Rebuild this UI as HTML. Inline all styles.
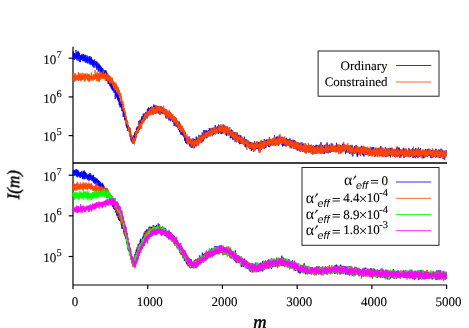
<!DOCTYPE html>
<html><head><meta charset="utf-8"><title>I(m)</title>
<style>
html,body{margin:0;padding:0;background:#fff;}
body{width:469px;height:328px;overflow:hidden;font-family:"Liberation Serif",serif;}
svg{display:block;}
text{font-family:"Liberation Serif",serif;fill:#000;stroke:#000;stroke-width:0.12px;text-rendering:geometricPrecision;}
text.ss{font-family:"Liberation Sans",sans-serif;font-style:italic;font-size:10.8px;stroke:none;}
text.nb{stroke:none;}
text.eq{stroke-width:0.25px;}
text.lb{stroke-width:0.5px;}
</style></head>
<body>
<svg width="469" height="328" viewBox="0 0 469 328">
<rect width="469" height="328" fill="#fff"/>
<g stroke="#000" stroke-width="1.18" fill="none">
<line x1="73.0" y1="46.8" x2="73.0" y2="289.0" />
<line x1="73.0" y1="163.0" x2="447.1" y2="163.0" stroke-width="1.62"/>
<line x1="73.0" y1="285.0" x2="447.1" y2="285.0" />
<line x1="147.72" y1="285.0" x2="147.72" y2="289.0" />
<line x1="222.44" y1="285.0" x2="222.44" y2="289.0" />
<line x1="297.16" y1="285.0" x2="297.16" y2="289.0" />
<line x1="371.88" y1="285.0" x2="371.88" y2="289.0" />
<line x1="446.60" y1="285.0" x2="446.60" y2="289.0" />
<line x1="68.6" y1="58.20" x2="73.0" y2="58.20" />
<line x1="68.6" y1="175.20" x2="73.0" y2="175.20" />
<line x1="68.6" y1="96.90" x2="73.0" y2="96.90" />
<line x1="68.6" y1="215.85" x2="73.0" y2="215.85" />
<line x1="68.6" y1="135.60" x2="73.0" y2="135.60" />
<line x1="68.6" y1="256.50" x2="73.0" y2="256.50" />
</g>
<g fill="none" stroke="#000" stroke-opacity="0.85" stroke-width="1">
<rect x="318.1" y="51" width="120.9" height="45.2"/>
<rect x="302" y="167.5" width="137" height="77.8"/>
</g>
<g fill="none" stroke-width="0.8" stroke-linejoin="round">
<path d="M73 51.9l.15 7.5l.22-.3l.08-7.7l.15 6.8l.07-4.9l.3 1.9l.23 3.6l.29 1.2l.08-6.8l.15 4.4l.07-3.4l.15-.7l.3 5.3l.23-.9l.07-3.8l.23 .1l.07 4.1l.15-8.3l.22 6.1l.15 1.6l.23-1.5l.07 4l.23-6.7l.07-1.5l.15 6.8l.15-1.8l.22-3.3l.15 3.2l.23-2.5l.07-3.5l.15 10.1l.38-9.2l.07 5.2l.08 2.4l.07-4.5l.3 1.6l.15 1.9l.3-1.7l.15-4l.07 4l.15 5l.3-3.4l.15 3.9l.15-2.7l.07-4l.23 4.7l.22-5l.08 .6l.07 3.2l.3-4.1l.08 5.2l.29-4.2l.08 3.2l.22-5.3l.08 4l.3 .4l.15-2.8l.07 1.1l.08 4.6l.29-.2l.23-4.2l.07 3.7l.15-6.3l.15 1.3l.15 4.8l.3 1.2l.08-3.8l.14-.4l.15 1.9l.23-4.3l.07 6.3l.23-6l.3 7.5l.22-1.3l.08-5l.14 1.7l.15-3.2l.08 4.1l.22 3.7l.23-1.3l.07-3.2l.23-.6l.07 4.2l.23-.4l.14-2.7l.15-3l.15 7.9l.3-2.4l.08-3.8l.22-.4l.08 4.8l.3 .9l.07-2.3l.15-1.8l.3 2.1l.15-4.2l.15 3.8l.07 4l.08-6.2l.37-1.9l.15 6.2l.15-4.1l.15 6.3l.15-4.9l.22 3l.08-3.7l.15 1.6l.22-3.8l.23 8.4l.14-7.6l.15 4.8l.15-1.5l.08 3.3l.22-1.2l.15-3.8l.15 1l.23 5.2l.15-5.2l.14 6.4l.38-6.3l.07 4.7l.08-3.8l.15 4.4l.15-4.2l.07 6.2l.23-6.7l.07 4.4l.37-2l.08-3.8l.22 2.4l.15 5.9l.3-2.7l.08-2.8l.15 3l.07-4l.3 3.6l.15-3l.07 1.6l.3-2l.15 6l.08-3.7l.3 6l.15-8.2l.07 .3l.22 4.6l.08 2l.3-3.9l.15-.1l.15-1.8l.15 2.5l.15 6.7l.22-7.5l.15 5.7l.15 .5l.15-2.9l.15-4l.07 4.5l.38 1.4l.07-4.7l.15 .9l.22 5l.15-4.1l.08 7l.3-8.1l.07 4.4l.3-3.2l.08 5l.07-2.8l.08 1.8l.37 1.8l.07-5.7l.15 5.8l.15-4.6l.23 2.6l.07-2.1l.3 1l.15 5.5l.15-7.1l.15 5.2l.15-.7l.07-3.2l.45 5.9l.08-3.6l.15 3.4l.07-3.4l.3 .5l.07 2.6l.3-1.9l.08-1.1l.22 5.2l.15-6.8l.08 2.2l.22 4.2l.15-5l.15 4.6l.22-5.7l.15 6.4l.08-6l.22 8.6l.3-3.4l.08 2.3l.15-5.9l.07 8.5l.15-7.2l.07 7.3l.38-1.8l.07 1.4l.15-3.1l.15-3.7l.3 1.8l.08 8.6l.14-7.1l.23 6.5l.15-1.6l.07-5.3l.23 .2l.15 2.7l.3 .7l.07-2.9l.15 6.9l.15-2.4l.22 4.4l.23-5.6l.07 3.8l.15-4.6l.23 6.5l.07-3.3l.3 .4l.07 4.1l.15-4.8l.08 5.8l.3-6.2l.15 7.1l.22-.7l.15-4.1l.23 2.3l.07-2l.15 5.3l.3-5.7l.07-1.3l.15 7.8l.15-3.5l.15 1.9l.23-.7l.15 3.6l.29 .4l.15-8.2l.23 6.1l.07-2.4l.08 4.2l.15-4.4l.37 2.8l.08 8.2l.07-7.5l.07-1.9l.3 3.5l.15-4l.3 6.9l.08-3.2l.15 0l.07 3.8l.23-4l.07 5l.37-1.6l.15-3.1l.08 .4l.22 7l.23-5.2l.07 3.5l.15-7.2l.15 6.5l.22-2.2l.15 6.2l.15-4.5l.23 1.9l.07 0l.23 5.6l.15-7l.15 6.7l.22-2.7l.15 5.3l.22-.6l.15-5.4l.08 .4l.22 5.2l.15 .4l.15-5.3l.15 4.2l.22-5.1l.23 7.4l.07-3.2l.15-1.4l.23 7.3l.22-.1l.08-6.2l.15 1l.07 4.8l.22-4.3l.08 5.1l.3-1.6l.15 7.3l.15-.9l.07-6.2l.3 2.4l.22 3.3l.08-.1l.07-3.9l.3 1.1l.23 2.9l.07 4.6l.08-5.4l.22-1.3l.22 5.6l.23-1.5l.07 2.3l.23-.8l.15 1.5l.15-1l.22 6.1l.08-4.5l.22 6.2l.15-4.2l.22 1.7l.23 3.2l.07-5.9l.23 1.2l.15 4.7l.07 2.6l.08-5.8l.29-.2l.08 4.1l.3-3.3l.15 2.7l.22 3.1l.15-1.8l.23 1l.07-2.2l.08-1.2l.22 6.2l.15 .5l.07-4.2l.23 1.4l.15 6.1l.22-.2l.23-8.3l.15 6.6l.22 4.9l.15-.1l.07-4.7l.23 6.2l.22-4.6l.15 4l.08-1.6l.22 3.1l.15-5.8l.22 5.5l.15-2.9l.23-1.8l.07 6.1l.08-4.9l.3 3.3l.22-2.2l.08 1.3l.14-1.3l.08-4.3l.3 3.1l.15-3.1l.07 4.2l.08-7.2l.37 2.7l.08 5.5l.15 0l.29-7l.23 5.1l.07-6.1l.15 .4l.15 3.6l.08-5.6l.22 6.4l.23-9.8l.07 5.8l.15-3l.07 3.2l.38-5.9l.15 5.8l.15-6.8l.22 4.8l.23-.7l.07-4.8l.07 1.3l.3 3.1l.23-5.5l.07 5.1l.08 1l.07-9.9l.45 1.4l.08 3.1l.07 4.2l.15-5.8l.22-1.1l.15 1.3l.23-4.2l.07 2.5l.23-2.8l.07 4.4l.3-.8l.07 1.4l.15-.1l.3-5.3l.08 5.4l.07-4.6l.3-2.9l.15 6.4l.15-.9l.08-6.8l.22 6.2l.15-3.9l.22-.5l.23 2.5l.3 1.8l.07-8.5l.08 4.2l.15 3.8l.22-6.6l.07 5.3l.23-2.2l.15-3l.15 5.7l.07-7.3l.38 4.3l.07-4.1l.15 .2l.07 2.5l.38 3.3l.15-7.2l.07 3.8l.23-3.8l.07 3.9l.23-3.6l.14 1.6l.23-1.8l.07-.1l.08 3.3l.3 2.5l.07-4.3l.23-4.2l.22 7.7l.15-3.1l.22-5.8l.23 5.8l.07-5.4l.15 7.2l.15-8.7l.15 6.7l.08-2.8l.22-.8l.15 2.2l.22-1.1l.15 1.4l.15-5.2l.08 5.5l.3-4.9l.15 2.3l.22 2.1l.22-5.9l.08 7.6l.07-5.6l.3 3.7l.15-5.8l.15 3.6l.23-3.8l.15 6l.15-4.7l.14 .4l.08 5.8l.3-1.9l.15-4.1l.22 6.1l.15-6.3l.15 4.7l.15-5.3l.15 3.4l.22-4.3l.15 5.1l.08-7.1l.22 3.4l.23 4.9l.07-6.6l.15 7l.15-2.3l.15-5.5l.37 3.8l.08 1.7l.3-2.5l.07 4.7l.08-5.4l.15 5.9l.22-8.2l.15 5.5l.3 1.1l.07-5l.23 5.9l.07-5.7l.15-1.5l.23 5.4l.15-4.3l.15 5.9l.07-2.5l.07 2.1l.3-5.9l.23 7l.07-3.9l.08-2.6l.3 5.4l.22-3.3l.22-2.2l.08 6.6l.15-1.9l.07-1.5l.38 4.2l.07-2.5l.15-3.3l.15 2.9l.23-5l.07 5.1l.22-.8l.23 2.8l.07-4.4l.08 4.5l.37-.8l.15-6.1l.15 6.5l.08-2.8l.22-3.1l.22 5.3l.08 .9l.22-5.6l.15 6.2l.23-6l.07 1.1l.15 4.8l.37-.8l.08-4.5l.15 4.8l.07-2.9l.15-2.4l.08 5.6l.37-4.1l.08 4.5l.29-2.9l.08 2.9l.3-4.9l.07 4.8l.08 1.4l.15-4.4l.37-.8l.08 7.4l.15-4.3l.14 5.2l.08-1.1l.22-6.8l.15 4.3l.15-4.3l.3 7.9l.08-5l.15 .6l.14 .8l.23-1.2l.22-2.9l.08 2l.15 4.2l.22-.8l.23-3.3l.07 .3l.08 5.4l.22 1.9l.3-7.7l.07 1.1l.08 2.2l.22-1.3l.08 3.4l.3 2l.22-8.2l.22 7.1l.08-4.4l.15 6.6l.07-7.9l.3 4.4l.08-3.2l.3 5l.07-5.6l.15 5.4l.22-3.6l.08 1.2l.07 3.1l.38-4.6l.15 6.6l.22-1.9l.15-3.2l.22 1.1l.08 3.6l.15-.3l.07-3.3l.23 .2l.15 4.6l.22-3.5l.08 6.7l.22-8.5l.22 4.1l.15-2.5l.08 4l.15-1.7l.07 4l.45-.1l.08-8.1l.22 1.8l.08 5.5l.29 2.1l.08-7.5l.15-1.2l.07 7.1l.3 1.9l.15-5.1l.3-1.2l.08 5l.22-3.6l.07 2.3l.08 3.2l.15-5.4l.15-.6l.22 4.5l.23 3.6l.07-6.7l.23 4.5l.07-5.4l.22 7.9l.15-8.6l.15 5.1l.15 5.7l.23-2.4l.07-5.4l.3 6.7l.08-7.3l.37 6l.07-2.1l.3 6.7l.08-6.2l.15 .4l.15 6l.3-1.3l.07-6.8l.07 3.5l.15 3.9l.23-2.2l.07 3.3l.38-4.6l.07 4l.08-4.8l.22 5.9l.22-4.4l.15 3.4l.08-2.3l.07 3.9l.23 .1l.22-3.9l.15 5l.23-2.4l.15-1.1l.22 6.6l.07-3.8l.23 3.7l.07-2.5l.08-5.9l.45 9.3l.07-6.9l.15 8.7l.15-7.5l.22 3.7l.15-2.4l.15 6.9l.08-6.6l.15-1.2l.07 7.4l.3-1.2l.15-2.4l.15-1.9l.15 4.8l.22-1.5l.23-1l.22-1.4l.15 4l.08 .2l.15-2.2l.22 2.8l.15-3.4l.15-3.8l.07 6.7l.3-3l.15 5.6l.15-1.8l.15-4l.15-.8l.22 7.8l.23-4.2l.07 1.9l.23-5.7l.15 7.1l.22-.8l.15-5.4l.08 8.2l.07-7.9l.3 5l.15-4.9l.15 5.7l.07-6l.3 6.6l.23-6l.15 7.3l.14-7l.15-.4l.15 3.4l.15 .8l.08-5.2l.3-1l.07 7.5l.38-6.1l.07 8.6l.15-4.1l.22-4.5l.08 4.3l.22-4.7l.08 .6l.15 3.3l.3 3l.07-5l.3 .5l.07-2.3l.23 6.5l.07-9.4l.23 3.7l.07 5.5l.15-5.8l.15 4.5l.3-6.7l.15 6.4l.3-.6l.07-3l.15 3.8l.15-4.4l.08-.3l.3 2.4l.07 1.1l.08-5.7l.22-.5l.07 3.5l.3-5.5l.08 6.8l.22-1.8l.08-3.3l.22 4.9l.08-4.4l.37 5l.07-3.4l.15-.8l.08 3.5l.3-5.5l.15 6.2l.3-7l.15 5.2l.14-1l.15-4.1l.08 7.9l.22-6.5l.3 5.2l.08-9.4l.15 8.8l.22-5l.08 4.6l.07-5.3l.3 6l.07-6.5l.23 5.6l.22-6.8l.08 5l.07-8.4l.3 1.4l.15 7.3l.15-9l.07 9l.3-1.4l.15-3.8l.3 4l.08-6l.07 6l.3-6.3l.07-.2l.23 5.1l.15-6.4l.22 8.2l.23-2.3l.07-1.8l.15 3l.23-6.7l.07 4l.07-2.7l.38 2.7l.07-2.7l.3 0l.08 4.3l.07 .5l.15-6.2l.3-.1l.07 4.4l.23 1.6l.15-6l.15 4.9l.22-5.6l.08-1.5l.15 7.3l.22 .2l.15-3.2l.15-3.9l.15 7.3l.15-6l.15 4.2l.22-4.5l.15 4.5l.37-5.8l.08 5.4l.07-.9l.08-2.9l.37 4.5l.08-3.9l.07 1.4l.3-3.9l.15 .8l.15 7.5l.22-4.4l.08-3.6l.22 .8l.08 4.3l.15 1l.15-3.6l.22 3.9l.15-6l.22-.7l.15 5.7l.3-2.6l.08 1.8l.15-3.7l.22 1.6l.15-.5l.15-5.2l.3 6.3l.07-2l.08 3.2l.15-6l.22 6.2l.08-3.7l.15-1.1l.3 5.1l.22 .2l.07-4.8l.15 5l.23-4.6l.15-2.1l.15 3.8l.07-4l.08 3.3l.3-1.4l.07 2.9l.45 2.6l.07-9.4l.23 7.5l.07-6.9l.15 7.4l.15-4.2l.15-2.2l.08 4.2l.22-3.9l.15 4l.15-4l.22 4.1l.23 2.7l.15-6.7l.3 1.5l.07 5.6l.08-7.9l.22 5l.15 3.4l.07-8l.3 .2l.15 7.5l.08-4.2l.15-3l.3-.4l.14 5.6l.08 .7l.22-6.5l.15 7.3l.08-8.9l.22 3.5l.08 2.1l.37-2.9l.15 3.7l.15-.7l.15-2.9l.15 2.9l.15-4.7l.15 5.3l.22-3l.3 .4l.08 2.5l.14 2.3l.15-2.8l.08 .7l.3-4l.15 7.9l.15-4l.07-2.5l.15 7.8l.23-6.4l.14 2.9l.3-2l.15-4.1l.15 7.2l.08-2.9l.15 3.2l.3-4.2l.22 6l.07-5.9l.15 .6l.15 3.2l.08-3.9l.07 2.3l.45-1.5l.08 1l.22 3l.15-6.3l.07-1.1l.08 5.9l.3 1.8l.22-4.5l.08 8.1l.07-7.6l.23 6.7l.15-5l.37-2l.07 7l.08-8l.07 6.1l.38-5l.07 7.3l.15-.6l.08-5.3l.44-1.5l.08 6.1l.15 3.1l.07-6.6l.15 2.6l.23-3.6l.15 .3l.22 5l.08 2.2l.14-3.6l.38-.7l.07-3l.08 6.4l.3-4.6l.15 3.9l.15-3.3l.07-2.1l.15 9.2l.3-8.9l.15 4.8l.22-2.4l.15 5.8l.23-4.2l.07-3.9l.08 6.7l.15-2.5l.22-.9l.15 3.4l.22-1.4l.08-5.7l.15 6.9l.15-3.3l.3 0l.15 1.7l.07-2.3l.07 5.4l.3-1.6l.23-3.4l.15 6.7l.15-8.1l.15 2.4l.22 3.6l.22 1.8l.15-4.1l.15 5.9l.15-7.4l.3-1.4l.08 8.3l.07-6.5l.08 6l.22-1.6l.08-6.2l.44 8.4l.08-5.7l.07 .7l.23 1.8l.22 2.2l.15-6l.08 7.1l.15-4.4l.29 3.5l.15-3.9l.08-.4l.15 2.8l.3-2.6l.15 4.7l.15-.6l.07-2.7l.3 2.8l.07-4l.15 4.8l.23-3.9l.15-3.4l.07 8.7l.3-5.9l.08 6.8l.22-5.1l.15 5.1l.15 .3l.22-7l.15 .2l.15 7.7l.15-8.1l.15 6l.15 .7l.15-2l.37 2l.08-6.3l.15 1.6l.07 4.4l.3-4.1l.08 2.9l.22-1.8l.15 3l.07-.2l.23-4l.15 1l.07 4.2l.38 1.5l.07-6.9l.15 3.1l.15 3.5l.15-5.5l.07 4.3l.23-1.3l.07-2.6l.3 6.3l.15-6.2l.3 4.8l.15-4.1l.07 5.4l.15-6.9l.3 6.7l.08-5l.22 7.2l.08-5.9l.3 4.7l.15-5.6l.07 5.8l.15-6l.37-.4l.08 5.7l.07-6.2l.08 4.2l.22 1.9l.08-4.4l.3 3l.07-3.4l.22 7.5l.15-9.1l.15 7.4l.15-7l.23 .2l.15 5.6l.15-7.6l.07 8.3l.3-5.3l.15 4.6l.22 1.3l.08-7l.22 5l.15-2.5l.38-.9l.07 3.8l.07-2.6l.15 2.7l.3-4.6l.15 4.1l.23-6l.07 4.7l.08-3.4l.22 5.3l.15-1.5l.22-4.7l.15 4l.08-3l.15-1.5l.07 7.5l.38-6l.07 3.4l.3-4.8l.07 8.5l.15-4.7l.15-1.7l.23-1.6l.07 5.6l.38-1.3l.07-4.4l.23 6l.14-7.4l.23 4.9l.07-2.9l.08 4.7l.07-6.2l.38-.1l.07 8l.15-8.4l.08 7.1l.44-1.8l.08-4.2l.07 3.2l.23-4.6l.22 5.6l.15-3.1l.15-2.3l.15 6.5l.08-5.8l.14 3.2l.38 2.4l.07-5.3l.23 .1l.15 6.3l.07-9.6l.23 10.1l.07-3l.08-3.5l.29 5.2l.23-2.5l.07-3l.15 5.4l.38-7.8l.07 4.6l.08 3.3l.22-5l.22 1.2l.15-2.5l.15-1.9l.15 5.4l.08 .8l.15-4.8l.37 2.7l.08-2.2l.07 1.1l.07 2.3l.45 1.3l.08-6.2l.15 4.5l.07-3.2l.23-1.7l.15 7.3l.37-4l.07 4.2l.15-10.1l.08 9l.22-1.3l.08-5.2l.37 1.1l.08 5.7l.07-1.5l.07-3.7l.23-2.2l.07 6.9l.45-3.3l.08-3.1l.3 5.7l.07-4.9l.08 3.7l.22-4.6l.07 4.7l.08-3.4l.3 2.9l.07-1.1l.3-3.4l.23 4l.15-.3l.14-2.9l.08 4.6l.15-4.7l.3 .1l.15 4.8l.07-.1l.15-7l.38 4.5l.07-5.3l.07-1.6l.08 5.5l.3-1.8l.22 6.9l.08-7.6l.07 6.2l.3-3.6l.08-2.9l.29 5.9l.15-5.7l.08 6.6l.22-4.3l.23-3.5l.15 8.1l.07-.2l.3-8.2l.15 6.2l.07-3.7l.3 5.2l.08-3.3l.3-4l.07 5.7l.15-3.5l.23 6.6l.15-3.2l.07-3.6l.15 2.2l.22-5.8l.15 8.9l.23-4l.15-3.5l.15 6.2l.15-5.7l.22 5.4l.15 .3l.07-4.5l.38-1.3l.07 4.9l.15-2.1l.08 3.9l.3-3.4l.15-3.4l.14 4.4l.15-1.7l.23 4.5l.15-6.1l.22 8.5l.08-9.8l.15 .1l.07 6.1l.15-3.9l.22 5l.15-4.8l.15 6.4l.23-7.6l.15 6l.22-1.5l.08-2.9l.22 1.8l.15-3.2l.22 7.4l.15-4l.15 2.2l.08-4.9l.3 .5l.15 6.8l.22-1.4l.15-4.9l.22 1.8l.08-3.4l.22 5.9l.15-6.5l.23 5.9l.07-3.1l.23 2.7l.07-4.1l.15 0l.22 6.4l.08 0l.22-5.4l.08 3.4l.22-4.6l.15 3.9l.15-2.4l.15 5l.08-4.7l.29 1.1l.23 2l.22 1.1l.15-6.3l.08 6.4l.22-4.8l.15 6.3l.08-3l.22-5l.07 8.2l.3-5.4l.23 6.4l.15-1.8l.07-3.1l.15 5.5l.15-6.1l.3-2.1l.15 4.9l.07 .8l.08-6l.37 2.3l.15 2.5l.15-3l.15 4.6l.07 1l.15-7.6l.3 9l.15-4.2l.3 3.4l.08-7.1l.07 6.8l.15-3.9l.15-1.4l.07 5.7l.3-8l.23 4.4l.15 .3l.07 4l.3-2.8l.15-4.4l.08 1.6l.07 4.8l.22-6.1l.15 7.6l.38-2.7l.07-4.4l.08 5.4l.3-2.2l.15 .2l.14 4.9l.08-7.9l.07 5.8l.3-5.6l.15 6.3l.23 1.3l.15-8.4l.15 .8l.15 7l.14-4.2l.15 2l.3-3l.15 4.3l.23-5.7l.07 7.4l.15-4.8l.23 5.1l.22-4.9l.07 4l.23-7.1l.07 8.6l.3-9.1l.08 6.7l.15-1.5l.15-3.2l.22 3.8l.15-3.4l.07 3.2l.3-5.7l.08 8.3l.15-5.6l.3 4.5l.15-5l.07 7.4l.15-5.3l.22-2.4l.08 6.1l.22-6.8l.08 5.8l.3 .6l.07-3.5l.23-1.5l.15 6.9l.22 .2l.15-5.2l.22 3.7l.15-3.5l.08 1.9l.22-3.7l.3 .8l.08 4.2l.07 2l.07-6.5l.3-1.1l.08 8.8l.37-3.8l.08-3.7l.22 3.6l.15-2.4l.08-.3l.07 5.1l.22-1.3l.3-4.4l.15 3.9l.08-2.5l.15-.6l.15 2.4l.3-4.9l.07 7.8l.15-1.8l.15-3.6l.15 1.9l.3-2l.22 .4l.08 5.1l.15-7l.07 6.6l.3-2.1l.07-4l.15-.3l.15 6.5l.23-6.9l.22 2.6l.15 3.9l.15-3.4l.15 2.9l.15-6.2l.22 5.2l.15-3.8l.23 1.4l.15 3.9l.15-2.9l.15 4.2l.14-6.7l.23 8.3l.07-4.2l.23-3l.07-.8l.15 5.5l.23-4.5l.07 4.6l.37-5l.08 6.2l.3-5.2l.07 5.3l.15-7.5l.23 5.8l.07 1l.08-5.1l.37 1.3l.07-3.3l.23 5.5l.15-4.4l.07 6.7l.23-8.8l.22 1l.08 5.4l.15 1.3l.15-3.7l.14-3.7l.08 7.5l.3 .6l.15-2.8l.15-4.4l.22 6l.23-3.1l.07-3.1l.15 6.8l.22-4.5l.23 3.9l.15-3.9l.07 4.4l.23-6.8l.15-.4l.07 7.7l.45-1.9l.07-3.6l.08-3l.15 4l.3 2.9l.07-7.4l.23 9.6l.15-5.4l.07-5.9l.22 7.1l.15-.6l.08 3.4l.37-.4l.08-4.2l.07 4.3l.08-6.1l.37 3.6l.08-3.4l.29-1l.15 7l.15-3.7l.08 4.5l.15-5.7l.22 6.9l.23-2.9l.07-4.3l.15 1.1l.3 5.7l.07-8.4l.08 7.2l.3 1.1l.15-5.8l.07 4.1l.23-3.3l.15 2.4l.07-6l.37 1.4l.15 3.8l.08-.4l.15 3.4l.15-1l.3-4l.22-1.8l.07 4.7l.15-8.5l.15 8.6l.15 1.2l.15-8l.15 .7l.08 7.6l.3-6.8l.15 7.6l.14-7.9l.08 4.9l.3-4.6l.07 4.3l.23-.4l.07-3.6l.3 3.8l.23-5.2l.14 7.8l.08-6.7l.22 .6l.23 6.6l.07-6.9l.15 3.9l.38-3.3l.07 5.3l.15-.4l.07-7.3l.15-.9l.23 6.7l.22-1.4l.15 3.3l.08-7.1l.3 5.4l.15 .4l.14-2l.15-4.7l.15 2.1l.15 5.8l.15-5.1l.15 4.3l.08-4l.37 2.5l.07-1.7l.23-1.2l.07 4.7l.15 0l.08-5l.45 2.5l.07-3l.23 1.3l.07 3.6l.15-2.5l.07 3l.3-4.9l.15 2.9l.15 2.8l.15-7.1l.15 7.3l.15-9.4l.3 8.7l.15-5.9l.07 1.3l.15 2.1l.23 .4l.15-2.7l.15 1.6l.07-.3l.3 1.1l.07-3l.38 4.4l.07-4.1l.08 4.5l.15-2.8l.22 3.3l.23-4.7l.15 .2l.14 1.1l.15 .1l.23 1.6l.15-4.4l.07 4.3l.3-.1l.08-4.2l.15 7.8l.07-6.8l.3 5.4l.22-5.5l.15 4.3l.15-3.4l.3-.9l.08 6.3l.15-7.7l.15 4.5l.14-1.5l.23-3.5l.15 1.6l.07 1.3l.15 4l.3-8.1l.15 6.8l.08 .9l.22-6.9l.07 5.8l.3-4.2l.08 5.3l.37-3.4l.08-2.1l.07 3.3l.23-1.8l.07-1.1l.15 5.7l.37-5.8l.08 8.5l.15-8.8l.07 5.2l.15 1.9l.08-6.6l.37 5.2l.08-4.2l.29 .2l.08 3.4l.3 2.3l.07-3.4l.08-2.1l.07 4.7l.3-1.4l.23-3.7l.14 4.8l.08-5.6l.37 .1l.08 6.3l.22-5.4l.15 3.1l.08-2.4l.22 2.5l.22-3.4l.08 3.7l.22-4l.15 7.5l.08-3.9l.22-4.9l.15 5.8l.23-3.5l.07-.7l.08 4.6l.22 1l.07-5.3l.45 2l.08 1.3l.15-3.9l.07 5.5l.23-7.2l.15 8.9l.29-.2l.08-5.5l.15-.3l.15 8.8l.3-8.5l.15 5.1l.07-2.1l.08-3.5l.44 4.7l.08-4.2l.15 2l.07-2.6l.3-.8l.08 5.2l.07-5.6l.3 7.5l.07 .2l.15-4.6l.3 1.4l.08-4l.15-1l.07 3.9l.38 1.1l.15-5.7l.07 4.3l.07 3.1l.23-5.6l.22 3.6l.3 6.2l.08-8.6l.15 2.2l.22 6.1l.15-8.4l.07 3.5l.23 1.7l.22-3l.15-.9l.15 1.9l.23 .6l.07-3.7l.15 1.6l.22 4.7l.23-6.1l.07 4.9l.23-4.4l.15 5.7l.07-2.8l.23-4.8l.22 1.2l.15 7.6l.07-3.1l.08-4l.22 3.8l.08-4.4l.3 4l.07-6.1l.45 7.6l.08-3.9l.07-3.4l.07 5.3l.23 1.9l.15-3.5l.3 3.2l.07 2l.15-7.7l.08 5.4l.22 2.8l.08-5.7l.29 1.9l.08-1.7l.22 6.6l.15-9.1l.38-.5l.07 4.9l.23-.4l.14-3.5l.15 7.1l.15-3.9l.3-3.8l.08 6.7l.07-3.9l.23 3.8l.22-6.2l.08 6.1l.22-.7l.07-3.1l.3 2.5l.08 2.3l.15-7.2l.15 3.3l.22-1l.15 2l.15-2.8l.15 4.3l.15-4.1l.07 4.8l.45-3.7l.08-2l.22 .9l.08 4.1l.22-3l.15 3.9l.22-5.8l.08 7.2l.15-2.5l.22-3.4l.15 5.5l.08-6.2l.22 5.2l.08-5.3l.37 .4l.07 4.3l.08-2.4l.15 2.4l.22 .4l.08-5.7l.3-.9l.07 5.2l.3 3l.15-8.6l.15 1.8l.15 6l.22-1.6l.15-3l.15 3.5l.15-5.3l.15 2.3l.22 4l.15-8l.08 5.9l.3 2.6l.07-5.8l.23 3l.07-3.5l.3 1.8l.15 5.8l.22-1.1l.08-4.9l.15-.7l.07 5.9l.15-3l.23-2.6l.15-2.7l.07 5.2l.37 1.4l.08-2.9l.15-1l.15 2.7l.3 2.5l.07-4.5l.15 .7l.08-3.4l.22 2.5l.3 2.7l.15-4.9l.07 6.6l.15-2.6l.3-2.7l.15-1.9l.08 5.6l.22 1.2l.07-3.1l.23-1.7l.07 5.7l.3-2.6l.08-2.5l.15 .7l.07 3.6l.3 .5l.15-2.6l.22 1.6l.08-8.3l.22 8.5l.15-4.4l.38 1.2l.07 4.3l.08-.3l.14-4.9l.15-2.6l.23 7.2l.15 1.3l.07-8.6l.3 8.1l.23-4.7l.07 3.2l.22-5.4l.3 6.5l.08-5.7l.15 .7l.07 3l.23-1.4l.07 3.9l.3-4.4l.15 3.8l.07-5.7l.23 2.4l.22-2.7l.15 3.3l.15-5.7l.08 10.2l.22-7.8l.15 6.1l.15-4.8l.07 4.9l.38-.1l.07-6.7l.23 5.1l.15-4.7l.07 6.7l.08-4.6l.44 5.1l.08-3.6l.22-2.6l.08 5l.3-.3l.07-6.8l.08 3.7l.15 3l.22 1.3l.22-6.2l.08 6l.15-5.2l.22 4.5l.15-3.5l.15-1.5l.08 3l.45-4.3l.07 6.5l.07-2.1l.15 4.1l.15-9.4l.08 4.9l.3 1.5l.07-6.7l.3 1.5l.08 3.6l.22-2.1l.07 1.6l.23 1.4l.22-4.3l.23 5l.15-3.3l.22-.8l.08 3.4l.22 1.7l.15-5.8l.15 6.3l.07-4.1l.15-1.6l.08 4.4l.3-3.8l.22 4.2l.08-5.5l.29 7.4l.08-3l.15-2.3l.15 2.7l.07-3.9l.3 4.1l.08-3.6l.3-1.5l.22 7.8l.07-3.4l.23-3.9l.22 5.2l.08-7.3l.07 2.9l.15 5.3l.23-.8l.22-5.5l.15-2.8l.22 9.9l.15-4.4l.08-2.5l.22 4.5l.08-3.5l.3 3.1l.07-3.8l.22-2.6l.15 8.4l.23-1.3l.07-7l.23 2.1l.15 4.3l.22 3.5l.15-5.1l.15 4.7l.07-8.2l.38 4.1l.07 3.3l.15-6.7l.08 7.9l.37-6.5l.08 2.8l.22 .3l.07-1.9l.23 3.4l.07-3.9l.23-1.1l.15 4.1l.22-5l.08 3.4l.15-3.5l.07 3l.37-2.2l.15 3.5l.08 1.1l.22-4.6l.23-2.7l.15 6.8l.07 3.3l.15-9l.3 1.3l.07 3.6l.15-2.1l.23 4.7l.15-1.2l.15-5.4l.07 5.8l.08-3.8l.37 5.1l.07-7.9l.38 .4l.07 6.4l.08-6.3l.15 4.6l.15 1.7l.07-4.9l.38-.6l.14 3.9l.15-2.1l.23 3.2l.15-.6l.07-1.7l.15 2.5l.3-4.2l.23 2.5l.07-2.5l.07-1.1l.23 6.9l.07-9.2l.15 7.4l.3-1.4l.15-3.9l.23-.8l.07 3.7l.15 2.4l.15-4.3l.15 .3l.22 5.6l.3-6.8l.08 6.3l.07-5.5l.23 4.2l.15-2.7l.22 2.7l.3-4.6l.07 4.6l.23-1.3l.07-3.1l.15 .2l.08 6l.3-8.8l.14 8l.15 1.9l.15-4.5l.15 3.8l.08-7.7l.3 6.1l.15-5l.15 5.5l.15-3.7l.29 2.4l.08-5l.15 7.3l.22-7.7l.15 4.2l.08-3.8l.15 8.3l.07-8.1l.3-2.1l.15 8.3l.3-5.1l.07 5.8l.15-8.3l.15 6.7l.15-.5l.23-5.8l.14 4.6l.15-1l.23 .7l.15-3.6l.07 8.3l.15-7.4l.23 .3l.15 6.8l.29-10.4l.15 9.4l.08-1.7l.15-3.8l.22 5.1l.08-5.4l.22-2.1l.15 4.7l.15-3.8l.3 7l.15-2.3l.07-3.8l.23 3.7l.07-6.4l.3 7.8l.08-4.3l.37-.4l.07 3.9l.08 .5l.07-4.1l.3 .3l.15 2.9l.3 .7l.08-4.5l.22 1.3l.08 2.2l.22-2.9l.15 5.2l.07 1.8l.08-5.9l.3-1l.15 4.1l.15 1.6l.07-4.5l.45 5.4l.07-8.2l.08 1.2l.07 4.1l.23-4.5l.3 4.5l.22-1.8l.08 2.5l.07-.1l.15-6.9l.37 3.8l.08-2l.22-1l.08 4.6l.22-3.1l.15 4.4l.08-1l.15-4.4l.22 6.7l.22-8l.08 .9l.15 6.1l.15-3.5l.07 3.8l.38-.3l.15-4.5l.22 3.5l.07-6l.3 5.7l.08-3.1l.3 4.7l.07-3.9l.08 3.3l.07-4.5l.23 4.5l.07-5.4l.3-1.1l.07 6.5l.3-.2l.15-3.6l.08 .8l.07 4.8l.38 .9l.07-6.4l.15 3.6l.3-5.6l.15 4.2l.15-2.2l.15 6.2l.07-6.7l.23 3.6l.22-5.4l.15 5.6l.07-5.7l.3 1l.15 6.7l.23-3.6l.07 2.7l.23-2.6l.07 3.3l.22-.4l.15-5.1l.08 1.3l.07-2l.38 4.9l.07-2.6l.15 .9l.08-3.3l.3 1.4l.22 5.3l.07-.7l.23-8l.3 8.2l.07-4l.23-3.4l.07 3.1l.15 .3l.07 4.4l.23-5.4l.15 3.1l.22-3.8l.23 2.6l.15-1.9l.07 4.7l.37-5l.08 3.1l.15-1.1l.15-2.3l.07 2.1l.15-3.8l.3 3.7l.08 3l.22 1.6l.08-8.1l.22 4.7l.15-1l.37 0l.08 4.3l.07-4.5l.15 1.4l.15 3.3l.23-6l.14-3.4l.15 4.9l.3-1.7l.08 3l.15 1.4l.15-6.7l.22 .4l.23 6.7l.14-4.9l.08 4.5l.15-5.9l.15 6.5l.22-3.2l.15 5.6l.15-7.6l.15 2.5l.15 1.5l.22-4.5l.3 3.9l.08-4.4l.22 4l.08-2.1l.22 7.2l.15-5.8l.08 2.6l.15-3.6l.29-2l.15 4.1l.08 1.2l.22-3l.15 2.7l.23-5.4l.07-.1l.23 4.5" stroke="#0000ff"/>
<path d="M73.07 78.8l.15-5.8l.23 5.8l.07-4.2l.15 5l.08-6.5l.3 3.2l.15 3.7l.22-4.6l.15 4.7l.15 1.7l.07-6.3l.38-2.4l.07 7.9l.15-.6l.15-4.3l.23 4.7l.07-6.6l.15 .5l.22 4.5l.08 .8l.3-2.6l.07 2.2l.15-3.9l.15 4.5l.15-3.4l.22 3.5l.08-5.5l.22 3.2l.23-2.1l.15 4.1l.22-4l.23 4.4l.07-8.3l.08 8.9l.14-7l.23-.1l.07 4.2l.23-3.9l.15 4.6l.3-5.2l.07 6.4l.3-6.5l.15 7l.07-.2l.23-4.3l.07 2.5l.3-3.7l.23 6.7l.07-6.7l.15 4.9l.15-3.9l.07 4.1l.15-6.2l.23-1l.07 7.1l.3-5l.15 3.6l.23-2.4l.07 4l.3-6.9l.15 6.5l.07-4.3l.15 2l.23 2l.07-3.9l.23 .2l.07 3.5l.37 2.7l.08-6.5l.15 2.2l.07-3.3l.3 3.6l.23-4.5l.15 7.4l.15-3l.14 .2l.15-2.5l.08-1.3l.22 3.3l.23 .6l.07-2.2l.23 1.1l.07 2.4l.23-1.3l.07-4.7l.37 6.3l.08-4.9l.22 5.7l.08-4.4l.22-.8l.15 6.1l.15-4.3l.15 2.9l.15-6l.07 6.6l.38 1l.15-6.5l.07 2.8l.3-3.6l.08 7.4l.22-5.2l.15-.2l.15 3.5l.07-3.1l.3 2.6l.15-3l.15 4.2l.15-4.9l.15 2.8l.22-5.8l.15 6.3l.3-2.9l.08 3.9l.07 1l.15-5.4l.15 4.2l.08-3.2l.3-.1l.14 2.6l.15-1.3l.23 3l.22-.6l.08-5.8l.22 1.4l.15 3.5l.08-1.1l.22-3.1l.3 1.6l.07 2.7l.15 .8l.23-5.2l.15 4l.07-8.7l.3 8.8l.08-5.1l.14 2.6l.15-2.3l.15 3.1l.3-1.8l.23-.3l.07 5.6l.3-1.1l.08-7.2l.07 5.1l.22-1.4l.15-3.6l.08 4.5l.3 4.2l.07-6.1l.15 3.6l.15-5.6l.3 8.3l.07-6.5l.3 1.9l.08-2.5l.3 6.3l.07-6.4l.23-.7l.07 8.3l.23-4l.07-5.7l.15 2l.15 4.5l.15-5.6l.15 3.3l.22 3.4l.23-6.3l.07-.4l.23 5.2l.14-4l.23 3.5l.15-5.6l.22 6.8l.08-4.2l.22 3.1l.08-2l.07-2l.23 2.9l.22-2.5l.3 4.6l.07-7.9l.23 6.5l.15-2.4l.07 4.1l.15-5l.15 4.9l.15-5.7l.3 4.9l.15-4.2l.15 .7l.22 3.5l.23 2.5l.07-7.7l.22 4.6l.08-4.9l.15 1.7l.22 6.6l.23-3.6l.15-1.8l.07-.7l.08 3.9l.22 .6l.15-4.1l.15-1.7l.07 4.1l.38 2.1l.07-6.1l.15 8.4l.08-7l.37 5.5l.15-5.5l.07 1.2l.23 3.9l.22-4l.08 4.2l.15-3.5l.15 4.9l.3 1.1l.07-6.5l.22-1.3l.23 5.3l.07 .3l.15 1.4l.15 1.2l.15-6.1l.23 6.2l.22-4.3l.08-2.6l.22 1.9l.07 .7l.3 3.9l.08-4.9l.07 5.2l.23 .8l.3-4.2l.07-1.5l.15 4.2l.15-4.7l.3 7.9l.07-2.5l.08-2.6l.3 5.7l.22-5.1l.08 6.9l.22-4.9l.07-.4l.3 5.5l.15-1.7l.08-4.8l.22 5.5l.15-3.9l.08 7.1l.15-5.7l.22-1.3l.15 4.1l.3 1.9l.15-7.1l.07 7.8l.08-5l.37-1l.08 7.2l.15-6.2l.22 5.3l.07-4.9l.23 4.7l.22-.8l.15-2.7l.3 .1l.08 5.9l.15 1.4l.07-7.2l.22 5l.15-4.4l.3 4.6l.08-2.5l.07 .6l.15 4.1l.3-4l.08 5.4l.14-1.8l.15 3.7l.23-3.1l.07-1.8l.23 2.9l.15 .9l.15-3.8l.15 8.6l.29-.2l.15-5.8l.08 8l.3-6l.07 6.1l.08-4.9l.22 5.3l.3-1.8l.15 4l.15-4.4l.07 7l.15-8l.23 1.2l.07 3.8l.3 5.3l.08-5.5l.22-1.9l.22 6.6l.08-2.3l.15 3.9l.15-3.9l.22 4.4l.23-1.5l.15 2.9l.07-2.4l.3 6.4l.07-5.5l.23 3.3l.07 1.7l.15-1.8l.23 .6l.07 6.8l.45-6.4l.07 7.3l.08-2.1l.15-1.8l.15 4.9l.07-4.9l.38 1.3l.15 5l.22-.1l.08-4l.07 2.5l.3 5l.15 .3l.07-3.4l.15 5l.15-3.6l.3-1.2l.08 2.3l.15-.7l.22 6l.22-6.2l.08 7.9l.22 0l.15-8.3l.15 4.9l.23 2.9l.15 .4l.14-2.9l.15-.9l.08 7.2l.3-1.4l.07-2.8l.23 2.3l.07-2.2l.23 .3l.15 5l.14 1.8l.15-2.7l.3 4.4l.08-3.6l.22-1l.08 4.7l.22-7l.23 5.4l.07 1.5l.15-3l.3 2l.07-5.2l.23 1.5l.15 5.2l.15-1l.15-4.2l.29 1.4l.15-4.9l.15-3.4l.08 8.8l.15-4.5l.07-2.5l.45 4.2l.08-6.1l.07 5l.22-7.1l.08 1l.07 3.4l.3-.6l.15-4l.23 3.5l.22-4.3l.08 3.3l.07-4.3l.22 5l.23-5.8l.15 5.5l.22-5.7l.08 4.8l.07-8.7l.3 5.7l.23-5.7l.07 5.5l.3-4l.22-.3l.08 4.4l.15-4l.07 4l.23-2.9l.07 3.2l.37-3.4l.08-3l.3 5.3l.07-8.1l.23 3.1l.07 4l.15 1.5l.23-7.1l.15-.6l.14 3.5l.08-.3l.22-5.2l.15 4.8l.23-3.7l.22-.1l.08 1.4l.22 .2l.15-4.4l.07-.5l.15 6.5l.23-3.6l.22 .8l.15-1l.08-4.4l.22 1l.08 3.5l.37 .7l.07-5.2l.08-1.9l.15 6l.22-5.2l.15 4.2l.23 .8l.07-6.1l.37 5.2l.08-1.6l.22 .9l.15-3.6l.15 4.8l.15-6.9l.3 2l.08 4.3l.07-6.4l.22 4.9l.15-.4l.15-4.2l.15 2l.15-1.3l.15 2.2l.15-3.8l.23 5.1l.14-6.3l.15 4.2l.23-3.3l.15 3.2l.15-4.6l.22-.4l.08 4.6l.22 2l.08-3l.37 2.7l.07-5.4l.08 4.5l.22-5.2l.3 5.2l.08-6.9l.07 6.9l.15-4.8l.37 3.2l.08-3.8l.15-2l.22 5.6l.23 2.1l.07-4.9l.15 1.5l.15 4.1l.22-7.1l.08 5.5l.15-6.4l.22 2.1l.15-1.3l.08 5.1l.22-5.7l.23 6.6l.07-3.6l.22-2.8l.15-.7l.23 5.1l.07-2.6l.3 3.3l.23-1l.07-2.3l.08 3.7l.15-7.6l.22 8l.22-7.3l.08 4.2l.15 2.7l.22-5.3l.08 2.6l.3 2.5l.15-6.7l.07 .4l.07 4.8l.38 2l.07-7.3l.3 4.9l.08-4l.22 .8l.15 3.4l.08-1.4l.14 1.3l.23-5.2l.15 5.3l.22-1.8l.15 5.4l.23-5.9l.07 2.7l.37 3.3l.08-6.7l.07 2.7l.23-1.9l.15-2.7l.07 5.3l.38-1.9l.07-1.9l.08 1.3l.15 3l.29-.7l.08-3.9l.3 .8l.07 4.3l.3-.6l.08 2.4l.15-1.5l.07-1.8l.15-1.2l.07 4l.38-8.1l.15 5.2l.15 2.6l.22-3.4l.15 1.7l.15-2.8l.08 4.4l.22-4.3l.22 6.1l.08-5l.22 4.5l.08-4l.22 4.7l.23-3.9l.15 4.9l.07-6.1l.3 3.6l.15-4.7l.07 1.1l.08 7.9l.22-1.7l.08-5.5l.37-.2l.15 3.7l.22-3l.15 5.9l.08 .6l.22-4l.3 1.8l.08-3.9l.07 4.9l.15-4.9l.3 1.8l.07 3.6l.23-7.3l.15 5.6l.22-4l.08 5.2l.15 2.3l.22-4.7l.22 3.4l.08-4.7l.15-.8l.22 5.7l.23 1.4l.07-6.2l.08 6.3l.15-5.8l.22 2.3l.15 2.2l.15-4.1l.15 6.3l.37-5.4l.08 2.1l.3 2.1l.07-5.3l.15 6.3l.15-4l.3 2.4l.07 5.5l.08-2.7l.07-4.4l.3 4.8l.08-5.5l.3 2.3l.14 3.7l.08-5.9l.15 5.8l.15-4.9l.3 5l.15-5.2l.07 6.3l.23 0l.22-4.4l.07 7.3l.15-5.4l.3 2.8l.15-5.4l.15 6.5l.08-5l.3 2.1l.15 3.2l.14-3.3l.15 4.8l.23-5.6l.07 5.1l.3 1.2l.08-4.9l.15 6.6l.07-6.9l.15 .5l.3 5.9l.07-4.8l.15 5.1l.23-3.1l.22 4.3l.23-5.3l.07 4l.23-5.6l.07 5.6l.15-3.5l.07 7l.38-2.1l.15-3.9l.22 .1l.08 5.3l.07-.6l.08-4.5l.37 5.5l.15-6.9l.15 3.9l.07 2l.23 1.5l.15-6.4l.22 .8l.15 4.4l.3-2.8l.07 4.2l.15-4.3l.08 5.5l.15-2.2l.3 2.5l.15-2.8l.07 4.5l.3-.5l.15-5.4l.07 3.4l.23 2.1l.15 2.1l.07-4.3l.3 3.3l.08-3.8l.15 4.8l.07-4.4l.37 5.5l.15-2.8l.08 .9l.15-.6l.15 5.8l.22-5.4l.15-2.3l.08 7.5l.29-5.1l.08 6.1l.3-2.7l.15 4.7l.07-3.8l.08-3l.37 2.2l.15 3.7l.07-6.7l.15 5.7l.3 .4l.08-3.1l.3 3.4l.15-3.5l.15 .1l.07 3l.22-3.3l.23 3.7l.07-4.2l.08 1.5l.3-2.5l.07 5.3l.3 2.9l.15-6.2l.22 .8l.08 4.3l.07-3l.08 1.9l.3 1l.15-2.1l.22-5l.15 5.2l.15-2.9l.08 2.2l.29-1.6l.15 7.1l.15-6.5l.15 5.5l.38-.9l.07-5.6l.08 2.9l.22 1.6l.22-5.4l.15 5.9l.15-2l.15 1.6l.08 1l.22-4.9l.23-2.2l.07 4.3l.15-.6l.15-2.1l.22-.4l.15 6.7l.15-7.2l.15 3.1l.38 1.1l.07-4.2l.08 3.9l.22-1.3l.07 1l.08-4l.37 1.4l.08 4.7l.15-8.3l.22 8.1l.15-1.1l.08-6.6l.37 7.9l.07-8.1l.3-.5l.08 4.7l.07 1.1l.23-3.5l.15-3.7l.07 8.2l.22-.8l.15-5.3l.23 .8l.15 2.8l.15-4.3l.07 3.3l.23 2.4l.15-6.8l.29 6.5l.15-3.1l.15-3.9l.23 6.7l.22-1.3l.08-5.1l.07 3.5l.23-4.6l.22 5.5l.15-5l.15 .2l.15 4l.15-2.8l.15 2.1l.22 0l.15-6.9l.08 1.2l.07 5.6l.37 .6l.08-2.9l.37 1.9l.08-2.5l.07 2.4l.08-4.5l.3 4.2l.15-4.7l.22 4.2l.15-4.8l.15-.5l.07 4.6l.23-4.7l.15 4.2l.3 .9l.15-4.5l.22 4.2l.07-1.7l.08-2.1l.07 5.1l.23-1.2l.3-4.8l.15 3.1l.07-3.1l.15 4l.07-5.1l.3 .9l.15 1.5l.15-2.5l.08 5.4l.45-1.2l.07 .5l.15-5.1l.22 6l.15-5.3l.15 1.1l.23-1.1l.07 1.8l.15 3.6l.23-7.7l.29 1.7l.08 3.5l.15-6.2l.15 5.9l.22-2.9l.08 4.3l.15-5.5l.22 5.9l.08-4.5l.22 4.2l.3-3.9l.07-2.3l.15 .2l.08 1.8l.3-3.4l.07 5.6l.23-1l.15-4.7l.14 4.1l.08-4.4l.22 2.9l.15 3.8l.15-3.3l.15 2.9l.23-3.4l.22 1.7l.22 3l.15-5.3l.23-2.7l.07 1.7l.23 3.2l.07-2.8l.15 4.3l.15-4.4l.3 1l.07 3.3l.08-4.2l.3 2.9l.15 1.6l.15-5.3l.22 .7l.15 2l.23-2.6l.07 1.1l.15-3.5l.22 4.4l.08-4.2l.22 4.2l.15-3.2l.15 6.3l.15-1.3l.15-6.8l.22 6.9l.08-4.1l.15 .9l.3 4.6l.07-4.7l.23-2.9l.3 3.5l.07-3.5l.08-1.8l.07 6.8l.3-1l.07-3.3l.38 5.1l.07-2.6l.08 3.3l.22-5.4l.15 4.8l.08-4.2l.22-1.9l.22 4.7l.23-.4l.07-3.4l.23 6l.22-6l.23 1.1l.07 5.9l.15-5.4l.15 3.7l.07 1.3l.23-6.4l.15 2.6l.15-4.5l.3 2.3l.15 2.2l.07 5.6l.07-4.5l.3-4.3l.15 3.3l.23 3.6l.15-6.5l.07 6.6l.3-4.4l.08-2l.22 5.4l.15-1.1l.22-3.4l.15 5.7l.08-4.5l.3-.4l.07 3.9l.15 2l.22-6.9l.23 2.5l.07 2.4l.15 2.5l.23-4.1l.15-2.2l.15 4.1l.07-4l.3 2.3l.22-3.8l.08 4.2l.22 4.9l.15-6l.15-.2l.08 2.3l.22 2.4l.08-3.4l.29 5.1l.08-4l.3-1l.15 2l.07-.9l.15 2.7l.3 1.5l.15-2.9l.15-1.6l.07 5.4l.15-1.1l.15-6.4l.15 1.5l.15 3.8l.23 1.6l.07-2.2l.3 3.8l.15-5.8l.3 1l.07 3l.23 1.2l.15-2.9l.07 .3l.15 3.6l.15 .9l.15-7.4l.3-.3l.15 6.2l.15 1.8l.22-5.1l.08-3.3l.07 4.8l.45 5.8l.07-7l.08 1l.07 2.5l.3-6.7l.15 8.9l.08-.4l.15-4.3l.22 4.7l.15-4.8l.3 0l.15 3.2l.07 2.5l.08-4.9l.3 2.7l.15-3l.15 1.9l.22-2.9l.22 3.3l.15-3.2l.15 1.5l.15 3.7l.08 1.4l.15-5l.3-.1l.07 5.2l.3 .3l.07-3.9l.08-1.7l.22 3.8l.3 2.9l.08-5.7l.07-2.2l.23 5.3l.15-3.7l.22 5.6l.07-2.9l.23 2.8l.22-3.3l.15 3.3l.23-4.7l.07 5.4l.3 1.1l.08-6.2l.14 1.5l.23 2.8l.07 .6l.23-2.2l.15 .3l.22 4.6l.08-7l.15 4l.22-3.7l.07 3.3l.23 .9l.22-4.2l.08 .7l.22 3.4l.23 .6l.07-3.5l.15 1.8l.15 2.9l.15-5l.22 9.2l.15-4.2l.08-3.3l.37 4.6l.15-4.3l.08 4.3l.07-5.4l.3-1.1l.07 5l.3 2.4l.15-7.5l.23 .7l.15 4.2l.15 1.9l.15-3l.22 .1l.07 3.4l.23 .8l.07-3.8l.23 3.2l.15-4.5l.15 .9l.07 3.2l.3-1.9l.07-2.6l.15 1.1l.3 3.2l.08 1.5l.22-3.8l.23-3l.07 5l.22 1.2l.08-5.2l.3 5.3l.07-5.7l.3 3l.08-1.6l.15 6.4l.22-6.7l.15 6.3l.15-5.2l.07 5l.08-5l.22 7.1l.08-7.3l.37 6.3l.15-6.5l.3 4.4l.07-3.9l.08-3l.22 6.1l.3-4.5l.08 6.3l.15-1l.15-5.1l.22 3.5l.08-3.7l.29 2.2l.08-4.7l.22 7.1l.15-5.3l.15 5.7l.08-.9l.15-4.5l.15 4.8l.29-6.5l.15 4.8l.08-1.4l.15 2.1l.3 .7l.15-3.4l.15 1.5l.15 4.3l.15 2.7l.22-8.9l.15 1.3l.07 7.5l.15-8.9l.3 2.3l.08-1.1l.07 4.4l.23-8.7l.07 6.5l.3 5.4l.07-7.3l.3-4.8l.23 6.3l.15 0l.15-6.8l.15 9.3l.07-6l.22 4.5l.23-5.5l.15 6.4l.07-3.3l.23 1.1l.15-3.4l.15 2.3l.22-4.2l.15 2.7l.07 2.5l.3 2.5l.15-7.5l.08 7.3l.15-7.7l.3 7.5l.15-6.8l.15 5l.22-6.1l.22 2.4l.08 1.4l.15-3.3l.22 5.4l.15 .1l.08-3.6l.15-.4l.22 2.3l.22 .8l.15-2.4l.15 2.2l.15-1.8l.15-2.3l.15 2.3l.15 2l.15-6.2l.3 4.1l.15-4.5l.15 6.1l.15-4.9l.3-.7l.07 5.7l.15-.6l.08-2.1l.15 2.8l.22-5.2l.3-2.8l.07 8.3l.15-7.7l.23 8.1l.22-6.2l.08 4.5l.07-3.6l.07 2.2l.23 1.3l.15-5l.22 2.6l.23-1l.07 2.1l.23-3.9l.15 2l.22 4.5l.22-4.5l.15 4.1l.08 .9l.15-7.7l.15 1.5l.07 5.5l.3-2.6l.08-3.8l.22 6.7l.07-6.3l.3 2.8l.15-2.7l.23 5.2l.22-5.9l.08-2.9l.15 9.5l.22-3.1l.15-1.2l.22-3.8l.15 8.7l.08-3.3l.07-3.4l.23-.3l.07 5.7l.37-5.7l.15 6.5l.23-2l.15-4.7l.15 3.7l.15-2.6l.22 4.4l.15-5.4l.08 .9l.14 5.5l.23-5.7l.15 5.7l.15-8.2l.07 3.5l.38-1.4l.15 2.6l.07-4.6l.08 6.6l.37-6.1l.07 3.4l.08 3.8l.3-5.7l.07 4.6l.15-4.4l.3-5.3l.15 8.5l.07-.2l.15-4.8l.15 3.3l.08-2.6l.37 4.7l.15-6.4l.15 1l.08 7.5l.37-5.6l.07 4.5l.23 .1l.15-6l.07 3.6l.15-4.3l.15 1.8l.23 5l.15-5.8l.07 4.6l.22 .5l.15-5.7l.23-.3l.15 2.3l.3 2.3l.07-1.6l.15-2.3l.22 4.5l.08-6.3l.15 7.7l.37-6l.08 7.5l.07-4.6l.23 2.4l.07 0l.08-4.2l.29 4.1l.23-2.7l.3-.8l.07 6.9l.15-5.4l.08 5.1l.22-1.8l.08-2.1l.15 .1l.07 2.8l.3-1.2l.22-5l.15 1.4l.23 2.4l.07 2.7l.23-1.9l.07-3.2l.15 4.7l.22-2.5l.08 1.7l.3 .9l.07-4.8l.23 3l.07 2.6l.23 2.3l.22-9.3l.15 6l.22-2.3l.08 1.3l.15-3.2l.22 3.2l.08-1.2l.22 4.9l.08-4.9l.22 3.2l.07-5l.38 2.5l.15 2.3l.15-5.7l.07 6.4l.23-.5l.07-4.5l.22 3.4l.3-1.9l.15-.2l.08 6l.3-2.9l.15-2.9l.07-.5l.08 1.9l.22-2.3l.22 6.7l.15-8.2l.08 8.1l.22-.6l.23-5.8l.15 1.2l.15 2.9l.15 1.7l.22-3.4l.22-2.3l.08 4.5l.15 2.2l.15-7.3l.22 3.5l.23-2.4l.07-.9l.15 5l.15 2.1l.22-4.9l.15-2.2l.08 6.6l.45-6.6l.07 7.6l.23-1.7l.07-4.3l.3 2.2l.07 2.5l.08 1.2l.15-4.2l.15 3.9l.3-4.1l.07 3.8l.08-4.3l.22 7.4l.22-5.5l.08-3.5l.07 4.8l.3 2.9l.15-5.3l.15 5.9l.15-6.8l.23 2.5l.14-3.5l.15 1.8l.15 2.9l.3-.6l.15 3.6l.08-2l.3-4.1l.15 4.7l.07-3.1l.15-1.1l.07 4.8l.3 .1l.23-5l.07-1.1l.23 3.3l.07-2.2l.3 3.8l.07 .5l.08-1.1l.22-1.6l.15 5.6l.23-9.8l.22 7.8l.3-3.6l.08 5.9l.07-4.1l.07-5.6l.3 6.9l.15-3.3l.23-2l.07 7.6l.15 .2l.23-6l.15 4.7l.22-4.1l.22-2.2l.08 3.9l.15-.6l.22 1.9l.08-3.7l.22 5.6l.15-9.3l.22 7l.15-5.7l.08 4.8l.22 3.4l.23-4.8l.15-1.4l.15 4.5l.07-1.1l.23-3.1l.14-.4l.08 5.4l.22-6.6l.15 4.3l.23-1.8l.22 6.5l.3-1.3l.08-8.1l.14 6.9l.15-6.7l.15 5.9l.15-3.7l.15 7.2l.08-7.4l.3-1.3l.15 3.6l.07-.4l.3 3.1l.07 1.2l.23-4.2l.3 3.8l.07-7.5l.08 2.1l.07 1.9l.37 4.7l.15-5.4l.15-1.2l.08 6.4l.3-1.3l.07-4.1l.3 4.7l.08-4.8l.07 3.4l.08-4.9l.29 7.6l.23-6l.07-.4l.15 5.8l.38-6.7l.07 6.6l.23-3.1l.07-2.6l.22-1.3l.08 6.4l.22-3.4l.15-3.3l.08 4.8l.3-2.7l.07 5.8l.08-7l.44-.5l.08 6.7l.22-3.3l.08-3.3l.22 0l.15 4.5l.15-3.4l.08 .8l.29 5l.15-4.4l.23 3.5l.07-8.6l.15 8.6l.15-5.7l.15 4l.08-2.6l.3-3.2l.14 8.7l.08-7.3l.07 6.9l.3-2l.23-3.5l.15 5.1l.22-7.4l.15 1.2l.15 6.8l.15-3.4l.07-3.2l.23 3.5l.15-3.8l.15 .3l.15 6.5l.3-2.1l.15-2.6l.07-1.4l.07 4.2l.3-.3l.23-3.2l.07 .4l.23 .8l.3 3.1l.07-8l.08 1.1l.22 5.5l.07 .1l.3-4.5l.15 3.1l.15-3.6l.08 3.7l.15-4.8l.3 .6l.07 7.5l.15-7l.15 3.7l.37 1.6l.08-3.5l.3 3.8l.07-7l.08 1.9l.22 5.3l.22 1.2l.08-6.9l.15-1.1l.22 5.1l.23-.2l.07-1.6l.08 1.7l.22-4.3l.15 .7l.15 2.9l.3-2.2l.07 5.2l.23 .1l.07-4.6l.3-2.1l.08 4.5l.29-3.3l.08 3.3l.22-4.2l.15 5.3l.15-1.2l.15-7.4l.08 3.9l.22 4.6l.23 .2l.07-4.7l.15 4.6l.3-6l.07 2.7l.15 3.5l.23-5.5l.15 3.8l.15-3.7l.07 3.3l.22-3.2l.23 4.2l.07 1.1l.23-5.8l.15 1.7l.15 3.7l.22-2.7l.08-3.2l.29 1.7l.08 5.5l.15-5.2l.3 1.9l.15-2.3l.15 2.6l.07-.9l.08 3.7l.37-4l.15-1.8l.07 4.6l.23-6.9l.3 7.6l.07-5.6l.15 1.7l.15-3l.15 6.7l.22-7.5l.15 4.6l.08-4l.15 9.4l.15-7.1l.37-1.8l.08 8.3l.07-6l.3-3.1l.15 2.1l.07 4.9l.23-1.1l.15-4.5l.15 2.9l.07-2.4l.45 7.6l.07-9l.08 4.4l.22-3.7l.23 6.5l.15-6.5l.15 5l.15-4l.07 1.5l.23-1.6l.14-1.4l.15 3.7l.23-1.9l.15 3.6l.07-4.6l.08 6.1l.3-1.9l.07-4.2l.37-4.2l.15 9.7l.08-5.7l.07 3.8l.38 .7l.15-6.2l.15 5.9l.15-5l.07 2.8l.15 3l.3 .5l.07-6.2l.15 3.7l.15-.6l.15-3.6l.23 5.5l.15-1.3l.15-2.1l.14-1.4l.08 3.3l.45-3l.07 4.4l.23-5.4l.07 7.1l.23-1.5l.15 1.6l.07-8.7l.3 8.1l.07 1.8l.23-7.3l.22 5.1l.08-3.2l.22-2.3l.15 3.9l.3-2.9l.07 5.6l.15-.9l.15-2.1l.15-2.4l.15 5.1l.15-5.3l.08 5.3l.22-5.3l.15 5.8l.22-5.3l.23 6.7l.07-6.6l.15 5.3l.15 2.6l.08-6.6l.3 1.1l.22 2.6l.15-5l.07 3.6l.23 2.6l.07-4.1l.23-.9l.22 2l.15 2l.08-5.4l.29 .4l.15 5.3l.23-1.5l.07 3.1l.15-4l.15 3.2l.15-4l.15 3.3l.3-5.8l.15 6.9l.15-5.4l.15 1.7l.15-3.8l.22 7.7l.3-6.2l.08 4.9l.22-3.5l.07 5.2l.3-8.3l.08 5.9l.07-2.5l.08 2.1l.37 .2l.15-2.4l.08 2.6l.14-5.7l.38 7l.07-6l.15 4l.08-4.1l.3 3.1l.07 5.4l.08-3.4l.29-5.1l.15 4.4l.15-2.3l.08 4.4l.3-2.7l.07 1.7l.23-4.8l.22 4.9l.15-5.7l.07 8.3l.15-7.6l.23 2.3l.07 2.7l.23-4.8l.07 6.1l.38-3.8l.15 3.9l.22-5.6l.07 4.6l.15 .2l.15-7.1l.23 3.8l.15-1l.07-.2l.23 2.9l.15-2.8l.22 5l.07-1.6l.23-6.6l.07 7.6l.08-4.9l.37 3.2l.08 3.1l.15-6.2l.15 4.9l.37-3.3l.07 2.8l.08 1.7l.3-7.6l.07 7.4l.08-4.1l.22-2.3l.15 7.2l.22-1.7l.23-5.7l.07 6.9l.08-6l.22-.4l.08 4.9l.3 1.8l.15-5.1l.29 1.5l.08-4.8l.15 2.8l.22 4.9l.15 2.2l.08-8.3l.3 4.9l.15-.5l.07 1.5l.22-2.6l.15 .2l.23 4.6l.07-7.3l.3 4.5l.15 .1l.15-6.4l.15-.5l.15 8l.15-7.3l.22 7.3l.08-3.9l.15 2.9l.22 .1l.08-4l.3 6.3l.07-3.9l.3-1.5l.07 6.1l.15-7.2l.15 5.7l.23-2.4l.22-3.1l.15-.2l.08 5.3l.29-3.8l.15 3.9l.23-2l.07-3.4l.3 4.5l.08-5.1l.07 8.2l.08-8.5l.29 7.8l.08-6.1l.3-1.5l.07 5.5l.23 0l.15-2.1l.3-1.9l.07 4.5l.15-4.7l.07 5l.3-6.2l.08 3.8l.15-4.2l.07 3.2l.3-3.8l.23 9.3l.22-9.1l.07 7.8l.08-1.4l.3-4.8l.07 1.5l.08 2.7l.22-3.1l.23 5.6l.15-4.4l.07 2.7l.37-7.4l.08 4.8l.15 3l.15-3.3l.15-4l.15 9l.15-1.3l.15-6.9l.22 3.2l.15 2.5l.15 1.7l.15-6.6l.3 6.6l.15-6.1l.22-3.1l.08 6.1l.15-2.8l.07 4.4l.22-4.5l.23 6.7l.22-8.8l.08 6.1l.15-1l.15-2.2l.37-3l.07 9.2l.23-3.5l.15-4.8l.07 7.3l.23-5.8l.07 6.1l.15-5.2l.15 5.2l.15-6.2l.22 1.5l.23 1.6l.3 3.2l.07-6.5l.23 2.2l.07-2.9l.23 6.7l.15-7.8l.07 6.1l.15-5.3l.37 3.1l.08 5.2l.15-.5l.15-2.7l.3-2.9l.07 4.3l.22-6.5l.08 3.6l.15 2.7l.07-4.2l.3 3.4l.15-4l.08 6.3l.15-2.3l.15-1.2l.29-4.5l.23 .6l.07 4l.23 1l.07-6.4l.15 6.6l.15-6l.15 2.4l.08 4.1l.29-.2l.15-1.9l.3-1.5l.08 3.5l.15-5.4l.07 5.7l.3-4.5l.23 4.8l.14-6l.15 4.7l.08-.3l.22-3.1l.15-3.2l.15 9l.15-2.2l.15-5.8l.15 7.9l.3-4.8l.07 .5l.08-1.9l.3 4.8l.15-4.5l.22 5.8l.08-4.7l.15 1.8l.22-4.3l.22 5.1l.08-2.9l.22-2.8l.15 2l.15 6.8l.15-6.4l.15 3.5l.15-5.3l.3 .3l.15 3.8l.22 1.1l.08-4.1l.22 1.2l.08 5l.22-10.4l.15 8.7l.22-3.7l.15 4.2l.08 2l.15-4.5l.15 1.4l.22-5l.23 3.1l.07 4.4l.15-6l.3 5.2l.22-2.5l.08-2.6l.07 2.6l.3-1.7l.08-.8l.15 3.6l.15 3.2l.07-8.1l.37 4.4l.08-.7l.22-4l.15 3.4l.15 2.5l.23-4.6l.07 1.4l.08 2.5l.29-2l.23 1.8l.22-2.3l.08-3l.22 5.1l.08-2.8l.22-2.7l.08 3.8l.14 4.1l.08-5.7l.3 4.3l.07-2.1l.45 3.3l.08-5.6l.07 4.3l.15-2.5l.15 4.4l.15-6.6l.22-1.4l.08 6.2l.37-5.5l.08 3l.15-2.7l.22 7l.08-2.8l.07-2.4l.37-3.7l.08 7.4l.15-3l.07 3.7l.38-6.3l.07 6.6l.23-5.1l.07 2.2l.37 1.8l.08-5.2l.07 6.9l.15-6.7l.23-.2l.07 7.1l.23-1.4l.07-4.8l.22 3.4l.15-4.8l.15 6.1l.15-3l.3 .8l.08 3.9l.15-4.9l.3-3.1l.14 1.5l.08 4l.22 1.1l.15-4.9l.15 4.2l.08-4.4l.3-.9l.15 2.2l.29 2.1l.08-5.2l.07 2.4l.23 3l.3 1.1l.07-3.7l.15 4.7l.15-5.7l.15 5.9l.15-4.5l.22 4.7l.08-5.2l.37-5.2l.08 8.3l.07-2.3l.23-2.1l.22 4.8l.08-3.9l.22 1l.07 2.5l.38 .9l.07-5.3l.15 4.3l.08-2.2l.37-2.1l.07 6.3l.15-1.2l.15-3.7l.15-2.6l.08 4.9l.22 1.2l.08-6.4l.3 4.2l.07 1.7l.22-3.1l.15-3l.15 .7l.23 7.5l.22 1.2l.15-7.5l.23-.9l.07 6.5l.08 .7l.07-8.5l.3 6.9l.07-3.1l.45-2.9l.08 6.4l.07-5.1l.15 3.1l.23 .2l.14 2.3l.15-2.7l.23 1.1l.22-3.5l.15 2.3l.08-4.1l.15 6.2l.3-5.2l.14 6.3l.08 1.6l.22-5.9l.08-.8l.07 5.7l.23-4.5l.3 2.5l.07 .9l.23-.4l.22-6.2l.15 5.5l.15-.6l.07-5.2l.15 5.9l.08-3l.37 1l.15-2.5l.08 5.6l.14-5.7l.23 .6l.07 4.2l.23-5.1l.22 7.3l.23-7.9l.15 6.2l.07-5.4l.22 6.5l.23-6.8l.15 2.1l.07 4.8l.23-4.8l.07 4l.15-5.9l.38 .5l.07 3.3l.3-3.9l.07 4.9l.08 1.4l.07-3.2l.45 2.1l.08-4.5l.07 1.4l.15 3.5l.15-5.2l.07 5l.38-2.3l.07-3.9l.15 3.3l.15-4.2l.3 1l.08 4.7l.22-4.4l.07 5.3l.23 .7l.22-4.9l.08 3.4l.07-2.6l.3 2.4l.23-4.1l.07 1.5l.08 3.6l.22-3.2l.07 4.3l.45 .6l.08-5.3l.15 5.6l.07-6.2l.38 3.8l.07-6.5l.22 1.6l.15 3.1l.08 4.6l.15-3.5l.15-2.1l.3 3.4l.07-.2l.08-4l.22 5.4l.15-4.8l.3 3.4l.07-2.4l.23 3.2l.07-6.1l.15 1.1l.15 4.9l.37-.2l.08-2l.07 4l.15-7.5l.3 3.4l.08-1.7l.15 .2l.15 4.1l.22-6.6l.07 4.2l.3 2.2l.23-4.4l.22-1.4l.08 5.8l.15 1.3l.22-6.7l.08-.5l.07 5.5l.22 2l.23-6.5l.22 .2l.08 4l.15 2.3l.22-5.8l.08 0l.07 4.7l.3-4.6l.07 4.7l.3-6.4l.15 6.2l.23-3.4l.07 3.3l.3-3.4l.15 4.7l.07-1.3l.08-1l.3-4.9l.22 4.5l.08-5.2l.07 5.1l.38 2.1l.15-4.6l.14 .5l.08 2.1l.3-1.1l.07-2.3l.23 6.7l.15-7.4l.15-.1l.15 3.9l.15 3.1l.22-5.5l.07 6.2l.15-5l.23 2.3l.07-4.3l.38-.3l.07 3.8l.15 .6l.22-4.5l.08 0l.07 5.5l.23-6.2l.22 7.4l.23-7l.07 3l.3-.4l.08 2" stroke="#ff4500"/>
<path d="M73.15 175.5l.07-5.6l.15 5.7l.15-4.6l.08 4.7l.15-4.2l.3 3.3l.15-3.9l.07-.4l.08 5l.37-5.3l.15 5.5l.22-3.6l.15 3.1l.08-4.6l.22 4.1l.15-3.5l.22 1.9l.08-4.1l.22 5.4l.15-3.9l.08 5.9l.22-6.9l.23 5.7l.07-2.3l.23 4.5l.22-7.2l.15 6.3l.15-2l.15-4.7l.22 5.7l.15-4.4l.23 1.4l.07 3.2l.15 .8l.07-5.2l.23 1.7l.07 2.3l.23-2.7l.22 3.9l.23-.4l.15-3l.15 4.8l.14-4.6l.23 4.4l.15-5.8l.22 4.7l.15-4.4l.15 .4l.15 2.8l.08-1.4l.22 2.5l.3-5.7l.07 5.9l.15-.6l.15-3.2l.15 5.9l.15-4.1l.15 1.1l.23 2.1l.07-5.7l.15 7.1l.3-8.2l.07 6.6l.15-.1l.23-4.1l.15 3.4l.22-6.6l.15 8.8l.07-7l.38 1.2l.07 6l.23-2.5l.15-4.6l.07 4.1l.08-2l.22-2.4l.07 6.5l.38-.4l.15-2.3l.15 .8l.07-1.6l.23-1.6l.22 5.4l.08-3.5l.14 2.9l.23-3.5l.07 5.4l.3-.1l.08-3.7l.15-1.3l.22 3.9l.23-1.4l.14-3.1l.08 .1l.15 3.4l.22 3.4l.08-5.5l.22 3.9l.15-5.1l.23 5.3l.22-6.9l.07 2.4l.08 3.6l.3-3.5l.15 4.1l.22-5.9l.15 3.3l.23 2.9l.07-4.5l.3 1.8l.07 3l.08 0l.15-3.2l.22 4.2l.15-4.7l.3 2.1l.08 1.7l.15-5l.22 6.1l.22-1.6l.08-3.2l.3 5.4l.07-7.1l.15 8.3l.08-4.3l.15 3.1l.15-4.9l.29 1.5l.15 4.2l.3 1l.08-5l.15-1.2l.15 3.9l.15 2.1l.22-4.5l.07 2.9l.15-4.1l.3 .8l.08 6.8l.15-2.1l.07-4.7l.3 6.2l.15-5.4l.15 1.3l.15 3.4l.15 .8l.07-6.2l.3 6.8l.08-3.2l.22 2.1l.23-4.3l.15 5.7l.14-5.8l.15 2.5l.15 2.6l.3-4.3l.15 5.4l.08 1.2l.07-6.3l.23 .3l.22 4.2l.22-3.8l.15 5.3l.15-.2l.23-4.6l.07 .2l.08 5.2l.22 .5l.08-4.8l.37 3.4l.07-2.3l.15 5.4l.3-5.8l.08 5.4l.22-6.8l.08 5.6l.07-1.9l.37-2.8l.15 4.5l.15 1.7l.08-4.2l.37 2l.08-2.9l.22 2.4l.08 3.4l.07-4.2l.22 3l.15-1.8l.15 4.3l.15-4.6l.15 4l.3-2.8l.15 4.1l.22-1.4l.15-2l.23-.8l.07 3.6l.23 1.4l.15-2.8l.15 1.9l.15-1.1l.15-3.4l.07 10.2l.37-2.2l.08-6.5l.07 4.9l.08-4.3l.22 7.6l.3-6.8l.08 3.1l.15-.7l.37 2.7l.07-2.6l.23 4.7l.07-4.5l.15 .1l.23 5l.15-3.7l.15 3.9l.14-3.9l.08 5.7l.3-6.8l.07 6.3l.15-3.7l.23 5.5l.3-5.9l.07 3.6l.15-.8l.15 2.5l.07-4l.08 4.2l.45-2.3l.07 4.2l.08 1l.07-2.6l.3-.8l.08 4l.44 2.1l.08-6.2l.22 5.4l.08-4.7l.07 5.1l.15-5.9l.23 3.6l.22 4.7l.15-6.3l.07 4.8l.23-5.3l.22 6.1l.08-3.6l.15 5l.15-3.7l.15 3l.22-4.3l.15 7.6l.3-4.9l.07 3.1l.15-4l.23 5l.22-4l.15 7.8l.15-2.3l.15-3l.15-.5l.15 3.1l.15-3.2l.07 6.3l.38-3.3l.15 4.1l.22 1.6l.07-5.1l.23 2.6l.07-4.1l.15 8.1l.08-7.8l.22 7.7l.08-6l.22 1.2l.15 6.2l.22-6.3l.15 6l.38-4.4l.07 4.7l.08 .6l.07-3.7l.45 .7l.08 3.5l.14-.3l.08 1.6l.3 1.9l.07-4.9l.23 3.4l.07 3.1l.15 1.8l.15-6.2l.3 3.8l.07 2.5l.23-3.9l.07 4.1l.23-.5l.22-4.4l.08 3.2l.22 4.1l.15 .4l.08-4.4l.37 6.8l.07-5.2l.15 .3l.08 5.6l.22-4.8l.23 4.1l.07 2.1l.22-4.3l.23 2.8l.15 2.5l.22 1.2l.15-2.5l.08-.6l.15 3.8l.15-.4l.29 3.1l.08 1.1l.07-3.1l.45 2.5l.08 2.6l.07-4.2l.08 3.3l.3-.5l.07 1.4l.15-1.2l.3 6.3l.07-8l.15 8.3l.15-6.9l.3 6.4l.23 1.4l.07-3.8l.08-.1l.29 7.1l.15-1l.15-3.2l.23-.1l.07 3.7l.15 .2l.15 1.4l.23-.5l.07 4.3l.3-1.9l.15 1.1l.15-4l.07 6.5l.23-3.7l.22 5.8l.15-3.4l.08 2.9l.29-.7l.15 3l.08-5.1l.22 4.4l.15-5l.08 6.1l.3-1.5l.15-4.4l.14 3.5l.23-3.9l.15-1.1l.15 1.9l.15 .1l.07-2.9l.23 2.9l.15-4.3l.15-1.5l.07 5.1l.45-.3l.07-4.2l.08 1.7l.15-4.1l.22 1l.08-3.1l.22-.6l.08 3.3l.44-3.1l.08 2.4l.07 .9l.23-6l.07 5.5l.08-4.4l.37-.1l.08 2.6l.29-.2l.08-6.7l.22 8.2l.08-3.4l.22-3.2l.23 2.9l.07 1.1l.15-3.3l.3-2.5l.15 4.1l.07-4.7l.08 2.9l.3 1.8l.07-7.2l.15 5.1l.3-1.9l.08-5l.14 5.1l.15 2.5l.23-5.8l.3-.3l.07 2.2l.23 2.4l.15-6l.07 1.9l.08 .8l.22 2.4l.15-4.8l.22 2.2l.15-4.6l.38 4.8l.07-4.6l.08 3.4l.15-4.5l.22 0l.22 3.3l.08 1.6l.07-7.9l.23 9l.07-7.4l.23 5.9l.15-6.8l.29 3.6l.08-6.2l.15 2.5l.07 4.7l.3-.7l.08-3.9l.3 2.4l.15-5.3l.29 3.4l.08 1.7l.07-.1l.08-6.3l.45 9.1l.07-5.1l.3-3.5l.08 5.4l.14-1.4l.08-3.1l.15 2.1l.07-3.5l.38 1.6l.15 2.3l.22-2.4l.08 2.4l.07-5.9l.08 6.6l.29-4.6l.15 2.4l.38 .5l.07-5.7l.15 6.9l.08-6.3l.22 6.7l.08-5.4l.29 2.8l.08-3.7l.15 6.2l.07-4.9l.45-2l.08 1.8l.15 .3l.15 2.7l.29-4.6l.08 4.6l.07-1.6l.08 3l.3 .4l.15-6.5l.22 3.7l.15-5.5l.08 3.7l.29 2.9l.15-6.1l.08 5.9l.15 1.8l.07-5.3l.3-1.3l.08 5.1l.37-4.6l.15 4.5l.22-5.3l.08 5.7l.07-4.7l.23 3l.22-4l.08 2.8l.15-3.2l.22 5.2l.3 .5l.07-4.3l.08-2.5l.15 5.1l.15-4l.07 4.2l.45-1.2l.08-1.8l.07 4.6l.22-6.1l.3 4.2l.08-6.5l.15 9.1l.15-2.3l.22-3.3l.08 2.9l.15-3.2l.22 6l.15-2.8l.07-5.3l.45 1.8l.08 4.5l.07-2.4l.23 4.5l.22-4.4l.15 3.1l.15 .3l.07-2.8l.15 2.5l.23-3.4l.15 2.8l.15-1.8l.22-2l.15 6.3l.07-.9l.23-4.2l.22-.8l.08 4.5l.22 1.6l.08-5.5l.3 1.2l.07 3l.15-3.1l.07 4l.38-2.8l.07 4.1l.38-.2l.07-3.8l.15-2.5l.15 5.6l.3 2.5l.07-5.6l.08 1.1l.22 2.5l.15 1.7l.08-4.3l.22-3.2l.08 3.3l.22-.9l.22 5.7l.3-.2l.08-4.2l.07-.3l.15 3.3l.15 .5l.15-4.6l.23 3.6l.07-2.8l.37 5l.08-4.3l.15 1.2l.07 1.2l.3 1.1l.15-6l.15 .5l.22 9l.08-2.8l.22-5.8l.15 6l.08-4.6l.3 5.3l.15-2.2l.07-.8l.23 3l.22-2.5l.15 5l.07-.8l.3-4.2l.08 2.5l.07-3.7l.23 2.4l.3 4.7l.07-.7l.22-.7l.08 1.8l.3-3.5l.07-3.4l.23 5.5l.07-1.1l.15 2.4l.3-2.1l.07-4.3l.23 3.3l.07 2.6l.38 1.3l.07-2l.23 1.6l.07-6l.15 3l.22 2.6l.08 1.6l.07-4.8l.23 .9l.07 4.6l.38-3.3l.15 4.7l.3 .4l.07-4.4l.07 4.7l.23-4.3l.3 1.1l.07 3.6l.15-5.7l.08 5l.3-2.4l.15 5.5l.14-3.8l.15-1.3l.15 1.8l.08-1.7l.15 .4l.07 1.9l.3-.4l.23 3.9l.22 .1l.15-4l.07 .9l.15 3.3l.38 1.3l.07-5.1l.08 3.7l.22 3.3l.08-2.5l.29-2.1l.15-.5l.08 4.2l.15-2.2l.15 2.5l.22 1.9l.08-5.3l.22 .3l.15 5.5l.3-1.6l.07-3.6l.15 4.4l.15-2.4l.23 4l.15-1.6l.22 1.6l.15-3.2l.22 6.1l.08-6.9l.15 .4l.15 4.9l.15 .3l.22-3.1l.23-.2l.15 2.5l.15 4.6l.22-4.9l.15 4.5l.07-5.3l.38-.6l.07 6.4l.08 0l.22-2.9l.08 .5l.15 2.2l.29-.4l.15-3.5l.15 6.8l.08-9.8l.15 3.2l.22 7.3l.15-6.9l.08 5l.37 .9l.15-4.8l.07 6.4l.23-5.4l.07 .5l.23 6.3l.22-6.7l.15 5.1l.07-2.8l.3-2l.15 5.9l.15-4.8l.15 6.1l.08-7.7l.22 5l.15 3l.37-5.3l.08 4.4l.15-4.6l.15 5.6l.15-2.8l.07 2.4l.23 1.2l.07-9.2l.37 1.3l.08 4.8l.07 .4l.3-2.2l.08-1.3l.07 5.4l.3-3.2l.08 3.5l.3-1.7l.07-3.1l.15 0l.22 3.9l.3-.1l.08-3.8l.22-.3l.08 4.1l.15 1.6l.22-8.2l.22 2.4l.08 4.7l.15-4.3l.15 1.8l.22 2l.08-3.3l.3 2.2l.07-4.4l.15-1.6l.15 3.9l.22-4.1l.08 8.2l.22-3.9l.08-4.2l.37 2.9l.15-2.6l.08 3.2l.07-1.3l.3 1.4l.15-3.3l.15 7.2l.22-8.6l.23 5.3l.15-4.6l.15 3.5l.07-4.5l.3 5.3l.07-4.5l.23 .6l.07 1.8l.15-.7l.08-4l.3-1.3l.07 5.1l.3-1.1l.07-2.6l.23 6.8l.07-6.1l.23 3.7l.15-3.2l.22-.1l.15 4.9l.15-2.3l.22-3.3l.15 5.2l.15-6.1l.23 2l.07 1.5l.23-7.2l.15 7.8l.22-1.1l.07-3.3l.15 .7l.23 .3l.22-2.6l.08 4.9l.22-2.9l.08 3l.37-4.6l.07 2.9l.15-3.6l.08 3.7l.22-4.8l.08 5.5l.22-.7l.23-4.5l.22 5.9l.15-6.5l.22 5l.08-4.8l.07-.2l.23 1.3l.15 3l.07-6.3l.23 8.5l.15-6l.29 2.2l.15 3.5l.08-2.3l.07-3.3l.23-1.2l.07 6l.3-2.6l.08-2.2l.37-1l.07 3.5l.23-1.3l.07-3.3l.15 5.7l.23-6.7l.15 5.8l.22-5.2l.15 .1l.15 4l.22 2.6l.15-5.4l.08-.9l.15 5.8l.3-7.2l.07 6.1l.15-.5l.15-5.5l.22-.7l.08 5.8l.3-4.5l.07 4.8l.15-7.2l.15 6l.38-1.1l.07-2.9l.15 4.2l.22-4.5l.23-.3l.07 4.2l.08-4.1l.07 5.8l.38-3.6l.07-3.1l.15 4.2l.3-4.8l.15 6.9l.15-5.2l.07 3.7l.08-7.5l.37 2.2l.08 4.5l.15-3.1l.14 2.5l.3 1.9l.08-7.7l.15 2.7l.22 1l.15-3.5l.23 6.7l.15-.2l.07-2.8l.15-2.6l.22 5.1l.15-4.1l.15 3.7l.23 .1l.22-4l.08-2.3l.07 7.6l.22-4.7l.08 3.2l.37 .5l.15-6.4l.23 7.9l.15-8.6l.07 2.3l.23 4.8l.14-5.2l.15 5l.15 .3l.15-5.7l.15 1.7l.15 2.7l.38-1.7l.07-3.7l.08 .6l.14 4l.23-2.6l.22 4.4l.08-6.6l.07 6.2l.23-1.8l.15-2.1l.22 4.1l.15-3.4l.22-1l.08 5.4l.3-4.3l.07 1.5l.3 1.5l.15-3l.08 3l.22-3.6l.15 1.5l.07 5.1l.3-7.3l.15 5.2l.15-1.9l.08-2.5l.22 6.2l.08-4.1l.22-.8l.22 3.2l.08 .4l.07-3.8l.3 4.1l.23-4.8l.15-.9l.07 5.9l.23-.1l.14-5.5l.15-.3l.08 6.5l.3 .2l.07-5.2l.23 2.6l.3 3.4l.07-5.5l.15 5.2l.15-4.7l.07 4l.23 .3l.22-5.1l.15 1.3l.08 2.9l.3-3.8l.14 3.9l.3 2.2l.08-2.7l.22-2.5l.08 6l.15-6.9l.15 7.9l.37-4.9l.07 2.9l.15-5.3l.15 7.5l.08-8.1l.3 7.3l.07-4.5l.08 4l.3-3.7l.07 5.4l.22-2.2l.23-2.5l.07-.5l.23 4.2l.22-3.8l.08 3.9l.3-5.4l.07 2.4l.15-.8l.15 4.2l.15-3.2l.15 5.3l.22-7.2l.15 7.1l.15-4.4l.15 1.7l.3 3.5l.07-4.6l.15-6l.15 9.2l.15-3.8l.23 5.9l.3-4.8l.07 6.4l.23-9.7l.14 6.7l.23-5l.07 7l.15-1.2l.15-2.3l.08-2.7l.22 5l.23-3.9l.07 4.2l.15-3.1l.3 2.2l.07-5.2l.08 6.9l.45-.9l.07-5.5l.08 2.2l.07 3.3l.23-2.7l.14 4.2l.23-6.2l.07 5.1l.38 .2l.07-1.3l.23-3l.15 6.5l.22-4.7l.07 4.5l.15-1.3l.15-2.4l.15 7l.08-7.7l.37-.6l.15 3.5l.08-3.1l.07 2.6l.37 2.5l.15-2.7l.23-1.8l.07 2.1l.15 2.6l.08-5.6l.3 4.2l.15 3.7l.14-1.1l.15-6.4l.15 .3l.08 7.2l.22-.8l.15-7.3l.3 7.6l.08-4.1l.29-1.1l.08 4.6l.15-2.2l.22 2.6l.08 1.6l.07-4.1l.45-3.1l.08 8l.22-6.3l.07 4.4l.3 .8l.08-2.5l.15 1.8l.15-4.6l.07 1.7l.23 2.8l.22 1.9l.15-4.1l.07 4.5l.08-5.8l.3 4.6l.07-4l.23 .4l.3 4.5l.15-.5l.15-3.2l.07 5.3l.22-5.5l.08 2.5l.07-2.3l.38 6.6l.15-6.7l.15-.4l.15 7.1l.22-2.5l.07-1.7l.15-.2l.15 4.2l.38-2.3l.07-1.9l.15 1.6l.23-5.8l.07 5.5l.15-2.2l.37-1.2l.08 4.2l.22-3.4l.08 2.9l.07-2.2l.3 4.6l.08-4l.22-1.2l.15-1.7l.07 7.2l.15-2.5l.15-3.5l.38 4.3l.07-2.3l.08 4.6l.07-5.1l.3 2.3l.15-5.8l.15 2.6l.22 5.6l.15 .2l.15-9.4l.15 9.5l.08-4.9l.37-.6l.07 2.1l.3 .9l.15-3.6l.08 5.3l.07-4.6l.23 3.4l.07-4.7l.37 3.8l.08-2.2l.22 4l.08-6.9l.37 7.9l.08-6.8l.22 .9l.08 4.4l.07-1.7l.3-2.8l.15 2.4l.07-2l.15 .5l.3 4.4l.08-3.8l.22 1.1l.08 .6l.29-5.8l.23-.6l.07 8.4l.15-1.5l.08-3.6l.3 2.1l.07-3.2l.23-.1l.15 4.5l.22 .7l.07-4.8l.15 1.1l.23-5.1l.07 4.3l.15 6l.3-3.1l.15-3.8l.22 1.4l.08 3.1l.22-3.2l.15 2.4l.08-1.6l.15-2.7l.22 1.5l.23 4.1l.07-3.2l.3-2.9l.15 2.5l.15 1.3l.15-1.3l.15-3.7l.3 2.6l.07 4.1l.23-6.7l.07 2.7l.3-1.3l.07 3.6l.15-2.7l.08-3.3l.3 5.2l.15-4.9l.07-.4l.15 7l.15-7.5l.15 6l.3-.3l.07-5.7l.15 2.8l.3 4.1l.15-2.1l.15-6.2l.08 6.5l.07-4l.45 .9l.07 2.5l.08 1.1l.22-4.2l.23-.1l.07 5.2l.15-2.6l.22-2.9l.23 3.8l.07-4.1l.23 5.5l.07-6.7l.15-1.8l.23 10.6l.29-3.3l.08-6.2l.07 6.8l.08-4.7l.45 5.7l.07-3.6l.08-3.9l.3 5.9l.22 1.3l.07-4.9l.15 .8l.08 3.9l.3-.8l.15-5.5l.07 2.2l.15-2.3l.23 4.8l.22-2.2l.15 1.8l.07-4.7l.23 3l.22 3.6l.15-.9l.08-3.5l.3-.1l.15 3.4l.22-4l.07 2.2l.08-2.1l.3 4.4l.15-8.3l.07 4.9l.15 1.4l.3-5.6l.15 7.5l.15-6.4l.22 4.3l.08-4.1l.22 6.6l.08-4.5l.37 3.2l.08-3l.07 2.3l.08-4.5l.29-.8l.15 2.7l.23-2l.07 6.3l.15-3.9l.08-2.4l.22 4l.15-3.4l.22 .3l.08 3l.45-3l.07 5l.08-6l.22 2.7l.08-1.5l.07 4.2l.37-1l.15-8.4l.08 10.2l.3-4.2l.15 4.4l.07-7.7l.15 1.3l.23 6.5l.15-8.6l.14 6.2l.15-2.8l.08-1.1l.22 1l.08 3.8l.45-4.6l.07 5.9l.08-7.2l.22 6l.15-.8l.15-4.1l.15 1.7l.07 3.7l.3-2.2l.23-.9l.07-3l.15 4.5l.22 1.5l.08-5l.3 5.1l.15-4.9l.22 4.8l.08-4.6l.22 6.3l.08-2.8l.15 1l.14-2.2l.3 1.8l.08-3l.15 5.4l.22-4.3l.3 .4l.08 4l.29-7.9l.08 6.8l.07-.3l.08-2.7l.3 1.2l.22-2.1l.08 7.1l.15-6.1l.22 4.9l.22-5.3l.08-.8l.22 6.2l.23-4.9l.07 3.7l.23 .4l.15-4.1l.22 2.5l.07-4.6l.15 5.7l.08-4.4l.22 2l.23 2.9l.15-7.1l.07 6.2l.23-3.5l.22 5.3l.07-.6l.08-2.8l.37 3.2l.08-2.9l.22-2.6l.08 3.5l.3 1.2l.15-2.7l.07 4.5l.22-8.3l.15 1.4l.15 4.3l.23-3.7l.15 8.2l.22-5.5l.15 3.5l.22-2.7l.08 4.5l.07-5.8l.3 3.4l.15-2.5l.08 3.3l.22-3.8l.08 3.2l.3 .1l.07-2.6l.3 3.1l.07-5.1l.15 5l.08 1.1l.3 1.1l.15-7.4l.15 8.9l.15-5.5l.22 3.7l.22-4.6l.08 2l.07-1.1l.38-1.7l.15 3.7l.07 4.2l.23-4.9l.07-2.1l.22 4.8l.23-4.9l.07 7l.3-7.8l.08 5.2l.07-5.8l.23 6.9l.22-.8l.15-5.5l.07 1.9l.3 4.9l.15 .1l.08-4.2l.15 1.1l.07-3.8l.45 3.3l.07 1.8l.08-3.4l.15 2.5l.22-1.6l.08 1.5l.37-1.8l.08 4l.07-5.6l.3 5.9l.22-8.7l.08 9.2l.15-3.6l.15 3.8l.15 .6l.22-5.4l.08 0l.3 4l.07 2.3l.07-3.3l.23-4.2l.07 5.2l.38 1.3l.07-6l.38 3.3l.07-3.7l.15 1.7l.07 3.2l.3 1.3l.08-4.8l.15 4.6l.22-6.2l.08 1.1l.07 3.7l.38-.6l.14-4.8l.08 1.3l.15 4.4l.15 1.2l.22-5.2l.23 4.2l.07 .9l.3-1.2l.15-2.5l.22 2.9l.08-3.4l.15 4.6l.07-4.5l.3 4.5l.15-3.1l.15 3.1l.08-4.9l.29 3.7l.08-3.6l.22-.5l.15 4.8l.15-5.9l.23 5.5l.07-5l.08 5.2l.22-2.6l.15 2.9l.22-3.1l.15 4.1l.3 .2l.08-3.8l.15-.8l.07 4.2l.23-5.9l.07 5l.3 .9l.22-4.4l.08-.6l.22 3.5l.15-1.3l.23 1.9l.15 1.7l.22-7l.22 3.7l.08 .9l.22 2.6l.15-4.9l.08 2.5l.07-3.2l.23-1.5l.07 5.8l.22-7l.3 7.2l.08-3.2l.07-4.1l.3 1.6l.23 5.3l.15-2.9l.07 1.5l.37-3.2l.08 5.6l.07-5.6l.15 1.9l.3 3.1l.15-5.8l.23 6.1l.07-7.5l.15 6.4l.07-1.6l.23-2.2l.15 4l.37-.4l.08-5.1l.07 5.5l.23-2.4l.07 1.1l.22-4.4l.15 4.5l.08 1.4l.3-.4l.15-3.8l.22 4.6l.15-7.1l.23 1.9l.07 2.6l.15-2.9l.15 5.7l.22-4.5l.15 3.5l.15-4.1l.08 4.4l.37-6.1l.08 5.7l.07-3.1l.3 4.6l.15-6l.07 4.2l.15 1.7l.23-5.4l.07 4.4l.23-5.2l.29 4.1l.08-4.5l.07 .5l.08 6.1l.3-2.6l.22-3.9l.3 6.6l.08-4.9l.07 2.7l.15-4.5l.22 1.5l.15 2.2l.3 2.5l.08-5.2l.22-1l.08 5.8l.15-3.3l.22 1.3l.15-.4l.22-3.7l.08 4.5l.15-1.3l.22-1.2l.08-1.7l.15 2.2l.15-.8l.22 2.9l.07-2.4l.23 3.1l.3-2l.07 3.6l.08-5l.3 2.9l.07-4.6l.3 4.9l.07-4.5l.15 1l.23 4.6l.3-4.7l.07 3.2l.08-3l.07 3.9l.45-.3l.07-1.8l.15-2.9l.08 2.7l.22-2.8l.15 4.7l.15-1l.15-3.2l.15 4.9l.22-5.5l.3-.4l.08 3.9l.07 1.8l.15-6.6l.38 7.7l.07-7.6l.15 6.1l.08-7.6l.29 5.2l.15-1.6l.15-.9l.15 1.8l.15-2.9l.23 6.8l.3-8.7l.07 3.9l.07 1l.08 2.3l.22-5.1l.08 6.5l.37-6.8l.08 3.8l.3-1.2l.07 2l.22-.3l.08-4.5l.15 3.8l.15-3.7l.15 4.9l.3-4.2l.15 2.4l.07 3.1l.15-6.8l.08 4l.29-.8l.08 1l.22-3.9l.08 8.5l.37-7.4l.15 4.1l.08 1.1l.15-7.7l.29 5.9l.15-3.6l.08 6.7l.3-7.3l.07 1.5l.23 3.8l.22-1.8l.08 2.4l.22-4.2l.15 5.1l.15-6.7l.15 6.3l.3-3.8l.07 2.6l.23 2.4l.07-6.3l.3 1.5l.07 4.5l.08-1.8l.15-5.4l.3 4.5l.15-4.7l.15 2l.15 3.8l.07-5.1l.3 6l.07-4.1l.23 3.5l.07-2.2l.23 4.5l.15-7.9l.15 7.3l.15-1.1l.22-4l.22 1.7l.08-3.3l.15-.7l.22 5.6l.23 2.4l.15-6.7l.07 5l.08-6.2l.22 1.4l.3 5.5l.15-5.6l.15 5.5l.07 0l.3-5.5l.23 6.9l.07-4.7l.08-4.1l.14 6.7l.23-5.2l.22 5.1l.15 .4l.08-4.4l.15 3.2l.07-5.2l.38-.2l.07 6.9l.22-4.9l.23 5.6l.15-.6l.15-2.4l.07-1.8l.3 4.1l.23-.6l.07-4.5l.07 5.7l.3-3.9l.08-.7l.15 4.9l.15 1.7l.22-6.5l.23-.3l.14 3.4l.15-2.6l.08 3.5l.3-5.5l.15 5.1l.07-3l.08 4.4l.22-1.7l.08-3.9l.29 6l.08-2.8l.3-3l.22 4.7l.15 1.4l.08-5.4l.22-3l.15 7.7l.15-4.1l.07 3.5l.3-1.3l.15-2.2l.15 1.6l.08 2.2l.37-.1l.08-2.9l.29 2.1l.08 .8l.07-5.7l.3 5.8l.08-3.2l.15 2.9l.3-3.5l.07 3.2l.3-.3l.07-2.1l.08 3.3l.22-3.1l.23-1.9l.07 5.9l.15-.5l.15-5.6l.15 .8l.23 2.8l.29-3.6l.08 5.2l.07-2.8l.15 3.9l.38 0l.07-5.2l.08-.4l.07 4.9l.37 .4l.08-4.6l.3 5.2l.15-4.3l.07-3l.08 2.5l.3-1.7l.07 4.7l.15-1.8l.22 3.1l.23-5.6l.07 6.7l.23-3.1l.22-3.1l.15-.4l.08 3.2l.15-4.9l.29 5.7l.08-4.1l.15 5.5l.15-3.8l.22 3.8l.3-7.7l.08 7l.07-4.1l.08 4.9l.29-4.2l.23 3.2l.07 .7l.23-4.3l.3 3.4l.07-5l.15 2.2l.15 3.2l.08-3.3l.22 4.7l.3-4.5l.07 3.5l.08-.4l.07-4.6l.45 4.7l.08-2.8l.15 3.9l.07-6.5l.3 4.6l.15-3.6l.15 5.7l.15-4l.15 3.4l.07-4.5l.23 4.2l.15-4.1l.22 5.2l.22-8.1l.08 6.1l.22-5.4l.15 6.3l.23-2.3l.15-2.7l.07 4l.3-3.3l.07 5l.15-5.1l.15 4.3l.23 1.1l.15-5.7l.15 2.9l.15-4.4l.29 .2l.15 3.8l.08 2l.07-3.6l.23 4l.22-6.7l.23 7.4l.07-5.1l.22 6l.15-4.8l.15-2l.08 4.8l.22-1.6l.15 3.5l.15 .4l.23-3.7l.15 3.3l.07-5.4l.3 .4l.22 2.5l.15-3.9l.08 3.7l.15 3.5l.3-8.1l.15 4.9l.07-2.3l.15 5.7l.15-6.6l.22 2l.23-2.7l.07 4.6l.23-4.2l.15 4.5l.22-3.3l.07 2.6l.08-4l.3 1.1l.15 2.7l.3-4.6l.07 4.8l.08 2.1l.07-4.2l.3-.9l.07 5.9l.23-4.7l.22 3l.15-2.3l.23-3.3l.22 5.9l.15-5.2l.22 5.2l.08-3l.07 1.5l.3-5.3l.08 1.3l.15 5.3l.22-2.1l.08 3.9l.22-4.2l.22-.9l.15 3.3l.23-3.7l.07-1.3l.15 6l.15-3.6l.15 1.5l.38-3.8l.07 7.1l.07-3.7l.23-1l.07 3.5l.15-4.2l.38 2.1l.07-5.1l.3 6.9l.08-3.7l.14 .3l.15-2.8l.08 7.4l.15-6.1l.22 5.8l.23-6.7l.22 7.7l.15-8.1l.08 5.2l.22-5l.15 6.5l.15-5.5l.15 6.2l.07-4.3l.38 4.4l.07-6.8l.08 6.1l.29-6.2l.23 5.7l.07-2.5l.23 5l.07-8.4l.23 4.3l.07-3.1l.15 5.3l.08-5.5l.29 4.1l.08-.9l.22 3.5l.3-5l.15 2l.08-1.9l.22-2l.15 5l.15-4l.07 1.7l.3 3.1l.08-6.2l.15 .8l.15 4.1l.22 1.7l.15-4.2l.23 2.9l.14-3.1l.15-4.5l.23 6.6l.15-4.2l.22 1.9l.08-.5l.07 2.5l.23-.2l.15 3.7l.29-1.8l.15-3.8l.23 .6l.07 3.3l.3-3l.08 1.8l.07-2.6l.22 3.2l.15-4l.08 6.4l.37-7.5l.08 3.8l.15-1.9l.07 3.1l.3 1.7l.08-6.2l.22 5l.22-3l.15 2.7l.08-3.6l.37-2.8l.08 6.6l.15-.1l.15-5.8l.14 4.9l.23-4.1l.07 6.2l.08-5.4l.45 4.5l.07-3.5l.08-1.6l.22 2.5l.08 3.2l.29-3.1l.08-3.6l.22 4l.08-3l.07 4.6l.45-2.1l.08-1.7l.22 2l.07-2.6l.15 .6l.15 2.7l.23 1.5l.15-5.2l.22 4.4l.08-4.2l.15 .7l.07 4.3l.22-.1l.23-5.8l.15 .5l.22 3.6l.3 1.9l.08-5.5l.15-.4l.15 4.6l.07-2.6l.07 3.4l.3-4.4l.08 5.1l.3 .1l.15-6.9l.22 2.5l.15 5.3l.15-.5l.15-6.1l.15 5.1l.22-5l.23 4.9l.07-4.5l.23 3.3l.15-3.9l.07 5.2l.15-4l.3 0l.07 3.6l.23-5.6l.15 5.4l.15 1.4l.22-6l.23 .4l.07 5.3l.07-.5l.08-3.4l.37-1.6l.15 4.5l.15-.4l.15-3.2l.08-1.2l.15 4.9l.29 2.1l.08-5.2l.37 4.9l.08-6.4l.22 4.8l.08-3.4l.07-1.8l.3 6.9l.15-5.3l.15 3.8l.22-7l.08 8.3l.15-6.2l.22 4.5l.3 .7l.08-6l.15 1.7l.14 5l.08-2.6l.15-2.4l.37-1.7l.08 4.8l.15 1l.15-4.4l.15-.4l.07 4.1l.37-1.5l.08 3.6l.07-6.9l.08 8.3l.3-5.5l.22 2.9l.23 .3l.07-3.3l.15-1.2l.15 5.8l.3-2.8l.15-1.4l.07-2.6l.08 5.7l.22-6.2l.15 4.7l.22 1.9l.23-3.6l.22 3.3l.08-5.4l.22 4l.15-5.6l.15 5.7l.08-4.8l.22 1.6l.15 7l.3-3.1l.07-5.4l.15 1.8l.15 2.8l.23 .8l.15-6.2l.15 .7l.14 6.2l.23-1.5l.15-5.6l.3 3.2l.07 4.8l.08-5.5l.22 5.2l.08-.1l.07-8l.37 6.7l.15-3.4l.08 5.4l.15-2.5l.15 2.2l.15-8.7l.22 5.1l.15 3.4l.15-1l.07-4.4l.38-.2l.07 5l.38-1l.07-3.8l.08 1.1l.15-3.2l.37 8.1l.07-5.8l.23-.8l.07 6.6l.23-2.7l.15-2.8l.07-.9l.15 4.8l.15-2.3l.3-2.2l.07 .2l.23 3.5l.15-5.4l.15 6.6l.07 .3l.23-7.3l.3 1.1l.07 6.8l.07-2l.3-5.4l.15 6.8l.15-3.5l.15-3.9l.08 5.6l.22 .3l.15-4l.22 2.9l.15-2.7l.15 3.8l.23-2.9l.15-1.6l.15 3.5l.22 2l.15-3.2l.08-2.3l.22 3.6l.22-2.5l.08 4.4l.3-.1l.07-4.5l.3 4.3l.08-4.4l.07-.5l.22 3.8l.08-2.2l.3 3l.07 .6l.08-5.4l.37 .4l.08 3.6l.15-2.3l.22 2.8l.07 2.5l.08-5.8l.3-.8l.07 3.9l.45-3.3l.08 5.3l.15-6.5l.15 3.2l.14-.2l.08 1.9l.37 .4l.08-4.9l.07 5.1l.15-3.9l.15 4.6l.08-4.5l.37 4.3l.07-3.7l.23 2.9l.07-3.9l.38 6.9l.07-5.7l.23-2.9l.15 4.2l.07-1.7l.15 3l.22-6.8l.23 8.7l.07-5.2l.23 4.5l.22 1.4l.15-7.1l.15 1.5l.15 2.2l.07-2.4l.15 3l.15-6.6l.23 6.7l.22-3.5l.08 3.3l.3 .4l.07-4.7l.15 5.2l.22-4.1l.3 3.6l.08-6.9l.07 5.3l.15 1.3l.3-3.1l.08 5.3l.14-7.5l.15 6.1l.15-1.3l.23-2.6l.15 1.4l.07 2.9l.23-2.3l.15-3.2l.22-1.1l.15 6.4l.22-4.7l.15 2.9l.15 2.3l.08-4.7l.37 1.1l.08 5l.07-.9l.3-3.4l.15-2.1l.07 5.1l.15-.2l.23-3l.15-2l.15 5.7l.3-.7l.14-4.7l.15 3.1l.15-3.3l.08-.2l.22 4.9l.15-3l.23 .6l.22 2.6l.15-4.9" stroke="#0000ff"/>
<path d="M73.07 185.5l.15 2.1l.08-.6l.22 2.2l.3-6.4l.08 7.2l.15-5.6l.07 3.1l.15-3.1l.15 5.9l.22-5.8l.23 5.9l.15-4.5l.07 4.6l.23-6.5l.15 4.5l.3-3.5l.14 2.9l.15-3.9l.08 4.7l.22 .5l.23-6.1l.15 4.6l.07 3.5l.15-4.7l.15 3.1l.3-1.3l.15-5.4l.07-1l.23 7.3l.07-.1l.3-3.4l.08 3.5l.07-2.8l.45-1.8l.07 4.9l.08-6l.15 5.9l.22-4.8l.08 4.3l.22 .5l.23-4.6l.07-.3l.22 4l.23 .8l.07-6.7l.38 5.5l.07-3.6l.08 2.2l.07-1.5l.23 4.3l.22-2.4l.22 1.1l.08-3.7l.22-.8l.08 4.3l.37-.7l.08-3.1l.15 6.3l.07-4.9l.37 2.2l.08-6l.07 8.1l.08-6.3l.45 5.5l.07-5.6l.15 .1l.08 2.8l.29 1.8l.15-4.5l.08 1.4l.07 3.4l.3-4.3l.15 5l.15 0l.15-4.8l.15 4.8l.07-6.6l.3 1.7l.08 4.3l.22-.7l.23-2.4l.3 3.6l.07-6.4l.15 5.5l.07-1.6l.15 3.4l.3-5.8l.08 4.7l.15-3.4l.15-1.1l.07 2.2l.3-1.7l.08 3.4l.44-4.4l.08 3.9l.07-5.3l.08 5.5l.37-3.1l.15 3.7l.08 .4l.22-5l.07 .3l.08 4.3l.37-2.9l.15 3.9l.15-5.7l.08 5.2l.37-.6l.08-5.3l.14 2.6l.15 3.1l.23 0l.15-4.4l.07 .7l.23 2.7l.07-1.5l.15 4.2l.3-2.2l.07-2.8l.15 4.7l.08-2.7l.37 2.9l.15-3.7l.08 1.9l.22-1.1l.15 3.2l.22-4.7l.15 6.1l.08-5.5l.15 1.6l.3 2.5l.15-1.8l.15-.7l.22 3l.08-6.9l.22 2.5l.15 3.9l.3-5l.07 7.3l.15-2.4l.08-2.6l.15 1.8l.15-7l.29 2.8l.08 3.4l.15-1.7l.22 3l.15-2.9l.08 2.3l.37-2.7l.08 4.5l.15-5.3l.07 5.9l.37-4l.08 2.6l.07-3.2l.08 2.8l.3-3.9l.07 3.8l.38-4l.07 3.1l.22 3.9l.08-5.6l.15 2.7l.22-2.2l.15 4.8l.23-5.4l.22 4.5l.15-4.8l.15-.4l.15 5.5l.07 .9l.08-7.1l.45 .4l.07 6.5l.15-.2l.15-4.9l.22 4.6l.08-4.3l.22-.7l.15 2.8l.15-2.5l.23 5.2l.22-.1l.08-5.2l.22 .2l.07 4.7l.15-.9l.08-4.4l.22-1.2l.15 5.1l.3 2.4l.08-5.1l.15 1.1l.14 2.9l.3-3.3l.08 2.2l.15-2.9l.22 4.9l.15-4.7l.15 1.7l.15 2.6l.22-5.1l.23 1.2l.07 4.6l.15-3.6l.08 4.6l.37 1.1l.08-6.1l.22 4.4l.15-3.2l.22 1.3l.15 3.2l.08-5.1l.22 7.6l.08-.9l.22-1.9l.23 2.6l.15-2.9l.22 2.9l.15-2.3l.07-2.1l.08 6.3l.3 .1l.07-3.9l.3 4l.08-2.5l.29-2l.08 3.5l.22 2.3l.15-5.9l.08 5.5l.22-3.8l.08-.1l.07 5.7l.45-3.4l.07 .8l.08 4.9l.07-4.4l.3 3l.23-2.7l.07 3.9l.3-2.3l.08 2.5l.07-3.5l.22 1.5l.15 2.7l.23-1.1l.22 3.5l.08-5.8l.07 3.7l.3-3.7l.15 5.6l.15-2.4l.07 5.1l.38-5.5l.07 4.4l.15 1.6l.23-4.8l.15 4.1l.22-2.6l.22 3.7l.08-4.6l.07 1.2l.08 4.8l.3-3.6l.22 4.5l.23-.2l.07-4.3l.15 2.4l.15 1.2l.37-3.5l.08 3.1l.15 1.7l.07 2.9l.15-.6l.08-5.8l.3 3.7l.22 4.4l.15-3.2l.15 3l.07 .3l.15-4.1l.38 1.6l.07 1.3l.15-2.5l.15 7.5l.15-4.7l.07 4.5l.23 1.1l.22-3.9l.23 3.3l.07-2.3l.15 2.8l.3-2.3l.15 3.7l.07-3.4l.23-1.4l.15 6.9l.15-2l.22 3.8l.08-1.3l.22 2.5l.08-2.8l.22 2.3l.22 1.8l.15-5l.23 1.2l.15 6.4l.15-1l.15-5.1l.22 3.5l.07 4.9l.15-1.9l.23-4.5l.22 2.4l.08 4.7l.15-1.8l.15 2.4l.3-3.1l.07 3.7l.22 4.2l.15-4.6l.15 4.5l.23-3.4l.15 2l.15 4.5l.07-3.5l.23 3l.14-2.8l.23 7l.07-4.2l.15 3l.15-1.9l.08 3.7l.3-1.9l.22 5.8l.3-.2l.07-3.7l.08 5.5l.15-4.1l.15 2.7l.3-3.6l.07 6.3l.15-4.3l.3 2.2l.07 2.7l.15 2.8l.08-4.6l.22-.6l.15 5.3l.23-2.1l.15 1.4l.3-1.4l.07 6.4l.15-4.9l.15 5.4l.22-4.6l.08 6.9l.22-6.6l.15 3l.15-1.8l.23 3.1l.22-2.4l.15 5l.07-3.8l.15-2.5l.15 .3l.15-3.9l.3 5.4l.15-6.8l.08 7l.29-7.3l.08-.4l.15 3.7l.15-3.4l.22 2.3l.15 .1l.15-3.9l.23 1.2l.07-3l.15 5.7l.22-6.1l.3 3.7l.08-4.1l.15 4.5l.15-6.5l.15 3l.15-4.9l.29 4.3l.08-5.3l.15 4.5l.07-4.2l.23 4.5l.15-4.7l.22 4.2l.08-4l.22 4.8l.07-7.4l.45 .1l.08 5.3l.07-.5l.15-5.9l.15 4l.08-3.6l.37-.3l.15 3l.15-.4l.07-2.9l.23 3.6l.07-5.2l.23 4.4l.3-5.3l.07 3.3l.15-3.9l.22 5.2l.23-5.4l.15 2.6l.07-3.5l.3 4.2l.08-4.1l.22 .4l.15 3.2l.07-4.3l.23 3.2l.22-1.4l.15-2l.08 2.4l.07-4l.3-2.4l.23 5.4l.07-4.7l.15 5.5l.3-5.3l.07 3.1l.3-4l.08 4l.07-6l.23 6.1l.22-5.4l.07 5.1l.23-6l.22 5.2l.08-4.1l.15 2.7l.22 .5l.15-5.5l.22 1.7l.15 4.7l.23-7l.07 7.6l.23-3l.15-4.2l.07 4.6l.08-3.2l.37 2.7l.07-5.3l.23 3.6l.07 2.5l.23-.5l.15-4.9l.15 2.1l.07-1.5l.23 2.8l.15-5.5l.29 .3l.15 7.7l.08-.8l.3-6.9l.07 7.2l.08-3.5l.3-2.6l.22 3.6l.07-3.5l.23 4.8l.22-5.3l.15 6.1l.08-3.5l.22-4.6l.08 2.9l.22 3.7l.08-6.5l.14 5.4l.3-5.1l.15 5.4l.15-.2l.23-6.5l.07 5.4l.23-3.4l.15 4.9l.22-6.1l.15 1.5l.07 5.5l.23-6.3l.15 4.2l.3 .9l.07-2.2l.08 2l.15-3.6l.37 1.7l.07-2l.23-1.5l.07 3.5l.15-4.2l.08 4.2l.22 2.6l.23-7l.07-.7l.3 6.4l.22-1.1l.08-2.9l.22 4.4l.08-5.3l.3 3.3l.07-.6l.08 1.4l.22-5.1l.15 1.1l.22 5.8l.23 .4l.15-5.1l.07 3.8l.08-4.6l.3 .8l.07 2.1l.3 .8l.07-1.9l.15 3.1l.08-3.9l.45 2.1l.07 4.3l.08-3.5l.22 3.3l.07-.5l.23-7l.15-.3l.07 8.2l.38-2.1l.07-4l.23-.7l.15 5.2l.14-5l.08 3.4l.22 1.1l.08-6l.45 3.6l.07 3.7l.23-1.2l.07 1.1l.08-.9l.22-3.8l.3 5.8l.07-3.9l.15 .6l.15 1.5l.23 1.5l.07-4l.15 .2l.08 3.5l.44-3.8l.08 4.4l.15-3.1l.15 4.6l.15-4.8l.22 5.3l.08-5.4l.22 6.3l.22-4l.15 3.1l.08-4.9l.22 4l.08-3.7l.22 5.4l.23-2l.14-4l.23 2.6l.15 3.5l.07-3.8l.08 2.9l.22-2.2l.08 1.8l.37 1.3l.15-3.3l.07 5.6l.15-8.3l.15 2.4l.08 4.6l.3 0l.22-5.1l.08 7.4l.22-8.6l.15 8.3l.22-4.3l.23 2.5l.07-5.1l.23 6.5l.15-2l.07 1.1l.08-4.4l.37 5.3l.07-1.9l.15 3.9l.23-4.3l.15 1.6l.15 3.7l.22-.1l.15-4.9l.08 5.5l.07-5.3l.3 .7l.22 6.5l.08-7.4l.07 4.5l.3-4.6l.08 2.7l.45 3.4l.07-2.7l.15-4.5l.15 7l.07 1.1l.23-4.9l.15 6.8l.07-3.9l.23 3l.15-4.1l.29 3l.08-3.6l.3 4.6l.07-6l.23 1.9l.07 4.7l.15-2.5l.08-1.9l.22 4.5l.15-3.5l.3 1l.07 4.4l.38-4.3l.07 7.6l.15-5.8l.15 4.6l.08-5l.22 3.3l.3-1.4l.07 1.7l.15 5.2l.15-6.2l.15-1l.23 1.7l.15 3.7l.07-6.9l.37 5.7l.08-3.3l.07 5.5l.08-3.5l.3-1.3l.22 7.5l.15-8.3l.08 5.7l.15-4.8l.14 5.5l.23-4.5l.07 2.1l.3-1.5l.15 5.8l.23 1l.07-2.3l.23-4.8l.07 5.1l.22-1.7l.08 5.5l.45-2.7l.07 2.1l.08-.1l.22-3.1l.23 6.7l.07-4.7l.15-1.4l.07 5l.3-3.8l.08 2.5l.3 1.4l.07-4.4l.15 4.4l.15-4.5l.22 6.9l.23-5.5l.22 .6l.08 5.8l.07 .4l.08-6.4l.37 1l.15 5.1l.07-3.6l.15 4.1l.23-4.8l.15 3.2l.22 1.5l.08-6.4l.22 4.8l.15 4.2l.15-5.7l.22 3.1l.15 3l.15-7.4l.3 4.5l.08-1.4l.3 1.3l.07-1.7l.22 3.6l.08-5.6l.15 6.5l.07-3.5l.23 .4l.15 2l.37-4.8l.08 4.7l.07-2.7l.08 3.3l.22-1.8l.22-4.2l.3 1l.08 4.8l.15-4.8l.07 4.5l.38-.5l.07-3.6l.15-1l.22 6.5l.23-8l.07 3.8l.23-3.3l.07 4.5l.08 2l.07-4.9l.3 2.8l.22-4.1l.3 6.9l.08-7.6l.07 2.7l.15-1.1l.3 1.5l.08-2.8l.29-1.7l.08 6.3l.22-.5l.15-4.4l.08 2.3l.07-4.6l.23 4.2l.15-1.6l.3 .5l.07 3.6l.15-3.9l.15 2.3l.22 1.1l.23-5.1l.07 3.3l.23-2.6l.07 2.3l.08-4l.29-.8l.15 5.8l.23-.7l.22-3.8l.08 1.6l.22-1.9l.3-1.9l.08 6.1l.07-2.3l.07-1.4l.38-2.4l.07 5.5l.15 0l.08-3.5l.37 3.7l.08-4.5l.22-2.7l.07 3.4l.23 2.9l.07-3.1l.23 4.8l.07-5.7l.23-.3l.15 3.8l.15-4.9l.29 3.9l.15-3.7l.15 3.7l.3-5.6l.08 4l.15-2.1l.07-2.3l.15-1l.3 3.9l.22-2.4l.08 4.7l.15-5.4l.22 5.5l.08-3l.15-5.1l.22 2.9l.15 5.1l.15-5.6l.22 4.9l.08-3.9l.07 3.7l.23 .2l.22-4.7l.15 0l.08 4.4l.22-6.7l.3 4.2l.22-2.1l.08 1.5l.07-4.1l.08 4.4l.37 1l.08-4.6l.22 3.2l.22-2.7l.15 3.2l.08-1.1l.15 2.7l.3-4.3l.07 4.1l.23-6.4l.22 3.3l.07-3.3l.23 2.3l.07-2.9l.23 1.1l.07 3.7l.15-3.6l.23 4.2l.3-2.7l.07-2.2l.07 .1l.08 4.8l.3-.9l.07-3.6l.45 4.1l.08-6.3l.15 6.3l.15-4.4l.22 .9l.07 2.5l.15-1.6l.08-1.5l.22-1l.23 4.1l.22-1.3l.08-3.7l.15 .7l.14 4.2l.23-2.9l.22-2.8l.08 6.9l.07-5.1l.23-2.5l.3 5l.15-2l.14 2.4l.08-3.2l.3 3.6l.07-2.9l.08 1.9l.22-2.8l.3 2.1l.15 2.1l.08-4.5l.22-.7l.22 3.9l.08-3.5l.07-2.3l.23 5.2l.15-2.8l.37 .5l.08 4.6l.14-5.1l.15 .9l.15 2l.08-3.7l.22 0l.15 3.4l.15 1.7l.15-5.2l.23 2.7l.07-2.5l.37-2.7l.15 7l.15-4.1l.08 4.7l.3-2.4l.07-2.8l.15 1.2l.08 3l.44 3.6l.08-7l.07 3.8l.15-6.8l.15 5.8l.3-2.4l.23-.2l.07 2l.22 2.8l.08-4.3l.07 5.6l.08-5.4l.3 5l.07-5.7l.3 5.7l.23-5.3l.07 3.8l.07-3.1l.3-1l.23 3.1l.15-1.2l.15 2.7l.22-5.2l.15 6.2l.08 .8l.22-3.5l.3 1.9l.07-1.8l.08 0l.22-4l.15 6.3l.23-5.4l.07 .3l.22 6l.08-.1l.15-8.6l.15 9.1l.15-5.7l.3 .7l.15 2.7l.07-5.6l.08 6.2l.29 3.8l.23-7.1l.07 .4l.23 2.7l.22-6l.08 8.9l.3-4.9l.14 5.7l.08-8.3l.15 9.4l.15 .1l.07-5.2l.38 2.2l.07-4.1l.15 5l.23-3.3l.22 4.9l.07-3.7l.23-1.1l.15 1.3l.22 2.4l.15-5.6l.08 5.8l.15-4.3l.15 3.4l.22-2.4l.15 1.6l.22 2.7l.08-3.2l.07 4.6l.3-5.3l.15 5.3l.23-6.6l.22 7.2l.07-4.6l.15-2.9l.3 2.5l.15 6.2l.15-4.2l.15 2.8l.08 .3l.29-3l.23 1.3l.07 3.2l.23-6.1l.07 6.1l.08 1l.15-5.1l.22 2.1l.15-3.7l.22 1.6l.08 4.8l.3-4.5l.15 4.6l.07-7.1l.3 4.7l.15-3.6l.15 4.9l.08 2.1l.22-5.6l.22-.9l.15 5.3l.08-4.8l.3 2.7l.07 5.3l.15-5.6l.15 .1l.15 3.1l.22-2.7l.08 4l.3-2.9l.15 2.5l.3-5.5l.07 5.3l.15 1.8l.15-7.8l.07 5.2l.23 3.5l.15-3.2l.15-3.2l.22 5.6l.08-6.6l.3 2.9l.07 2.6l.15-2.9l.07 3.8l.3-.6l.23-2.9l.22 4.7l.15-6l.15 1.7l.15 4.8l.22-.5l.08-6.1l.07-.8l.23 7.7l.15-3.6l.07 2.4l.23-4.9l.22 4.2l.15 2l.22-6.1l.08 4.9l.07-4l.3 2.1l.23 3.4l.22-6.1l.08 5.7l.22 .5l.15-3.2l.22-1.7l.08 5.3l.3-2.4l.07 1.3l.08-2.5l.07 2.6l.3-4.2l.23 6.4l.07-6.9l.07 5.9l.23-3l.3 3.8l.07-5.4l.23 5.4l.15-5.7l.07 5.1l.22-3.4l.23 3.7l.22-3.4l.08 4.9l.15-4.3l.22 4.7l.08-7.1l.3 5.2l.22-1l.07 5l.08-7.8l.07 4.9l.38-1.4l.07-4.2l.23-.9l.22 6.7l.08-.2l.07-5.8l.3 6.5l.15-6.4l.15 8.1l.15-5.8l.15 2.4l.15-3.2l.15 3.4l.22-4l.15 .9l.22 5.9l.08-7.1l.15 3.5l.22 .4l.15-3.5l.15 2.4l.23-1.9l.14-1l.23 4.5l.07-2.7l.08 5.7l.45-2.5l.07-4.5l.23 6.4l.15-5.2l.07 4.4l.07-5.8l.38 1.8l.07 .9l.08-2.6l.15 2.6l.22-3.6l.15 6.8l.23-1.8l.22-4.2l.07 1.2l.15 2.3l.23-3.7l.07 2l.3-1.2l.15 3.4l.23 1.1l.07-4.9l.22-1.3l.15 3.5l.15-3.3l.23 4.4l.07-1.9l.23-2.3l.15 4.2l.07-4.1l.15 3.8l.15-2.5l.22 2.8l.23-3l.15-2.3l.07 6.6l.3-3.9l.15 .8l.15-4.3l.22 7.7l.08-6.1l.22 4.8l.3-5.2l.08 5.6l.15-6l.07 3.9l.15-2.9l.3 3.5l.07-4.3l.08 4.5l.3 .3l.15-5.3l.22-.1l.15 4l.08-2l.22-2.4l.22 1.4l.08 4.4l.15-2.2l.22-4.9l.23-.1l.07 6.1l.15-4.7l.08 2.2l.22-1.3l.3 3.6l.07-4.4l.08 4l.3-4.1l.22 3l.15 3.5l.08-8.1l.15 4.4l.14-5.2l.23 7.2l.22-5.3l.08-1.3l.3 4.4l.07-3.3l.23 5.4l.14-6.3l.15 6.1l.23-5.4l.15 6.5l.07-5.8l.23 2.7l.15-4.2l.07 5l.37-6.4l.08 4.3l.22-1.9l.08 4.1l.3-6.5l.07 5.9l.3 .5l.08-5.9l.07 5.9l.15-5.1l.15-.5l.07 6.2l.3-5.5l.23 3.4l.07-5.6l.3 7.6l.15-2.4l.08-3l.14 5.7l.15-3.1l.15 1.3l.15-4.5l.3 1.9l.08-1.6l.3-.3l.07 3.4l.22-2.5l.15 2.7l.3-.1l.08-3.8l.15 6.6l.07-6.9l.15 5.6l.08-5.1l.37 2.4l.07-2.6l.3 8.2l.15-7.6l.15 4.4l.15-2.3l.15-4.1l.15 7.6l.15-4l.08-4.8l.22 1.9l.22 3.3l.15 1.5l.23-3.8l.07-2.2l.15 2.8l.15-2.1l.15 5.2l.22-5.2l.23 5.2l.07-5.3l.15 4.1l.3 1l.08-2.9l.15 3.7l.3-4.7l.14 .5l.15 5.6l.15-2.4l.08-2.9l.22-2.4l.08 7.8l.3-6.9l.15 4.6l.15-2.8l.07 3.3l.37-.7l.08-2.5l.22-2.1l.15 7.2l.08-1l.22-3.7l.15 2.4l.08-3.4l.29 6.7l.08-5.7l.22 2.8l.23-5.5l.15 2.7l.07 4.6l.23-1.5l.15-3.6l.14 5.4l.15-4l.3 1.5l.08-4.5l.15 2.9l.15 2.5l.22-2.5l.15 2.2l.08 .9l.14-1.3l.23 1.6l.15-2.8l.15 4.9l.22-5.9l.15 .3l.23 4.4l.07-5.1l.08 5.5l.37-5.2l.07 5.6l.38-6.4l.07 5.5l.23-3.6l.07 5.2l.08-4.8l.07 3.7l.3-.9l.15-5.3l.15 1.2l.3 5.5l.07-3.8l.08 4.9l.22-6.7l.08 5.7l.37-4.9l.15 3.7l.07 .1l.23-3.1l.07-1.9l.3 5.4l.08-.4l.22-2.9l.07 3l.08-4.6l.45 6.1l.07-4.4l.3 4.6l.08-4.4l.15 7.3l.15-5.7l.22-1.5l.07 2.9l.3-3.9l.08 4.8l.07-2.6l.23 3.2l.15 .6l.07-5.3l.3 4.7l.07-3.9l.23 4.4l.07-2.9l.3-2.1l.08 6.7l.15-6.8l.07 5.6l.3-3.4l.15 2.6l.15-2.9l.22 4l.15-1.4l.08 .9l.37-3.5l.15 3.4l.08-4.3l.22 5.4l.15-3.9l.15 4l.3-.1l.07-3.2l.08-.6l.07 4.8l.38-2.9l.15-3.5l.14 1.8l.08 2.7l.22 1.7l.08-3.8l.3 2.5l.07-2.6l.15 4.3l.08-2l.3-3.5l.07 4.1l.45-4.5l.07 6l.08-3.5l.15 2.8l.15-5.2l.3 4.2l.07-4l.15 4.6l.37-1.3l.08 3l.15-2.8l.15-2.6l.22-3.3l.08 7.9l.07-5.3l.08 4.6l.29-3.1l.23 4.8l.07-6.3l.23 6l.22 .9l.15-6.2l.15-.5l.08 6.1l.22-4.3l.15 3.3l.37-2.6l.08 3.4l.22-4.1l.08 3.2l.15-4l.07 7.2l.23-6l.14 3.5l.15-1.9l.08 3l.3-5.4l.07 5.7l.3-4.7l.15 4.8l.15-4.8l.08 1.6l.29-.8l.15 4.2l.08-4.7l.22 5.1l.15-1.4l.23-3.4l.3-.8l.07 3.5l.07 .6l.08-4.8l.37 6.2l.08-4.2l.15 3.7l.15-6.5l.15 5.6l.22-3.9l.22 4.3l.08-4.2l.15 .5l.3 2.4l.15-2.9l.15 2.2l.07-.9l.23 1.9l.22-4.6l.07 4.2l.15-.3l.23-2.1l.07-.5l.08 5.4l.3 .8l.15-3l.22-1.4l.07 2.3l.3-3.9l.15 6.6l.08-2.7l.3-3.8l.15 4.5l.15-4.6l.07 4.8l.08-6.2l.29 3.6l.08-1.6l.37 .6l.08 5.6l.3-2.3l.07-4.5l.23 .4l.07 4.8l.07-2.6l.08-3.1l.3 3.2l.15-3.9l.3 1.5l.07 4.1l.15-5.7l.23 5.1l.07-.7l.15-4.7l.3 .7l.15 2.5l.15-3.9l.22 6.7l.15-5.9l.15 2.7l.3-1.7l.07 5.7l.15-.9l.08-3.9l.22 5.2l.08-6.4l.37 3.8l.08-3.5l.07 3.5l.08-1.7l.29-2.9l.15 4.6l.15-1.7l.23 2.4l.22-1.3l.15 3.4l.15-4.5l.15 4l.15-.9l.15-5.2l.15-.7l.07 4.3l.23-3.3l.15 4.9l.22-.7l.23-4.6l.07 4.9l.3-2.7l.22 2.6l.08-4.2l.07 4l.23-2.9l.07 2.5l.23-4.6l.29 1.4l.08 4.2l.15-7l.07 3.3l.23 3.2l.22-1.6l.08-2.6l.15 4.8l.3-2.1l.07-.8l.22 1.2l.15-1.4l.15 5l.15-4.5l.15 4.2l.15-8.4l.23 2.8l.22 3.1l.07-6l.3 5.3l.15 1.2l.08-4.6l.22 5.2l.15-3.7l.23-4.7l.15 7.2l.22-5.7l.07 6.6l.23-5.8l.15 4.7l.07-5l.08 5.9l.37-4.2l.08 4.8l.29-5.9l.08 3.6l.3 1.8l.07-2.9l.08-1.3l.15 4l.37-2.9l.08 3.5l.07-2.1l.15-2.1l.15-.4l.3 3.1l.22-.8l.08-3.7l.07 .4l.23 3.7l.29-5.2l.08 6.8l.07-6.1l.23 4.5l.07-5.2l.3 6.2l.08-2.5l.22-.9l.23-.9l.14 4.8l.15-3.7l.15 2.2l.08-.5l.07-3.5l.3 2.9l.15 1.8l.23-5.6l.22 5.4l.07 0l.15-2.7l.38-1.1l.07 4l.08-2.1l.22-1.9l.08-.7l.15 7.2l.15-6.4l.14 3.6l.23-.4l.15-2.6l.22 3.8l.23-5.8l.07 5.4l.15-5.5l.23 4.3l.22-2.9l.22-.8l.08 6.2l.15 .5l.07-8l.23 7.6l.22-2.4l.08-4.8l.15 5.6l.22-3.8l.22 1.9l.08 .7l.15-3.1l.22 0l.15 4.6l.23-3.9l.07 5.2l.22 .4l.15-5.7l.15 1.2l.23-2.6l.3 2.7l.07-4l.08 6l.15-1.9l.15-.2l.07-2.2l.3 5.8l.07-4.1l.3-1.6l.08 4.5l.22-5l.23 3.4l.07 2.1l.08-4.5l.44 .1l.08 4l.15-3.1l.07 4l.38-4.6l.07 4.6l.08-3.6l.22 4.7l.15-5.2l.07 4.2l.23 .6l.22-5.5l.15 4.3l.23-4.5l.22 5.6l.08-5.7l.22-.9l.15 5.7l.07-.9l.08-2.9l.37-.3l.08 5l.22-1.3l.08-4.1l.37 7.6l.07-6.7l.08 2.9l.15-2.2l.15 4.2l.15-5.3l.15 5.5l.07-5.9l.38 5.1l.14-1.6l.23 .2l.15-1.4l.15-1.2l.07 3.9l.15 .8l.08-8.2l.3 4.1l.07 2.8l.22 .1l.08-3.2l.37 3.4l.08-3.1l.15 0l.3 1.8l.07-2.3l.15 3.3l.22 .9l.08-2.8l.22-.4l.15 5.2l.3-4.4l.08-1.4l.3-1.3l.07 3l.07 1.6l.23-4.5l.07 .8l.23 6.1l.15-2.6l.22-2.8l.15 1l.23 3.4l.07-.7l.22-3.9l.23 4.7l.15-4.2l.15-1.8l.07 2.9l.23 1.3l.15-3.5l.29 5.6l.08-3l.22-1.9l.15 3.8l.08-3.9l.07 3.5l.3 1.2l.08-5.5l.15 5l.22-5.9l.22 3.1l.08 1.5l.3 1.5l.15-3.9l.15-1.5l.15 3.3l.22-1.7l.08 4.1l.14-2.7l.23 1.8l.22-2.6l.08 5.2l.15-5.6l.07 4.4l.38 1.3l.15-5.6l.22 .1l.07 2.7l.08 2l.22-6.4l.23 5.9l.07-5.6l.23 7.3l.07-8.5l.15 5.4l.3-4l.15 2.7l.07-1l.15-2.2l.15 6l.23-1.2l.07-4.3l.23 5l.15-2.8l.37-2l.07 4.1l.3-2.8l.08 2l.15-3.9l.15 6.3l.15-6.1l.22 5.1l.22 0l.08-3l.07 .8l.15 1.4l.3 3.3l.15-5.8l.08 1.3l.15 1.9l.29 .8l.08-5.8l.22-.1l.08 3.2l.15 1.7l.3-5l.15 5.1l.15-4.3l.07-1.8l.15 7.8l.22-6.1l.15 4.3l.15-.4l.3-2.8l.08 4.2l.07-5.7l.38 0l.14 3.4l.08-2.8l.15 3.4l.15-2.2l.15 5.4l.37-6l.08 5.2l.07-3.6l.15 4.9l.15-6.7l.07 4.9l.3-3.9l.23 7.1l.15-10l.07 6.3l.23 .3l.07-3.5l.3 .5l.22 3l.15-4.6l.08 6l.15 .5l.07-5.9l.38 .6l.07 2.8l.37-3l.08 3.9l.07-5.3l.15 4.6l.23 1.6l.15-5l.15 2.7l.15-1.7l.22 2.4l.07-2.2l.23 1.9l.15-3.7l.3 1.6l.07 3l.15-2.7l.15 4l.15-3.9l.08-3l.29 5.1l.15-4.2l.23 4.4l.07-2.2l.15-3l.15 3.9l.23 .8l.22-2.1l.22-1.6l.08 6.1l.15-2l.07-3.6l.3 .8l.08 1.6l.22-1.8l.23 5.4l.14-6.1l.15 5l.15-3.2l.15-4.5l.23 8.4l.07-8.2l.15 4.1l.3 3.8l.15-5.6l.15 2.8l.07 3.3l.08-6.6l.45 1.8l.07 5l.15-6.2l.15 2.6l.15-1.9l.22 5l.23-6l.15 4.8l.07-3.2l.15 4.1l.23-.2l.07-4.1l.15 .1l.3 3.1l.07 0l.08-4.6l.45 6.2l.07-6.2l.08 1.6l.22 3.9l.15-3.2l.08 3.6l.22-4.6l.07 5l.23-5.3l.15 3l.37 2.6l.08-3.6l.22 2.5l.15-4.2l.22-.7l.08 3.8l.07-3.9l.23 8.4l.22-3.3l.08-6.5l.22 3.8l.15-1.8l.08-.8l.29 2.9l.08-2.1l.15 4.7l.3-2.6l.15 2.8l.15-2.9l.07-2.4l.23-.5l.22 5.9l.07-7.6l.15 5.2l.3-1l.08 2.8l.22-3.9l.08 3.7l.15-4.1l.07 2.9l.37-3.2l.15 3.9l.15 2.1l.15-5.3l.15 1.1l.15-3.1l.23 5.5l.07-3.6l.23 3.8l.14-3.3l.23 .3l.07 2.7l.3-5.1l.08 5.3l.15 2.6l.15-5l.3 3.6l.07-4.4l.3-1.2l.07 2.4l.08 2.4l.15-3l.22-2l.15 3.3l.15-2.3l.3 1.5l.15-.8l.15 4l.07 .1l.08-4.6l.3 .4l.07 4.2l.23-4.1l.15 2.6l.22-3.2l.07 5.3l.23-.9l.07-4.4l.23-1.4l.3 3.5l.22 .2l.08 1.9l.07-2.3l.07-3.4l.38 4.3l.07-3.5l.23-.3l.07 3.1l.3 1.5l.15-2.3l.3-2.4l.07 5l.08-5.5l.07 5.8l.3-4.3l.08 3.5l.22-6.1l.15 5.5l.3-4.3l.07 3l.3-1l.08 3.4l.15 .2l.07-4l.23 .3l.07 1.6l.23-.8l.07-2.9l.45 .7l.07 5.2l.15-1.1l.15-6l.08 3.3l.3 3.6l.07-3.8l.08 4.2l.22-5.1l.3 5.1l.22-5.2l.08 4.2l.15 .4l.07-2.8l.15 3.9l.15-6.4l.3 1.8l.07 4.1l.38-3.7l.07 3.6l.15-6.3l.08 3l.22 3.6l.15-2.6l.3 2.3l.07-4.2l.23 3.3l.07-4.1l.23 .2l.07 5.3l.23-2.5l.22 2.3l.08 .7l.07-4.6l.22-1.6l.08 4.8l.22-1.2l.08-2.5l.37 2.6l.08-3.2l.22 6l.23-4.8l.07-4.1l.15 7.1l.15 1.3l.15-6.9l.3 6.2l.07-7.4l.15 4.8l.23 2.9l.22-3.6l.15 2.7l.15-.9l.07-3.4l.38 1.7l.07 3.3l.3-3.5l.08 4l.07-5.8l.08 5.7l.22 .6l.15-5.3l.22 6.4l.15-7.8l.15 6l.23-4.2l.07 4l.08-6.6l.37 1.2l.07 5l.23-5.5l.07 5.3l.38 1.3l.07-6.5l.08-.1l.15 3.6l.29-2l.08 2.8l.15-4l.07 3.6l.38 2.2l.07-4.2l.15 1.3l.3 2l.15-4.3l.15 4.4l.22-4.6l.08 3.3l.15-1.6l.15 3.8l.22-5l.15 4.8l.3-7.1l.07 4.2l.15 3.1l.08-4l.22-1l.08 5.8l.22-5.8l.23 2.5l.22-2.5l.15 2.5l.15-2.3l.15 3.6l.07-4.7l.15 6.3l.23-5.7l.07 4.5l.3-1.3l.15-3l.15 3.9l.22-5.1l.08 1.8l.22 5.4l.08-4.7l.22 3.5l.3 1.7l.08-7.6l.14 3.6l.15-4.9l.15 7.8l.08-5.6l.22 3.2l.15-4.9l.23 .8l.07 4.5l.37-3.1l.08 3.5l.15-1.8l.22 1.1l.08-2.8l.3 5.4l.07 .9l.15-5.3l.3 .5l.07 3.8l.15-4.5l.23 1.9l.22 .2l.08-4.7l.07 5.2l.3-6.2l.15 5.6l.15-2l.3 1.8l.07-5.8l.08 7.7l.22-3.2l.15-1.5l.08 5.8l.22-5.2l.08 4.2l.29-.3l.23-5.4l.07 6.2l.08-6.2l.22 3.9l.08-3.5l.37 .9l.15 5.4l.08-1.2l.14-3l.23-2.7l.07 6.5l.23-2l.07-3.7l.3 1.7l.15 3l.15-2.5l.15 2.9l.15-3.8l.07 3l.38-.3l.07-2.1l.38 5.5l.07-6.9l.08-.1l.22 2.3l.22-2.6l.15 .9l.15 2.9l.08-3.3l.37 3.5l.08-5.8l.07 4.9l.23-2.7l.07 .6l.07 3.1l.3-2.3l.23-2.2l.22 2.9l.08-1.9l.15 4.3l.07-3.8l.23-1.3l.07 5.4l.3-.5l.22-5.4l.08 2l.22 2.5l.15-4.8l.08 4.4l.22 .7l.22-4.2l.08 1.9l.15 3.5l.22-.5l.23-2.8l.07-2l.08 4.9l.3-.4l.07-2.3l.22 4.1l.08-5.3l.37 5.5l.08-5.9l.15 4.4l.22-2.1l.08 2.8l.07-5.8l.45 1.4l.07 2.7l.3 1.2l.08-4.4l.15-.2l.15 4.9l.22-2.4l.15-2.9l.07-1.2l.08 8.6l.22-6.3l.08 5.3l.37-5.6l.08 2.3l.15-2.8l.15 2.3l.22 3.8l.07-5.9l.38 2.8l.07-3.5l.23 .2l.15 1.8l.07 1.5l.15-1.7l.23 3.5l.14-6l.23 6.5l.15-4l.15 4.3l.07-5.4l.23 4.2l.22-2.1l.15-.8l.08 2.7l.29-2.6l.08 5.2l.15-2.1l.3-4.6l.15 5.1l.15-4.8l.15-1.8l.15 7" stroke="#ff4500"/>
<path d="M73.07 196.7l.08-3.8l.22 3.1l.15-2.9l.23-1l.07 4.1l.23-4l.07 3.6l.3 2.9l.07-6.5l.3 7.8l.08-7.7l.15-.2l.22 5.4l.08 .2l.07-2.7l.23-1.9l.22 2.2l.22-1.3l.08 4.8l.3-.8l.15-5.4l.22 1l.08 5.2l.22-6.7l.08 4.2l.22-2.7l.07 3.1l.23 1l.07-3.8l.38-.8l.07 6.1l.08-4.8l.07 3.1l.23-4.5l.14 3.8l.3 3.2l.08-6.1l.22 3.6l.23-5.9l.22-.7l.08 5.5l.15-4.6l.22 6.2l.07-.5l.08-2.4l.22-2.3l.3 4.4l.15-5.5l.08 5.5l.22-4l.08 3.7l.14-3.9l.08 4l.3 1.8l.15-2.6l.3 2l.07-3.7l.15-1.5l.08 3.4l.22-3.8l.07 1.4l.45 2.6l.08-6.2l.07 4.9l.23 4.6l.22-8.4l.08 4.9l.22 .9l.22-2.2l.08 2l.15-3.5l.15-1.6l.3 5.6l.22 .4l.08-6.6l.14 4.2l.08-1.8l.15-1.6l.22 5.1l.15-1.1l.23-1.7l.15 3.9l.15-5.6l.22 6.2l.15-7l.3 .9l.07 3.9l.15-6.4l.08 6.6l.22 3.4l.08-7l.3 5l.07-5.4l.15-1.4l.22 5.4l.23-3.9l.07 4.6l.38-.6l.07-3.9l.15 1.8l.08 3.6l.14-4.4l.15 3.1l.15 1l.3-2.8l.15 2l.08-3.9l.3 6.1l.15-6.6l.14 7l.15-4.7l.08 3l.3-4.5l.15 1.6l.07-1.5l.3 4.1l.08-6.2l.15 6l.22-2.9l.15 2.6l.22-5.1l.08 2.5l.22 3.8l.08-4.6l.07-2.1l.45 5.5l.07-5.2l.15 3l.15-4.7l.15 4.4l.08-3.4l.3 1l.07 5.1l.3-7.4l.08 7.8l.29-1.9l.08-2.3l.07-.8l.15 5.2l.3-2.3l.08-3.2l.37 2.5l.08-3.6l.14-.2l.08 4l.22 2l.15-4.5l.15 3.4l.08-5.2l.37 .1l.08 6.3l.07-5.6l.3 4.5l.22-2.3l.08-2l.15-.6l.22 3.5l.15 .9l.08-5.6l.3 .8l.14 4.9l.08-.8l.22-2.4l.3 2.5l.08-2.8l.22 4.3l.08-4.3l.07 3.8l.15-5.3l.37 .7l.08 2.5l.3 .5l.07-4.4l.08 .2l.15 5.2l.3-3.6l.07 1.6l.08 2.5l.14-3.4l.3-2.2l.15 1.8l.15 2.3l.23-3.5l.15 4.8l.15-5.8l.22-1.6l.15 8.8l.07-4.4l.15 2.4l.38 .1l.07-2.9l.15 1.8l.15-5.1l.15 6.4l.07-3.7l.3-.7l.08 3.5l.15-2.4l.07 5.1l.45-1.7l.08-2.4l.07 .2l.15 2.7l.15 .9l.3-7.1l.07 4.9l.23-1.2l.15 3.7l.22-6.3l.08 2.4l.15 4.4l.14-1.1l.23-5.3l.22 5.4l.15-5.6l.15 2.2l.23 3.4l.15 1.3l.15-6.3l.07 4.9l.3-2.2l.22 4.2l.08-4.6l.07 6.2l.23-5.2l.15 0l.22 2.8l.15 2.4l.15-4.7l.15 3.4l.15-3l.22 2.9l.15-2.5l.15-.3l.08 1.8l.37 2.9l.07-3.2l.08-1.9l.15 4.6l.22 1.1l.23-3.2l.3 3.9l.07-4.5l.15 1.5l.15 3.1l.07-2l.23 3.6l.15-5.1l.15 4.6l.15-.3l.07-4l.3 1.2l.15 2.5l.15 2.5l.07-7.7l.23 5.3l.07 2.5l.38-4.4l.07 5.3l.23-4.1l.07 4.6l.3-3.8l.07 4.1l.3 .2l.15-5.5l.08 3.6l.22-.6l.08-.2l.07 3.6l.3 2.6l.15-8l.22 5.7l.15-2.1l.23 1.8l.15-1.4l.07-1.4l.23 6.2l.07 .7l.15-4.8l.37 5.4l.08-.8l.15-3.5l.22 3l.08-2.7l.15 2.2l.3 3.3l.07-3l.22 2.8l.15 3.8l.15-.1l.15-5.5l.15 5.8l.23-3l.22 5l.08-5.8l.22 6.4l.15-1.6l.22-2.1l.08 3.7l.3-2l.07 1.9l.08-.5l.22 5.5l.08-4.9l.29 6.7l.08-.6l.22-3.7l.3 5.8l.08-4l.15 4.7l.07-5.2l.23 4.8l.07-1.6l.37 7l.08-3.9l.15 2.2l.15-4.2l.22 2.2l.08 4.2l.37-3.4l.07 7.8l.08 .1l.07-3.4l.3 5.6l.15-5.3l.3 3.6l.08 6.4l.07-6.8l.23 8.3l.29-2.1l.08-2.6l.07 4.2l.15-4.9l.23 1.9l.15 4.2l.15-4l.22 4.5l.22-1.4l.15 7.8l.15-6.9l.15 4.5l.15-5.6l.23 4.2l.07-.9l.15 4.6l.15 2.6l.3-4.2l.07 2.6l.23-3.1l.15 1.5l.07 3l.23-2.5l.07 2.5l.3-2.4l.15 8.1l.07-5.3l.08 4l.37-.7l.15 2.3l.08-1.1l.15-4.2l.37 .7l.08 3.7l.07-2.5l.07 4.7l.45-6.1l.08 6.2l.15-.9l.22-4.5l.08 .6l.22-1.3l.08 3.5l.07-6.2l.37 4.8l.15-.7l.15-.5l.15-5.4l.08 6.3l.22-6.6l.23 4.6l.07-6.9l.15 5.8l.15-3.1l.22-2.3l.15 2.2l.15 1.2l.23-3.4l.22 3l.08-4.5l.37-1.4l.07 4.6l.23-.6l.07-5.5l.23 2.8l.07-2.9l.23 4.6l.15-7.4l.07 7l.22-5.5l.23 4.5l.15-6.6l.07 3.8l.08-2.5l.22 3.2l.08-5.1l.44 4l.08-4.5l.07 3.1l.3-2.7l.15-1.2l.08 5l.22-5.3l.15 3.5l.15-.8l.15-6.3l.3 6.8l.15-3.7l.15 4.5l.07-7.4l.15 6.4l.3-5.1l.15 2.7l.08-5.7l.14 5.5l.3-5.4l.08-.5l.15 4.1l.15 1.1l.22-4.8l.08 4.9l.07-4l.37-3.1l.15 2.4l.08 3.3l.15-3.5l.22-1.3l.08 2.8l.22-3l.23 5.5l.14-4.1l.15-1.3l.3 2.3l.08-5.5l.15 4.3l.15-3.3l.22 2.5l.23-3.2l.22 3.3l.07-2.6l.23 3.1l.07-4.6l.3-.2l.08 3.9l.15-.1l.07-5l.37 .9l.08 4l.07 .2l.15-5.7l.15-2.2l.08 7.8l.3-7.4l.15 6.8l.3-2l.14-3.1l.08 0l.22 3.1l.15 0l.23-2.6l.07 5.4l.08-6.5l.22 3.5l.3-3.2l.15 3.3l.15-4.6l.15 .1l.15 2.2l.15 1.8l.22-6.7l.08 1.2l.07 4l.23 2l.14-5l.3 2.1l.15 1.8l.23-3l.15 3.6l.15-6.2l.07 7.3l.15-5.1l.08 1.7l.44-1.8l.08 4.5l.07 .7l.3-5.7l.08 2l.07-2.9l.23 4.2l.07-3.5l.3-1.6l.22 8.4l.15-8.1l.15 6l.08-.9l.3-4.3l.07 4.1l.23-6.1l.07 7.3l.3-4.8l.15-.9l.07 5.6l.15-5.1l.23 3.4l.15 .9l.22-3.2l.15 .7l.15-1.4l.15-1.6l.15 6l.15-1.4l.3-5.9l.07 5.8l.15-2l.3-1.5l.15 4.5l.22-4.2l.08 5.7l.07-.6l.15-5l.23 5.8l.22-4.7l.23 .3l.07 1.1l.15 .8l.07-2.6l.38 4.3l.07-7l.08 5.6l.15-4.5l.22 2.6l.23 2l.07-.8l.15 3l.37-.6l.08-3.3l.07 3.2l.08-5.7l.37 3.7l.15 4.3l.3-5.5l.07 4.2l.15-2.3l.08 2.8l.15-1.8l.07-3.7l.23 4.9l.15-3.5l.37 3.6l.07-4.8l.08 4.6l.07-4l.45 5l.08-3.2l.3-1l.07 6.5l.08-4.5l.07 3.6l.3-3.1l.22 3l.15-4.3l.15 3.5l.15 .8l.15-4.4l.3-2.1l.07 6.3l.15 .3l.08-2.3l.3 3.1l.07-2.7l.3-.2l.08 3.6l.15 .3l.07-4.8l.22 6.3l.08-5l.22 2.3l.08-3.1l.3 1.1l.22 4.3l.23-1.4l.15-4.1l.14 5.1l.08-1.1l.22-1.6l.15 4.7l.15-1.7l.23 .6l.22-2.9l.08 2.2l.15-2.1l.14 2.5l.15 2.6l.23-6.3l.3 6.4l.07-3.2l.15 1.5l.08-3.2l.15 .2l.07 5.3l.37-1.3l.08-4.2l.37 2.5l.08 3.2l.22 3.1l.08-6.4l.3-.5l.07 5.6l.07-1.1l.23-3.1l.22 5.5l.08-4.2l.22 2.8l.08-4.1l.37 .7l.08 3.2l.22 2.7l.07-6.1l.08 4.3l.15-2.4l.37-.7l.08 7.6l.07-6.5l.23 1.6l.07-1.3l.22 2.8l.23-2.7l.07 2.5l.15-2.5l.3 4.9l.08 .1l.15-4.3l.37 6l.07-5.4l.08 4.4l.07-4.9l.3 2.2l.23 5.5l.07-2.3l.15-1.9l.3 .2l.08 1.8l.14 2.2l.15-3.6l.15 3.7l.15-1.6l.38-1.1l.07 4.2l.08-3.6l.07 2.6l.23-2.5l.22 3.8l.22-3.2l.15 4l.08-1.3l.15-3.3l.3 2.5l.07 4.5l.37-1.5l.08-4.2l.22-.7l.08 5.2l.15-3.1l.07 5.1l.38-6.9l.07 6.6l.23-3.1l.14 4.9l.08-2.6l.15 4.4l.22-2.4l.15-2.5l.08 .9l.22 2.9l.15 1.5l.08-5.3l.44 1.2l.08 4.7l.07-1.3l.08-3.6l.37 3l.15 3.1l.23-2.3l.07-4.9l.07 2.3l.15 5.9l.38-4.2l.07-1.4l.23 2.9l.15 1l.22-1.7l.08 3.6l.14-1.5l.15 2.8l.15-.3l.15-2.8l.23 4.1l.15-5.4l.22-.1l.15 3.1l.08-1.2l.22 1.5l.15-4.1l.22 3.1l.08 .9l.15-3.5l.15 1.4l.15 1.5l.3-1.4l.14 2.3l.08-2.7l.3 3.2l.15 1.7l.15-6.1l.22-.3l.15 4.4l.23-2.4l.07 3.8l.07 1.3l.08-3.5l.3-.9l.22 3.9l.08-4.4l.22 2.4l.15-3l.08 4.9l.37-6.8l.07 6.3l.15 .8l.15-6.7l.23 2.4l.07-.6l.15 1.9l.3-2.1l.08-1.7l.14 5.7l.15-1.3l.08-3.1l.37 1.7l.15-3.1l.15 5.7l.08-6.1l.37-1.2l.07 4.6l.08-.8l.22-6l.23 6.3l.07-2.9l.23-1.3l.07 4.3l.3-6.7l.15 6.3l.22-.1l.08-2.3l.15-1.8l.22 5.5l.08-4.1l.22 1.9l.15 1l.08-8.1l.22 3.4l.22 3.8l.08 .7l.22-4.5l.3 0l.08 3.4l.07-4.8l.23 3l.15-2.5l.14 4.8l.15-6.7l.23 2.2l.15-1.1l.07 5.3l.3-4.9l.15 2.7l.3-.7l.07-3.8l.08 .6l.07 3l.23-3.1l.07 3.8l.45-4.3l.08 3.9l.07-4.4l.08 2.8l.29-3l.23 1.2l.15-.5l.22 5.1l.08-4.3l.15-3.5l.15 6.9l.07-3.9l.3 2.8l.15-3.9l.3-.3l.07 4.6l.08-.5l.07-4.2l.3 2.4l.23-3.1l.14-.7l.23 5.4l.07-.4l.08-5.5l.3 .2l.22 3l.08-.4l.07-7.4l.23 4.1l.22 6.1l.15-6.6l.07 5.6l.45-.4l.08-7.8l.07 7.2l.15-3l.23-2.9l.22 4.1l.15-2.4l.07 3l.15-1.4l.23-2.8l.07 3.6l.15-4.4l.3 4.2l.08-4.5l.14 1.6l.3 4.3l.15-.2l.08-6.2l.3 3.4l.07-2.2l.15 5.1l.23-4l.07 4.4l.3-9.1l.15 7l.07-4l.15 6.2l.15-6l.23 2.2l.15-3.9l.15 2.7l.29-3.6l.08 1.8l.22 4.4l.15-3.8l.15 2l.23-1.1l.07 3.7l.15-.3l.08-2.9l.29-3.6l.15 3.9l.3-.8l.08-1.9l.15 3.1l.15-4.4l.15-.5l.07 7.9l.3-6.3l.22 3.1l.15-1.2l.15 1.3l.15-4.3l.15 7.1l.23-2.2l.15-5.9l.22 4.8l.07-2.4l.15 2.8l.15-4.6l.23 1.8l.07 2.6l.15 .9l.15-3.2l.3-.9l.07 1.9l.23 1.9l.22-5.3l.08 3.2l.15-3l.15 4.3l.15-3.6l.3-.4l.07 6l.15-6.5l.15 8.1l.3-7.9l.15 2.1l.07-2.6l.15 6.6l.23-3.2l.15-2.3l.22 1.9l.07 .9l.23-1.8l.15 4.2l.15-3.6l.22 5.6l.08-5.6l.07 2.1l.3 2.1l.15-5.6l.3 5.6l.07-4.9l.3 3.3l.08-5l.07 1.8l.23 4.6l.15-4.4l.22 4.4l.22-1.9l.15 5.7l.08-8l.22 2.9l.08-2.6l.22 7.2l.3-6.2l.07 3.1l.08 .6l.07-2.8l.23 4.9l.3-5.9l.15-1.3l.07 5l.15 .7l.22-6.2l.3 3.3l.08 3.3l.07 1.2l.3-5.4l.08 5.4l.15-5.7l.15 0l.22 6.8l.15-3.6l.15 2.9l.15-6.4l.22 6.5l.23-1.9l.15-3.6l.15 5.9l.15-6.3l.22 .8l.07 4.7l.23-3.3l.15 4.6l.3-3.4l.07 2.3l.08 1l.07-4.3l.37 .9l.15 3.5l.15-5l.15 5.4l.08 .6l.15-2.6l.22 2.4l.23-5.8l.15 .7l.22 5l.07 1.4l.08-3.6l.45-1.7l.07 5.7l.15-.5l.08-5.2l.22-.8l.08 5.9l.22 .4l.07-4.4l.3 1.4l.15 2.7l.23 2.8l.07-5.9l.3-.7l.08 2.1l.29-.2l.08 3l.07 1.8l.23-5.7l.15 1.5l.07 4.7l.3-1.7l.15-2.2l.22 2.6l.15-3.6l.15-1.9l.08 5.7l.22 .3l.08-4.3l.22 .7l.15 6.3l.23-1.9l.14-5l.08 5.9l.22-7.4l.23 7.1l.07-7.4l.15 1.1l.08 7.5l.3-3.7l.07 2.7l.45 1.7l.07-5.7l.23 3.7l.07-2.9l.23 .7l.07 3.4l.23 .9l.07-5.1l.15 2.4l.22-1.8l.23 3.9l.15-3.3l.07 4.8l.15-3.3l.23-2.9l.15 3.2l.15-.6l.22 3.4l.07-3.6l.15 5.9l.23-1.9l.22-4.7l.08-1.1l.15 5.6l.22-3.5l.15 3.6l.22 .4l.23-5.9l.07 6.9l.15-3.7l.23 3.3l.15-4.5l.15 .6l.15 4.6l.14-6.3l.3 3.8l.15-3.5l.15 6.5l.3-1.4l.08-2.7l.07 5.9l.23-6.7l.07 2.7l.15 1.8l.15-3.1l.3 4.1l.07-2.7l.23 3.3l.07-1.2l.3-5.5l.07 2.5l.08 2l.3 3.6l.07-8.2l.3 3l.08 1.4l.3 .4l.15 2l.07-4.9l.07 4.2l.23-3.5l.15 5.5l.22-6.2l.23 5.3l.07-4.3l.15 1.7l.23 1.9l.07-2.5l.22 .1l.08 2.6l.37-.1l.15-4.2l.23 .9l.07 2.5l.08 1.1l.07-5.5l.3 6.7l.07-1.8l.23 3l.07-4.9l.38-.4l.15 3.6l.07-2.6l.08-5.5l.44 4.9l.08-2.5l.15 1.4l.07 4.1l.38-3.8l.07 2.2l.15-5.8l.15 6.3l.15-6.9l.07 7.9l.38-4.6l.07 3.5l.15-2.7l.08 3.5l.37-6.2l.08 4.4l.22 1.7l.15-3.2l.07 3.9l.15-6.7l.23 6.3l.07-5.5l.3 .8l.08 5.8l.3-5l.07 2.5l.22-2.6l.15 5.2l.3-1.9l.08-4.2l.22 3.1l.08-2.8l.22 2.9l.08-3.8l.29 3.4l.08-4.3l.07 .6l.15 4.6l.3-.5l.08-4l.15 4.2l.07-2.9l.45-5.4l.07 6.8l.08 1.2l.22-2.5l.3 2.7l.08-7l.07 6.4l.08-3.1l.22-3.5l.08 6.4l.44 .1l.08-2.6l.07-.3l.23-2.9l.22 6.3l.08-6.4l.15 1.2l.07 3.4l.3 .1l.07-3l.23 4.3l.15-6l.3 4.5l.07-2.6l.15 2.8l.23-3.4l.14 2.8l.08-4.5l.22 5.3l.15-2.8l.23 4.1l.07-5.6l.23 .2l.22 4.7l.15-1.8l.15-3.8l.15-.5l.07 4.8l.38-1l.07-3.4l.15 4.5l.23-3.3l.07 .6l.07-3l.23 .6l.3 4.7l.07-3.2l.23 3.4l.15-.2l.15-6.5l.15 8.5l.22-9.1l.22 2.5l.15 2.9l.15 1.5l.15-7.3l.08 7.7l.3-5.1l.07 3.2l.15-3.5l.15 4.1l.3-3.5l.07 5.5l.08-5.8l.3 5.9l.22-7.3l.08 5l.07-6l.22 5.9l.08-2.6l.22 3.3l.3-3.6l.15 1.2l.08-2.5l.15-.5l.3 4.8l.07-1.8l.22-3.6l.08 .1l.07 2.2l.3-1.5l.15 3.8l.15-.2l.15-4.6l.23-1.1l.22 4.3l.15-4l.22 6.7l.08-2.8l.07 2.6l.38-1.3l.15-3.8l.07 1.1l.15 3.7l.22-.3l.15-4.7l.15 3.8l.23-1.1l.07-2.4l.15 7.2l.23-5.9l.07 3.7l.22-.9l.08-4.8l.3 1.9l.15 2.8l.3-1.8l.07-1.2l.08 4.1l.3-4.7l.22 2.1l.07-3.3l.08 1.5l.3 1.3l.07-3.2l.08 6.2l.3-4.2l.15 3.6l.15-1.3l.14-3l.23 1.6l.07 1.6l.38 .2l.07-1.3l.08 .3l.22-1.4l.08 3.7l.29-3.1l.15-3.7l.08 4.1l.15-1.3l.15 4.4l.3-4.3l.15 3.6l.07 2.1l.08-5.1l.37 3.9l.15-4.2l.3 5.5l.07-6.2l.15 0l.15 4.5l.15-6.4l.08 5.8l.15 1.8l.29-4.3l.15-.5l.15 4.5l.08-5.1l.3 5.8l.15-1.8l.07-3.9l.15 6l.08-4l.29 4.1l.23-4.6l.07 4.6l.15-3.9l.23 .2l.07 6.1l.3-6.3l.22 .9l.08-.9l.07 3.1l.38 2.1l.15-6.7l.15 5.4l.15-2l.22-3.2l.07 4.1l.15 3.5l.08-4.7l.22-2.8l.08 6.6l.37-.8l.15-3.2l.23 4.3l.07-3.7l.07 .4l.08 2.6l.37 1l.15-5.9l.23 4.2l.15-4.1l.15 .3l.15 2.6l.14 1.4l.15-4.9l.15 6.3l.23-5.5l.22 6.7l.08-4.9l.22 .5l.08 4.4l.15-6l.22 4.1l.15 .2l.22-4.5l.15 .5l.15 4.6l.3-1.4l.08-3.8l.07 6.7l.08-6.2l.29 4.1l.15-4.3l.15 3l.15-2l.38 1.4l.07 3.1l.08-2.8l.22 3.4l.15-1.7l.07-5.6l.38 3.2l.07 1.8l.3-2.6l.08 4.3l.22-3.7l.08 5.1l.22-2l.07-3.9l.08 1.6l.3 4.6l.15 .5l.07-6.8l.23 6.6l.22-4.3l.15 4.2l.15-4.4l.15-.2l.07 4.7l.3-4.9l.08 4l.22-3.3l.23 5.6l.15-1.4l.07-2l.15 .1l.07 2.6l.45 1.4l.08-4.2l.15-1.2l.15 1.8l.07 3.4l.3-7.7l.07 2l.15 2.7l.15-.1l.08-4.8l.3 6.6l.15-7.4l.15 7.8l.22-5.9l.15 2.2l.22-2.7l.15-.3l.08 4.7l.22 .6l.08-4.1l.3 .5l.22 6.2l.15-4.3l.15 5.4l.3-2.3l.07-6.7l.15 5.3l.15-3.1l.15-1l.08 6.1l.3-6.9l.14 6.7l.23-4.4l.07-2.6l.08 .9l.3 6.2l.07-4.1l.15 3.3l.15-3.5l.15 4l.22-3.6l.08 2.4l.3-2.5l.15 2.8l.22-1.7l.15 1.2l.3-2.9l.08 4.9l.07-4.8l.07 2.7l.3-.6l.23-2.2l.07 4.6l.15-5.1l.3 4.3l.08-3.5l.07 4.2l.22-4.5l.23 6l.15-2.8l.3-.4l.07 2.7l.08-2.5l.15-2.4l.15 2.6l.22-2.1l.3 .6l.07 1.8l.23 .7l.07-4.3l.23 1.2l.07 5l.15-2l.22-3.9l.15 0l.23 4.4l.15 .7l.07-5.3l.3-.4l.15 6.5l.23-4.6l.07 3.4l.07-.6l.15-4.1l.23 5.7l.22-7.7l.08 .6l.15 6.3l.3 .4l.15-6.4l.07 5.3l.15-4.9l.37 5.8l.08-4.4l.22-2.5l.15 6.2l.08-3.8l.22 4.9l.22-3.2l.08-2.6l.22 3l.08-2.1l.15 2.4l.07-4.3l.45 5.3l.08-1.8l.07-1.7l.08 2.8l.22-1.5l.15-2.8l.22 2.3l.08 3.3l.22-5.2l.15 3.7l.23 2.3l.22-5.1l.15 4.1l.22-2.4l.08-1.4l.07 1.7l.23-4.3l.3 7.3l.07 1.8l.08-6l.22-2.6l.22 6l.23-4.4l.07 3.6l.15 .9l.23-2.2l.22 2.9l.08-4.5l.15 1l.22-4.3l.07 4.4l.08-3.1l.37 5l.08-4.3l.15 5.8l.15-5.6l.37 6.3l.07-3.7l.3-2.8l.08 5.3l.07-2.1l.15-5.1l.23 5.1l.22-2.4l.23-1l.07 5.9l.22 0l.08-6l.3 4.1l.07-3.1l.08-.6l.22 4.7l.08-4.5l.15 5.2l.22-2.1l.22-4.8l.23 7.5l.15-5.4l.07-2l.23 2.8l.07 3.9l.08-5.4l.44 3.3l.08-1.8l.07 4.7l.23-4.7l.3-1.6l.07 3.8l.08-2.6l.15 3.8l.3-3.8l.07 3.7l.22 1l.08-6l.22 4.8l.23-6l.15 3.8l.15 2.6l.15-1l.07-2l.3 .2l.07-5.1l.15 3.5l.15 4l.23-1.6l.22-2.7l.08 1.8l.15-3.5l.29 1.8l.08 2.4l.15 1.3l.22-3.8l.15 1.8l.08-1.9l.37 2.5l.15-3.7l.15 .5l.07 5.9l.15-3.5l.08-1.3l.37 3.6l.15-3.7l.08-1.7l.07 4.2l.3-4l.22 4.4l.08-3.4l.07 3.7l.38-6l.07 6.5l.23 1.2l.07-5.8l.15 .5l.3 3l.15-.9l.07 1.8l.23-4.8l.15 4.1l.15-5l.22 3.4l.3 2.1l.07-4.3l.15 4.2l.08-1.6l.22 2l.15-4l.23 3.3l.15-3.2l.22 2.9l.08-.9l.14-3.3l.08 3.9l.37-2.3l.08 4.9l.07 .2l.23-5l.22 2l.08-1.7l.15-1.4l.22 5.8l.15-4l.22 3.9l.15-5.1l.08 4.5l.22-4.4l.23 2.3l.15-2l.14 3.4l.23-5.4l.15 5.5l.15-5.4l.15 3.1l.15 2.1l.07-3l.38-.4l.07 3.8l.22-.3l.15-3.2l.23 1.2l.07-.7l.23-2.1l.07 5.9l.15-6.4l.15 4.5l.22 .8l.08-3l.22-2.5l.23 8.6l.07-1.1l.23-5.1l.22 3.9l.15-5.1l.08 5.7l.29-6.6l.08 1.2l.15 4.5l.22-.3l.08-3.3l.22 3.8l.08-6l.22 3.6l.08 4l.44-1.7l.08-4l.15 4.1l.07-5.5l.15 5.5l.08 3.6l.37-3.1l.08-5.6l.29 5.9l.08-4.4l.22 1.7l.08 2.1l.15-2.7l.22 3.7l.15-3.1l.22 1.7l.15-3.8l.23 8.4l.07-7l.08 2.5l.3 .9l.15-6.1l.07 3.1l.15-2.3l.22 1.6l.23 4.6l.3-.6l.07-5.2l.23 5.3l.07-5.8l.08 1.8l.22 4.3l.22 .9l.08-5.5l.15 3.7l.3-4.5l.07 1.3l.15-2.2l.23 2.3l.22 2.5l.08-1.7l.07 3.6l.22-5.7l.23 6.3l.3-6.3l.07 5.6l.08-3.7l.07 4.4l.3 1.8l.15-6.7l.22 2l.08 2l.3-5.1l.07 6.1l.23-2.6l.15-2.4l.22 .3l.08 2.7l.29 2.1l.08-4.4l.07 3.2l.23-4.1l.15 1.7l.07 3.7l.23-6.6l.22 4l.22 1.3l.08-3.6l.3 4.8l.07-5.7l.15 4.7l.08-3.4l.22 2.8l.23-4.1l.15 .3l.22 4.2l.15-4.6l.15 4.6l.07-3.3l.3 1.2l.08 3.3l.22-2.2l.15 2.2l.22-6l.15 1.8l.08 5.4l.15-6.7l.3 4.7l.07-2.2l.23-1.8l.22-1.5l.15 5.7l.15-1.5l.15-2.3l.07 1.3l.15-.9l.23 4.3l.22-2.5l.15 1.5l.08-2.6l.22 3.3l.22-5l.23 4.2l.07-2.3l.08-1.1l.3 4.1l.07 .1l.15-2.4l.15-2.3l.08 4.2l.37 .6l.07-3.5l.23 2.2l.15-2.5l.22-1l.15 3.3l.15-3.1l.15 4.5l.15-2.3l.07-3.1l.3 1.5l.15 3.6l.08 .8l.3-3.9l.07-1.1l.15 2.9l.22-1.9l.23 2.6l.07-2.2l.08 4.1l.22-1.5l.15-4l.23 2.3l.07-5.2l.23 1.5l.29 4.8l.08 .7l.22-2.9l.23-1.5l.07 4.5l.15 1.9l.23-5.4l.14 1l.15 2.9l.3-3.2l.08 2.6l.07-1.7l.15 1.7l.23 2.2l.22-6.9l.15 6.9l.07-5.7l.38 5.3l.07-6l.15 7.2l.08-6.2l.15 4.3l.15-4.6l.22 3.4l.08-1.5l.37-1.5l.07 3.3l.23 0l.15-1.1l.07 2l.15-5l.23 5.4l.15-4.5l.14 2.3l.08-2.5l.37 3.9l.15-3.1l.15 .3l.15 2.2l.08-3l.3 3.6l.07 .3l.07-4.2l.23 .2l.07 5l.45-.5l.08-4.7l.07-1.7l.08 6.5l.37 .2l.15-8.1l.07 2.8l.08 5.2l.37-.5l.15-3.5l.08 .4l.15 4.2l.22 .2l.15-3.5l.15 2.3l.3-5.8l.07 5.3l.23-2.7l.15 3l.15-4.5l.15 .1l.15 2.5l.14 2l.08-4l.37-.9l.15 4.1l.08-4.5l.15 5.4l.22 3.4l.15-7.3l.15-2.1l.07 7l.38-6.1l.07 6.2l.15 2.1l.15-7.1l.23 .3l.15 3.8l.22-1l.07-3.4l.23 5.8l.07-6l.23 4.7l.22-5.5l.08 5.3l.22-5.1l.08-.4l.15 8.7l.22-7.2l.07 3l.23 .6l.15-4.2l.22 8.1l.15-7.2l.38 4.5l.07-7.2l.07 2.2l.23 1.7l.07 2.8l.3-4.2l.08 .5l.22 2.5l.08 .5l.3-4.2l.22 5l.07-5.1l.08-1.4l.22 7l.23-.6l.15-5.4l.07 3.2l.08 2.3l.37-6.2l.15 6.3l.15-4.4l.07 3.8l.23-1l.15-2.8l.15 4l.07-3.8l.45 5.6l.07-6.7l.15-1.2l.15 5.2l.08-2.8l.22 3l.15-.9l.15 3.3l.15-.9l.15-6l.3 .3l.07 6.6l.23-5.2l.07 3l.23-3.3l.22 4l.15-5.3l.15 5.8l.3-6.1l.07 7.2l.15-2.9l.08-2.6l.15 2.6l.22-3.3l.23 1.6l.15-2.8l.22 5.7l.07-4.7l.15 2.9l.15-2.7l.38 3.8l.07-2.6l.08-.8l.22 2l.08 3.4l.07-4.2l.45-2.3l.07 7.7l.23-7.4l.07 5.7l.15-1.5l.08-4.4l.3 1.5l.07 3.1l.37-.9l.08-3.4l.07 3.1l.23-1.9l.15-.4l.22 2.7l.15-1.1l.15 2.6l.22-.9l.08-1.3l.15-2.2l.07 4.4l.38 1.5l.15-7.5l.15 7l.15-2.5l.07 .8l.22-3.4l.23 4l.07-2.4l.15-.6l.08 3.8l.22-6.5l.23 5.3l.15-2.6l.07 3l.22-2l.3 2.4l.15-.3l.08-3.4l.22-2.8l.23 6.6l.15-5.8l.14 4l.23 .1l.07-4.4l.3 4.2l.08-2.7l.07 3.7l.3-4.2l.23 5.2l.07-4.7l.07 .3l.08 2.3l.3 2.5l.22-7.1l.23 1.8l.07 3l.08-1.8l.22 3.8l.22 0l.15-5.5l.23 2.8l.07-2.9l.23 2.8l.07-2.3l.23 4.5l.07-6.2l.23 6.4l.14-4.1l.38-.5l.07 3.1l.23 1.8l.07-2.3l.15 1.9l.08-5.1l.3 .9l.07 4.8l.22-4.1l.15 3.2l.15-5.3l.23 3.2l.07 2.9l.08-6l.3 .3l.07 4.4l.22-2.9l.08 3l.3-1.1l.15-.9l.3-2.4l.07 4.1l.08-3.9l.29 5.2l.15-2.9l.08 4l.22-2.7l.15-4.9l.15 6.8l.15-5.6l.15 4.6l.08-2l.37-2.5l.07 6.5l.23-4.6l.07 4.2l.38-1.4l.07-2.6l.15 3.2l.15-7l.08 6.6l.22-1.9l.22 1.8l.08-2.7l.15 2.3l.22-2.7l.3-3.2l.08 7.2l.07 .1l.3-3.3l.15-2l.07 3.2l.3-3.4l.08 6.1l.22-.3l.15-5.1l.23 3l.07-4.2l.3 1.9l.07 2.5l.15 4.1l.15-4l.15 2.6l.15-8.8l.15 1.5l.15 5.2l.22-.7l.15-2.9l.15 5.2l.23-5.9l.15-.1l.22 5.7l.08-6.1l.15 2.2l.37 3.1l.07-3.4l.23 1l.07 2.6l.15-.6l.15-3.4l.15-.3l.08 3.8l.37-2.2l.07 3.4l.23-1.5l.15-2.5l.07 1.1l.08 1.9l.22-.8l.08-2.5l.37-1.7l.15 3.8l.07-4.3l.08 7.3l.37-7.4l.15 5.1l.3 .5l.08-4l.15 5.9l.07-4.7l.3 .2l.07 2.9l.15-3.5l.08 5.2l.45-6.6l.07 3.4l.23 1.7l.07-3.7l.08 3.2l.14-4.9l.15 2.8l.3 3.2l.15-6.4l.08 5.7l.3 1.4l.15-8.5l.15 3.1l.14 4.4l.23-5.9l.07 5.7l.23-5.8l.15 3.5l.07 .9l.08-5.7l.3 1.8l.15 5.2l.14-4.3l.3 2.6l.08-2.3l.07 2.7l.3-3l.23 3.6l.07-3l.15 3.9l.15 .4l.07-5.5l.3 6.3l.08-6l.22-.2l.23 4.7l.15-.6l.15-4.8l.15-.9l.22 6.1l.15-3.2l.22 3.9l.08 .9l.15-5.4l.22 2.8l.15 1.4l.22-2.3l.15 3.3l.08-1.8l.3-4.3l.07-.1l.08 4.9l.22-.1l.15-4.9l.23 6.5l.14-4.1l.15-3.1l.23 5.3l.3-3.4l.07 2.3l.15-.5l.08 1.2l.15 3.7l.22-6.8l.15 4.8l.15-6.1l.3-.3l.07 5.2l.15 1.7l.08-4.3l.3 2l.22-3.6l.15 1.7l.15-2.5l.22 5.1l.15-3.6l.15 .5l.08 4l.22-5l.08 5.7l.22-1.2l.07-6.5l.23 8.1l.22-4.9l.3-2.6l.08 8.6l.07-6.4l.23 5.5l.15-3.6l.07-4l.22 2.2l.08 3.8l.3-3.9l.15 5.9l.22-.5l.15-7.5l.08 6.3l.22-5.8l.15 5.3l.22-2.8l.15 1.9l.15-3.8l.15 5.6l.08-6.7l.3 7.2l.07-4" stroke="#00ff00"/>
<path d="M73.07 209.2l.15 1.6l.23-.8l.07-2.4l.23 2.1l.15 1.7l.07-3.4l.15 3.2l.3-2.8l.07 3.1l.15-1.9l.15-1.5l.38-1.2l.07 4.3l.08 .7l.07-4l.45 .4l.07 4.3l.08-5.7l.22 2.3l.08 0l.22 1.7l.23-5.3l.15 6.7l.22-3.2l.08 2.9l.14-5.7l.08 6.7l.22-5.1l.15 3l.23 .8l.07-2.6l.23-3.1l.07 6.6l.23-6.6l.07 5.5l.3 .2l.15-2l.3-2.1l.15 4.4l.07-2.6l.23-2.3l.22 3l.07-2l.23 1.7l.15-5.8l.07 4.4l.08 4.2l.3-.9l.22-4.7l.15 2.7l.08-3.4l.22 1.8l.22 4.6l.15-2.2l.15-3.4l.08 .4l.07 5l.45-7l.08 4.9l.22-4.5l.07 4.9l.23-3.8l.07 2.4l.3-1.9l.08 3.2l.22-4.5l.15 2.5l.07-1.6l.3 5l.15-3.8l.15 3.3l.15-4.7l.15 3.4l.15 1.3l.08-3.4l.29 1.8l.08-2.3l.22 1.6l.08-2l.22-1.5l.23 4.6l.07-.4l.23-2.5l.22-1.5l.15 3.3l.3-.3l.07-3.3l.08 2.6l.07 2l.38-.4l.07-3.9l.15 .7l.15 5.4l.3-2.3l.15-4.7l.15 5.4l.15-3.8l.22-.7l.08 5.5l.15-4.5l.15 3.7l.22-5l.07 2.8l.15-.8l.08-3.5l.45 1.7l.07 3.8l.08 .3l.3-5.1l.22 1.7l.07 2.9l.23 2l.07-6l.23 2.1l.15 1.8l.15-1.1l.22-2.9l.08-1.9l.07 5.1l.22-4.3l.15 4.4l.3-3.9l.15 1.6l.23 2.8l.07-4.5l.08 4.3l.29-5.3l.23 5.7l.07-4.8l.23 4l.15-4.7l.22 4.2l.08-4.2l.07-1.1l.23 5l.14 .9l.08-4.1l.22 .8l.08 3l.45-6.4l.07 4.9l.15 .9l.08-3.3l.22 1.4l.15-2.9l.15 3.8l.07-1.7l.38-2.7l.07 4.3l.15-3.2l.08 4.1l.22-1.5l.15-1.9l.37 1l.08 1.8l.07-5.6l.23 7.4l.15-1.7l.07-4.6l.38 3.7l.14-4.3l.15 1.4l.08 3.1l.15-3.4l.15 3.1l.22-.4l.15-3l.38-.5l.07 4.6l.22-.1l.08-2.6l.3-1.5l.07 3.8l.15-4.7l.08 5.3l.15-4.5l.07 5.7l.23-3.9l.07-2.2l.37 5.1l.08-5.3l.15 3.2l.07-1.6l.45 .5l.08-2.8l.22 4.3l.15-3.3l.15 3.1l.15-4.3l.07 3.3l.15-2.6l.23 3.3l.22-3.6l.3-1.2l.07 7.2l.15-2.1l.15-3.8l.3-.7l.08 3.1l.15-2.1l.15 2.4l.07-4.6l.08 5.2l.44-4l.08 4.4l.07-.9l.08-5.5l.37 5.1l.08-2.2l.15 3.9l.22-3.7l.22 3.4l.08-3.7l.22 1.5l.08-2.2l.22-1.5l.15 3.8l.15-3.9l.08 3.9l.44-4.1l.08 3.9l.15-4.4l.07 6.2l.15-2.1l.23 2.5l.22-1.8l.15-5.2l.22 5.4l.08-3.6l.07 4.6l.3-2.7l.08-.8l.15 4.2l.22-6.1l.15 4.8l.15 1.9l.22-4.7l.3-3.5l.08 5l.22-1.4l.08-.5l.22 3.8l.08-3.8l.22-.4l.08 2.9l.22-5.4l.22 6.6l.08-2.6l.07 3.9l.23-1.6l.15-4.5l.3 1l.15 4l.07-.8l.22-2.3l.3 .3l.08 3.1l.15 1.1l.07-2.3l.3-1.5l.08 1.8l.15 .5l.22-2.2l.3-1.2l.07 3.9l.08 4l.15-4.3l.15-2.5l.3 6.1l.22-2.1l.07-2.6l.15 4.6l.15-3.8l.23 6.1l.07-5.5l.15 .2l.23 2.3l.07-1.4l.15 4l.22-3.7l.23 2l.07 .8l.23-2.8l.3 .6l.07 1.7l.08-1.3l.22 5.9l.22-.5l.15-2.3l.3 .5l.08-.7l.15 1.3l.07 3.1l.3-3.8l.15 7.1l.22 1.4l.08-4.7l.22-.2l.15 3.9l.08-.6l.15 1.4l.22-2.8l.08 5.3l.37-2l.07 1.7l.08 0l.07 2.4l.23-.1l.3-2.6l.07 2.9l.15 5.3l.15-5.1l.08 2.3l.44-.6l.08 6.1l.07-4.8l.15 4.7l.3-1.6l.08-3.6l.15 4.1l.15 3.3l.29-3l.15 4l.23-2.3l.15 2.8l.15-2.7l.15 6l.07-1.6l.08-.9l.44 3.3l.08-.9l.07-.9l.08 5.9l.37-2.1l.15 4.1l.15 .2l.08-2.7l.29 2.5l.08-2.9l.15 1l.07 2.9l.23 4.9l.07-2.8l.3-1.5l.23 4.3l.15 2.4l.07-4.8l.3 3.2l.07 5.7l.3-1.3l.15-2.7l.08 2.5l.22 2.8l.08-.3l.22-3.3l.07 1.2l.23 3.7l.15 .8l.22-5.1l.23 3.2l.15 2.5l.22-1l.08 3.1l.14-2.7l.15 3l.3-4.5l.08 5.1l.22-1.7l.15 3.5l.08-3.3l.22 4.4l.15-1.1l.07-5.7l.38 5.2l.07-5.4l.08 3.8l.22-4.1l.08 3.7l.3-4.5l.22-.7l.07 2.5l.23-4.9l.07 6.5l.15-2l.23-3.8l.07 3.6l.23-3.3l.15 .7l.15-6.3l.14 7.9l.3-7.7l.08 6.3l.07-8.3l.38 1.5l.15 3.1l.07-1.5l.23-2.2l.07 4.5l.3-6.2l.07 1.2l.15 2.2l.15 0l.23-6.6l.07 4.4l.08-3.3l.37 .7l.15 4.4l.07-.6l.23-4.4l.15 2.2l.15-2.5l.15-3l.15 4.2l.22-3.4l.22 3.4l.15-5.1l.08 5.3l.37-1.4l.08-4.7l.15 3.9l.15-4.4l.3 3.6l.07-4.1l.07 .5l.23 2.6l.22 .8l.15-4.3l.15 4.7l.08-5.7l.22 3.2l.15-2.5l.15-3.6l.07 5.7l.45-5.3l.08 5.3l.15-2l.07-2.1l.3-.7l.08 3.2l.22-.8l.07-4.4l.38 4.6l.07-4.3l.08 4.8l.15-5.5l.3-.2l.07 7.7l.15-2.7l.07-5.8l.3-.1l.15 2.2l.15-1.6l.08 4.1l.22-2.3l.08-2.4l.22-.9l.22 3.6l.23-1l.07 2l.38-4.3l.07 2.7l.08-2.9l.22 1.9l.08 1.1l.29-5.6l.08 5.5l.07-4.6l.23 4.6l.22-5.5l.15 1.5l.08 1.3l.37-.9l.15-3.2l.22 1.3l.08 4.7l.15-6.3l.15 5.3l.15-4l.15 1.7l.15-3.8l.22 5.3l.15-1.4l.15 2.4l.22-2.4l.08-1.6l.22 2.6l.08-3.5l.22 .7l.23 3l.22-5.2l.07 5.7l.23-2.3l.15 2.8l.07-6.1l.15 4.7l.3-.3l.15-2.6l.23-1.3l.07 1.5l.3 2.1l.07-2.7l.15-.4l.15 3.5l.08-4l.07 5.3l.3-1.9l.15-5l.15 5.1l.07-3.8l.3 4.5l.15-2.4l.3-2.2l.15 2.8l.15-2.3l.08 2.5l.15 1.2l.14-2.8l.38 2.9l.07-6.3l.15 2.1l.23 4.3l.15-1.7l.07-3.7l.23 3l.14 3.3l.23-5.2l.07 2.9l.15-1.9l.08 4.9l.45-5.7l.07 4.3l.15-4l.15 6.4l.07-4.9l.23 2l.15-3.9l.07 4l.23-.8l.07-2.8l.45 .2l.08 4.6l.14-4.9l.08 4.5l.3-.2l.15-1.8l.15-1.6l.15 1.1l.15-.6l.22 2.5l.15-2.8l.15 2.7l.22-2.7l.15 4.8l.23-4.5l.07 3.3l.23-4.9l.15 5.5l.07-2.6l.15 2.6l.22 0l.15-1.8l.23 4.3l.07-3.2l.3-2.9l.15 3.2l.08-3.2l.14 4.7l.15-3.3l.08 3.2l.37 .7l.08-6.1l.15 4.5l.07-2.9l.3 6.5l.08-4.5l.22-1.5l.07 3.8l.3-4.9l.15 4.3l.3 3.1l.08-3.6l.07-3.2l.23 5.1l.14 1.3l.15-5.7l.15-.4l.23 4.1l.15-3.6l.22 4.8l.3-5l.08 3l.07 4.2l.22-5l.08-.8l.15 3l.3 0l.07 3.1l.23-2.5l.15 2.7l.22-.7l.15-3.5l.15 2.4l.22-1.8l.08 2.7l.15-2.9l.15 4.8l.07-4.7l.3 5.8l.22-4.1l.15-.8l.15 5.7l.23-4.4l.15 5l.07-2.9l.08-3.4l.22 5.6l.23-3.4l.29-2.4l.08 4.8l.07-3l.15 5.1l.23-7l.22 6.1l.15-2.2l.23 3.4l.14-4.8l.08 5.5l.15-.9l.15-1.8l.37 4.6l.08-4.3l.15 .6l.15 3.4l.07-3.6l.3 1.9l.07-1.7l.08 3.9l.3-3.4l.07 2.8l.23-3.2l.22 6.6l.08-4.2l.15-3l.22 6.3l.15-3.5l.15 2.9l.22-5.6l.15 6.9l.08-4.6l.3 .9l.22 4.4l.07-.3l.08-4.3l.22 4.3l.23-3.1l.3 5.6l.07-4.4l.08 3.7l.07-2.9l.3 5.3l.15-5.4l.3 .6l.07 4.2l.3-4.3l.08 4.5l.07-4l.15 3.3l.23 1.9l.14-4.2l.23 1.4l.07 1.2l.23 2.8l.15-3.1l.15-3.1l.15 4l.15 .5l.07-.8l.45 3.3l.07-4.2l.08 3.3l.15 3l.3 1.1l.15-4.6l.07-1.9l.15 5.4l.15-4.2l.07 4.4l.38 3.9l.07-5.3l.15 4.3l.15-4.5l.23-.6l.15 3.3l.14 2.2l.3-4.7l.15 .7l.08 6l.15-7.5l.3 5.9l.15-3.5l.07 3.2l.3-4.3l.15 5.7l.15-5.2l.15 6.4l.07-1.4l.23-4l.15 2.9l.22-2.5l.22 0l.08 3.3l.07 2.8l.3-3.9l.08 .5l.07 4.3l.3-1.7l.23-3.9l.15 2.9l.14-3.3l.15 3.6l.08-2.4l.37 .1l.08 3.3l.15-.3l.07-3.8l.38 1.5l.07 2.7l.22-2.4l.15 1.2l.08-2.7l.15 3.8l.22-.1l.08-3.6l.15 4.8l.15-3.8l.29 4l.15-5.1l.08 .4l.22 3.3l.15 1.1l.23-4.3l.07 5.2l.23-4.9l.22-2.2l.15 5.3l.3-.6l.07-6.7l.08 6.5l.22-3.4l.08-2.7l.22 4.3l.15 1.3l.22-2.9l.08 3.1l.15-4.1l.37 2.8l.08-4.4l.22 2.2l.08-1.1l.07 1.8l.3-5.1l.15 1.3l.07 5.8l.23-.5l.22-4.3l.15 4.3l.15-4.1l.23 2.5l.15-5.1l.22 5.7l.07-3l.15 2.4l.08-2l.3-2.1l.15 2.3l.22-3.7l.15 4.3l.08 0l.14-3.6l.23 2.2l.07-3.1l.15 3.8l.08-2.3l.3-.8l.22 3.1l.08-4.1l.15 3.2l.22 1.9l.07-2.2l.38-2l.07 3.8l.23-.7l.07-3.6l.3-1.7l.15 5.7l.07-5.6l.08 2.7l.37-.5l.08-4.1l.15 5.9l.15-3.6l.22 4.2l.15-6.1l.15 .2l.15 5.3l.22-4l.15 1.9l.08 .7l.3-6.5l.07 .9l.23 5.1l.14-2l.15-1.6l.23 3l.15-4.4l.07 2l.23 2.6l.15-5.3l.15 3.8l.22-2.9l.15 4.8l.15-1.9l.07-4.1l.23 5.9l.3-4.9l.07-1.6l.08 3.2l.37 2.6l.07-6.3l.23 1.4l.07 1.3l.23-.4l.07 3.4l.23-3l.07-2.9l.23 2.8l.22 4.6l.07-5.6l.15 2.1l.38 2l.07-4.1l.08 4.1l.15-4.9l.37 .1l.08 3.5l.22-1.6l.15-3l.15-.6l.07 3.3l.15 1.5l.3-5l.08 3.5l.07-1.9l.37-1.6l.08 5.2l.15-2.6l.07-3.5l.38 1.8l.07 3.4l.15-3.5l.15 1.4l.15-2.3l.22 4.8l.08-.7l.15-4.3l.3 4.7l.15-5l.07-2.2l.15 5.8l.3 1.2l.08-4.1l.22-.4l.07 4.3l.23-3.1l.22 2.8l.15 .4l.08-3.8l.22-3.9l.08 6.7l.37-2.8l.07 1.7l.15-4.7l.08 5l.22 1.2l.23-7.5l.15 1.7l.22 5l.08-1.1l.07-2.5l.45 2.2l.07-5.7l.23 2.7l.07 2l.15-2.7l.08 2.9l.22-.6l.15 1.7l.3 3.3l.15-6l.22 4l.08-5.6l.07 4.7l.23-3.6l.15 .6l.15 2.5l.14-1l.23 2.3l.15-2.5l.15 3.1l.22-5.3l.15 3.7l.23-3.6l.15 4l.14 .5l.08-2.2l.22-2.5l.23 3.9l.07-1.2l.23 3.1l.15-2.4l.07-1.8l.23 4.2l.22-2.2l.22-4.2l.15 4.6l.15 .9l.08-2.3l.22-1.3l.08 3.7l.22-1.9l.15 3.5l.15-3.7l.15 3.8l.15-2.5l.3 1.2l.07-2.3l.23 5.7l.07-5.5l.15 3.3l.22-5.2l.15 6.6l.38-.9l.07-4.7l.23 4.2l.07-2.5l.08 2.5l.29-3.3l.15 1.5l.15 3.5l.3 1.9l.08-5.8l.22 1.3l.08 1.5l.15-3.4l.07 5.3l.3-3.6l.07 3.2l.3 .4l.08-3.9l.07-1.5l.08 5.1l.3-3.7l.22 5l.22-5.2l.15 4l.08 1.7l.22-4l.08 5.5l.07-6l.38 6.2l.07-4l.15-.7l.3 4.6l.15-1l.07-4.9l.23 .2l.22 5l.08-2.8l.07 4.1l.23-.5l.29-2.6l.15-1.8l.15 4.5l.15-.7l.08-4.2l.3 5.4l.07-3.2l.15 2.9l.08-3.7l.44 6.7l.08-7l.22 1.8l.08 3.5l.3-1.7l.07-3.3l.23 4.6l.07-3.3l.08-.9l.14 6l.38-5.2l.07 4.1l.08 .2l.15-4l.3 2.7l.15-2.7l.15 1.8l.07 2.2l.22 0l.15-1.1l.15-1.4l.08 2.9l.22-3.6l.08 5.9l.37-4l.08-2l.22 1.6l.07 2.3l.23 4.2l.07-5.7l.23 .5l.3 2.4l.07 1.5l.15-5.2l.15 4.5l.3-3.3l.07 3.9l.23-1.7l.22-2.8l.08 4.9l.15-5l.07 2.1l.3-1.7l.07 5.6l.15-2.9l.15-3.2l.23 1.1l.07 4.6l.23-2.9l.07-1.6l.38 1.2l.07 3.7l.3-.3l.15-2.6l.07-2.4l.08 5.2l.45 .9l.07-5.2l.08 .9l.15 4.8l.14-5.9l.15 6.4l.23-4.2l.22 2.2l.15 1.5l.15-3l.23 3.6l.15-5.2l.22 .6l.07 3.8l.23-2.1l.15 4.3l.15-4l.15 3.5l.22-.3l.08-2.9l.22 2l.07-4.5l.3 4.5l.08-2.9l.22 4.4l.08-4.2l.15 .7l.15 2.3l.22-1.7l.15 4.1l.22 .9l.23-8.5l.07 3.2l.08 5l.37-1.3l.08-2.7l.15-1.2l.14 2.7l.23-1.9l.07-1.7l.3 1.2l.15 4.1l.08-5l.15 3.8l.15-5.2l.07 4.4l.37 2.3l.08-5.5l.15 3.8l.22-3.6l.23 1.6l.15 1.1l.15-1.8l.07 1.1l.3-1.8l.07 5.4l.23-2l.07-3.8l.3 3.4l.08-1l.22 3.2l.23-4.8l.07 1.3l.15 2l.22 1.2l.15-4.9l.23-1.5l.07 2.4l.23-2.8l.15 4.6l.07 2.7l.3-4.4l.15 2.7l.15-6.3l.07 3l.23 4.4l.22 .5l.15-6.4l.08 5.6l.22-5.6l.15 2.8l.07-1.8l.38 5l.15-4.1l.15 1.3l.15-2.1l.07-2l.08 3.8l.29-4.3l.15 6l.23-1.9l.15-3.2l.15 4.1l.15-5.5l.15 6l.22-5.6l.22-.2l.15 4.7l.23 .3l.07-2.2l.23 1.3l.15-2.4l.15-1.8l.07 4.5l.15 .5l.08-4.2l.29 3.5l.08-6.3l.37 2.3l.15 5.1l.08-8.1l.22 5.8l.15 2.7l.08-4.7l.14-.7l.15 2.5l.23 .5l.15-4.3l.22 4.3l.08-2.3l.37-1.3l.08 2.8l.29-3l.08 6.2l.07-4.9l.23 1.2l.07 1.2l.23-3.3l.22 6l.08-4.2l.22-4.2l.15 5.2l.15-.2l.15-3.4l.3 5.6l.15-7.4l.15 2.5l.07 2.4l.15 1l.15-3.8l.22 2.9l.15-3.2l.15 1.4l.23 2.9l.15-.5l.07-3.8l.3 1.3l.07-2.4l.15 1.1l.23 3.3l.15-1.1l.15-3.8l.22 .3l.08 4.5l.22-.7l.08-2.3l.22 1.4l.22-3.2l.15 6.1l.08-6.1l.37 2.7l.08-3.8l.3 .8l.07 2.7l.07 .5l.08-2.8l.37 .7l.08 4.3l.15-2.1l.15-3.2l.15 6.3l.3-6.5l.07-.8l.07 5.1l.38 1.8l.15-7.4l.07 7.1l.08-3.2l.22-.7l.08 4.5l.3-5.4l.14 2.5l.38-.1l.07-1.5l.15 .1l.15 1.5l.15-4.8l.23 6.4l.15-2.8l.07-1.9l.3-.9l.07 3.6l.08 .3l.3-3.8l.07-.3l.08 4.6l.3-3.4l.15 3.9l.14-6.3l.15 5.3l.15-3.1l.15 4.8l.3-3.8l.08 3.3l.15 .2l.15-4.2l.29 1.8l.15-3.3l.08 .6l.22 4.8l.23-.1l.07-5.2l.23 2l.07 3.2l.15-4.1l.08 5.3l.44-.8l.08-3.8l.22-.1l.08 3.5l.15-2.1l.07 1.6l.45-3.6l.07 4.7l.15-5.3l.08 3.8l.22-3.2l.23 5.2l.07-3.7l.15 1.6l.15 1.9l.08-5l.29 4.6l.08-2.9l.22 2.5l.15-3l.3 1.6l.08-1.7l.15 .7l.07 2.7l.23-4.2l.29 6.6l.08-1.5l.22-1.9l.23-1.5l.15 2.8l.22-2.6l.08 3.4l.07-4l.15 4.4l.22-4.9l.23 2.6l.07 2.5l.23-6.6l.15 .9l.15 4.9l.15-3.2l.22 3.8l.3-3.1l.07 3.3l.15-4.3l.23 5.7l.22-3.4l.08-1.7l.15 2.4l.14-1.6l.08 1.3l.22 2.4l.23 .2l.15-6.1l.15 6l.15-5.7l.22 2l.08 4.6l.22-.1l.22-2.6l.23-1.7l.07 3.7l.23-4.3l.15 2.1l.15-1.2l.07 5.4l.22-8.3l.08 7.1l.22-1.8l.08 1.5l.45-.6l.07-3.7l.08 1.3l.15 2.3l.29 1.6l.08-4.2l.07-2.7l.15 6.3l.23-.8l.22-3.4l.15 3.8l.15-3.5l.15 4.8l.15-1.4l.15-3l.22 5.2l.15-6.8l.23 5.5l.22 1.2l.08-3.9l.15 0l.15 3.5l.22-3l.07 2.3l.23-1.9l.15 3.7l.15-.5l.22-3.5l.3 1l.08 3.3l.14-1.3l.15 2.3l.08-.7l.15-6l.3 6.9l.15-5.8l.15-.2l.15 4.8l.15-.9l.07-2.9l.3 .6l.15 3.8l.3-5.3l.07 5.8l.08-2.8l.15-3.3l.22 5.7l.08-3.7l.29 .1l.23 3.4l.07-3.1l.23-3l.15 1.1l.07 2.8l.23 3.3l.07-3.2l.22-1.8l.08 3l.37 1.3l.08-4.1l.22-.5l.08 3.4l.15-3.4l.07 3.2l.45 0l.07-4.4l.15 7.2l.23-4.7l.22 2.8l.08-3.4l.07-.5l.08 5.7l.37-4.6l.15 2.1l.15-4.2l.22 7l.08-5.6l.07 3.1l.23 1.5l.15-3.1l.22 .4l.08 3.2l.29 0l.15-2.6l.15-.7l.15 3l.15 .8l.23-2.9l.3 2.5l.07-1l.07 .4l.23-5.7l.07 1.6l.15 2.4l.23 1.7l.22-3.2l.08 2.7l.22-2.2l.15-1.6l.22 6.5l.15-1l.08-5.9l.22 5l.08-4.5l.22 4.2l.15-4.7l.37 4.7l.08-4.8l.07 2.6l.08-1.4l.22 .4l.08 3l.3 .4l.15-4.5l.15 3.6l.14-2.8l.3 2.2l.08-1.5l.15 4l.22-6.4l.15 .9l.15 3.7l.15-2l.08 2.1l.29-3.9l.15 4.4l.15 1.3l.08-6.9l.37-.1l.15 5.9l.08 0l.15-3.7l.14-2.3l.3 6.7l.08-5.3l.22 2.7l.23 2.8l.15-4.7l.22 4.4l.08-7.1l.14 7.2l.23-4.3l.15 5.3l.15-3.1l.3-.5l.07 1.7l.08-.3l.15-3.8l.22 .8l.15 4.2l.22-4.2l.15 5l.15-5.5l.08 4.6l.22-1.8l.15 2l.23-4.2l.07 2l.3 2.2l.07-5.1l.15 3.1l.23-1.2l.07 5.2l.23-4.4l.15-.6l.22-1l.15 2.6l.15-3.4l.15-.4l.22 .8l.23 1.8l.15-3l.07 3.7l.15-2.5l.3 3.7l.07-3.1l.15-2l.08 5.4l.3-.5l.15-4.2l.15 .2l.07 4.2l.23-6.9l.22 4.4l.07 .7l.15-2.9l.23 .2l.22 3.1l.08 2.3l.07-6.7l.3 2.5l.15 1.7l.22-2.2l.08 3.6l.22-3l.23 3.2l.22-5l.15 5.4l.08-4.2l.22 3.1l.15-3.6l.07 3.4l.38-.9l.07-1.2l.23 1.8l.07-3.4l.23 1.3l.15 2.9l.07-1.7l.22-2.7l.08-1l.07 3.5l.3-1.1l.08 4.2l.22-5.4l.08 3l.37-2.7l.07 2.5l.23-3.1l.22 5l.08-1.1l.07-5.4l.23-1.5l.07 7l.3-.7l.08-1.8l.22-2.2l.22 3.4l.15-2.6l.23 2.8l.22 1.2l.08-4.3l.07 3.6l.3-4.7l.07 4.6l.15-3.2l.15 3.3l.08-2.9l.45-1.4l.07 3.7l.08 1.3l.07-6.1l.37 2.9l.15 2l.15-3.2l.15 5.8l.23-.8l.07-4.5l.15 3.7l.23-3.9l.29 .4l.08 3.1l.15-.5l.15-.9l.22-4.6l.15 6.1l.15 .3l.08-5.1l.15 3.6l.14-3.1l.38 1.4l.07 1.8l.08-3.2l.22 2.3l.23 3l.15-2.7l.07 1.2l.22-4.5l.15 4.3l.08-2.7l.37 5.4l.08-5.6l.3 .1l.07 .9l.08 .6l.15 3.3l.22-2.2l.15-2.8l.15-1.8l.15 6.3l.22-4.3l.23 2.1l.15 1.5l.07-3.2l.3-1.1l.15 2.9l.07-1.8l.15 4l.23-4.2l.22 3.6l.08-3.9l.22 4.6l.22-4.6l.08 3.3l.15 .5l.15-5.8l.22 2.5l.15 3.2l.15-3.1l.08 3.7l.22 0l.3-5.6l.22 4.6l.08-5.2l.07 1.2l.23 5.5l.07-5.9l.23 4.4l.22-2.3l.15 2.5l.15-3.3l.15 5.1l.22-5.1l.15 2.7l.15-1.3l.23 3.6l.07-5.6l.15 4.4l.22 .4l.08-3.1l.37 4.7l.08-4.4l.15-.6l.07 6l.23-4.1l.22-1.1l.08 2.4l.14-3.9l.23 6.3l.22-4.4l.08 2.9l.15-3.1l.15 3.1l.15-4.5l.3 6.4l.14-5l.23 2.9l.15-5.7l.07 4.9l.23-2.9l.07 4.1l.3-5.3l.08 2.1l.22-1.5l.07-.3l.15 3.1l.38-.1l.07 2.5l.08-5l.07 5.6l.45-5.6l.07 5l.15-5.8l.23 4.6l.07 1.5l.23-3.7l.22-3.6l.08 8l.15-4.9l.07 1.7l.22 .6l.08-2.1l.22 2.9l.23-2.6l.22 1.8l.08-3.3l.15 4.7l.15-4.3l.22 3.4l.15-2.7l.3-.3l.07 1.4l.23 2.1l.15-2.9l.15-1.6l.15 5.5l.15-4.4l.14 4.4l.15-6.5l.23 6.6l.15-3.8l.22 5.1l.15-1.9l.15-5.8l.23 2.2l.14 5.8l.08-2.2l.07-2.8l.23 1.8l.22 1.4l.23-1.7l.15-3.4l.07 4.6l.15-3.1l.22-.3l.15 4.4l.23-4.2l.07 4.4l.3-4l.08 7.8l.22-8.7l.23 3.8l.22-3.3l.07 3.6l.3-4.1l.08 3.1l.07 .9l.23-4.8l.07 1.6l.23 4.4l.29 .6l.08-6.5l.07 5.5l.15-4.5l.23-2.7l.07 5.9l.3-1.2l.08 2.3l.37-.5l.07-2.8l.08 4.3l.15-5.1l.3 1.7l.07 4.3l.3-2.2l.08-2.8l.3 2.4l.07-4l.15 .4l.15 4.7l.07-3.6l.15 4.2l.3-2.3l.15-4.8l.08 2.8l.07 3.4l.3-.1l.15-4.4l.3 4.6l.07-.5l.15-2.3l.23 3.2l.07-5.2l.23 5.5l.07-3.4l.3 5.3l.22-3.6l.08-2.2l.3-.7l.07 5.2l.08-5.9l.22 4l.08-3.1l.15 4.3l.29-1.4l.15-2.8l.08 1.7l.07 4.5l.45-1.3l.08-5.9l.07 3l.08-3.3l.22 2.2l.3 5.2l.07-3l.23-3l.22 .1l.15 5.3l.15-.1l.15-6.7l.15 3.7l.22-3.9l.08 4.1l.22-2.8l.08 4.5l.3-4.9l.22 1.2l.08 3.4l.22-3.2l.15 3.2l.07-.4l.15-3.8l.15-.4l.23 5.8l.15-6.7l.22 5.3l.08 1.1l.14-4.5l.15 3l.3-3.4l.23 2.6l.07 2l.23-4.5l.15 2.8l.07 1l.08-2.9l.37-2l.15 3.6l.07 2.2l.23-4.6l.22 3.8l.08-3l.15-.3l.22 4.9l.07-4l.23 3.3l.15-.2l.07-3.5l.23 3.7l.07-4.2l.3-.1l.23 5.7l.14-4.8l.15 2.8l.23-1.9l.15 4.1l.07-5l.23 3.1l.22-.4l.15-3.4l.22 .1l.08 4.8l.07-8.4l.23 6.6l.3 .9l.07-4.1l.08-.9l.15 3.7l.22-3.5l.15 2.8l.37 .7l.08-5l.07 4.5l.15 1.7l.3 2.3l.08-7.5l.07 1.1l.15 3.5l.37 2.8l.08-4.2l.07 1.6l.3-2.8l.08-2.1l.07 3.8l.23-2l.22 5.7l.22-1.3l.08-5.1l.37-2l.08 6.6l.22-6l.08 6.1l.07-4.1l.08 5l.3-4.4l.22 5.7l.15-3.7l.07-2.3l.23-1.2l.22 5.3l.15-2.1l.15 2.2l.3-4.7l.07 2.8l.15-.8l.08-1.5l.15 2l.22-3l.15 1.5l.15 2.8l.23 .3l.22-3.5l.07 2.6l.23-2.5l.15 4.8l.22-5.4l.08 5l.07-5.2l.23 2.8l.15-3.6l.29 1.4l.15 4.7l.23-5.8l.07 6.1l.15-5.8l.23 4.5l.07-1.8l.15 2.2l.15-.9l.15-2.8l.3 3.5l.15-1.8l.15 3.1l.15-7.1l.3 5.3l.07-2.9l.08 2.1l.29-3.9l.08 3.5l.07-3.6l.23 1.5l.22 3.7l.3-.5l.08-3.2l.07 4.1l.08-4.1l.29-.6l.08 3.3l.22-.7l.08 2.8l.37-3.8l.08 2l.15-4.7l.07 5.1l.3-4.4l.07 5.4l.3 0l.08-5.3l.3-.7l.07 7.1l.15-6.5l.15 4.5l.22-4.6l.23 4.1l.15 1.1l.15-4.6l.15 1.2l.15 2.3l.15-2l.07 2.8l.23-3l.14 5.1l.23-1.1l.15-3.6l.22 2.9l.15-3.5l.08-1.4l.3 3.2l.07 .9l.15-1.4l.15 2.8l.15-3.2l.22 2.7l.15-3.2l.23 2.6l.15-2.1l.22 1l.15 2.1l.22-6.6l.15 7l.23-2.2l.07-2.4l.23 1.6l.07-3.7l.15 1.1l.08 5.9l.44-4.3l.08 3l.07-1.7l.08-2.3l.3 3.6l.07-3.7l.15 .6l.3 3.8l.08-5.1l.07 4.4l.45-3.5l.07 3.5l.08 1.3l.07-4.6l.45 2.9l.08-3.6l.07-.1l.08 7.5l.29-5.5l.08 1.6l.22 .4l.15-3.9l.3 4.8l.15-5l.08 4l.22-3.1l.07 4.6l.08-4.7l.22 4.7l.23-6.5l.22-.5l.08 5.3l.15-.9l.22 2.5l.15-6.1l.15 3.7l.22 2.3l.08-4.2l.3-1.3l.07 4.6l.23 1.2l.15-3.2l.15 3.7l.22-4.3l.15 2.1l.22-4.7l.15 2.4l.15 3.8l.23-5l.15 6.8l.07-4.5l.08 1.3l.29-2.9l.15 3.1l.23-3.9l.15 4l.22-4.1l.08 6.3l.15-.7l.22-3.8l.07 .4l.15-2.6l.15 6.5l.23-5.2l.22 5.5l.15-8l.23 5l.07-3.6l.15 .2l.07 5.2l.3-5.4l.15 4.4l.15-4.2l.15 2.6l.3-2l.08 4l.22-4.9l.07 3.2l.3 1.6l.08-5.2l.15 3.9l.15-2.9l.15 2.4l.07 3.4l.3 1.5l.07-5.3l.23 3.8l.15-4.3l.3-2l.07 7.6l.23-8.1l.07 2.9l.15 4.7l.3-6.7l.15 1.1l.15 2.7l.07 2l.23-4l.22 2.1l.08-5.4l.15 5.6l.15-4.5l.29 4.5l.08-2.5l.22 2.9l.08-4.8l.22 5.6l.23-4.6l.07 1.2l.23 1.6l.07 2.4l.3-5.6l.07 2l.15 3.2l.23 1.5l.07-6.2l.23 4.4l.15-4.3l.29 3.9l.08-3.9l.3-.5l.07 4.7l.08-5.8l.15 7.8l.22-5.2l.23 4.6l.15-3.8l.22 1l.22-3.4l.08 3.9l.07 1.1l.08-5.4l.22 .3l.15 3.8l.38-2.2l.07 4.7l.22-.1l.15-6.6l.08-.1l.22 4.3l.23 2l.15-6.4l.07 1.6l.15 3.4l.37-4.7l.08 5l.15 .6l.15-3.2l.07 .5l.3 3.9l.15-6.3l.15 1.7l.15 2.2l.07-2l.15-1l.23 1.9l.3 2.5l.07-5.3l.08 4.7l.3-4.2l.07 3.8l.22-2.1l.15 3.5l.08-3.6l.22 2.2l.23-1.8l.15-1.2l.22 1.9l.15 .5l.08-3.2l.14 2.5l.15-2.3l.23-1.5l.07 4l.23 .7l.07-3.7l.38 3.6l.15-2.2l.14 2.1l.08-2.9l.22 1.2l.23 1.8l.15 0l.07-4.6l.23 .8l.22 5l.08-2l.14-1.8l.15 .8l.08 4.6l.3-2.2l.07-3.6l.23-.5l.07 2.9l.37 1.2l.15-2.9l.08-.4l.22 4.5l.3-.8l.08-3.6l.22 .5l.08-2.3l.15 3.1l.14 3.1l.3-4.8l.08 3.4l.07-2.2l.23 3.9l.3-2l.07-4.9l.08-1.5l.22 9.3l.3-1l.07-3.7l.15 3.6l.15-5.9l.15-1.5l.15 7.5l.15-7l.3 6.4l.07-2.5l.15 1.1l.23 .4l.07-2.2l.23-1.8l.22 3.3l.08-2.1l.3 4.3l.22-1.8l.07-3.3l.23 3.1l.07-4.1l.3 6l.08-2.8l.15-2l.07 5.1l.15 2.2l.15-10.2l.3 7.8l.15-5.3l.15 3.5l.15-4.2l.15-.2l.07 4.5l.38-2.6l.07 3.5l.15-4.4l.22 5.1l.3-3.6l.08 3.7l.22-3.2l.08 1.6l.22 1.7l.08-6.5" stroke="#ff00ff"/>
</g>
<line x1="396" y1="65.5" x2="431.2" y2="65.5" stroke="#0000ff" stroke-width="0.82"/>
<line x1="396" y1="82.0" x2="431.2" y2="82.0" stroke="#ff4500" stroke-width="0.82"/>
<line x1="396" y1="182.0" x2="431.2" y2="182.0" stroke="#0000ff" stroke-width="0.82"/>
<line x1="396" y1="198.3" x2="431.2" y2="198.3" stroke="#ff4500" stroke-width="0.82"/>
<line x1="396" y1="214.5" x2="431.2" y2="214.5" stroke="#00ff00" stroke-width="0.82"/>
<line x1="396" y1="230.65" x2="431.2" y2="230.65" stroke="#ff00ff" stroke-width="0.82"/>
<g opacity="0.999">
<g font-size="13">
<text x="56.3" y="63.9" text-anchor="end">10</text><text x="56.5" y="57.8" font-size="10.4">7</text>
<text x="56.3" y="180.9" text-anchor="end">10</text><text x="56.5" y="174.8" font-size="10.4">7</text>
<text x="56.3" y="102.6" text-anchor="end">10</text><text x="56.5" y="96.5" font-size="10.4">6</text>
<text x="56.3" y="221.5" text-anchor="end">10</text><text x="56.5" y="215.4" font-size="10.4">6</text>
<text x="56.3" y="141.3" text-anchor="end">10</text><text x="56.5" y="135.2" font-size="10.4">5</text>
<text x="56.3" y="262.2" text-anchor="end">10</text><text x="56.5" y="256.1" font-size="10.4">5</text>
<text x="75.0" y="306.2" text-anchor="middle">0</text>
<text x="149.7" y="306.2" text-anchor="middle">1000</text>
<text x="224.4" y="306.2" text-anchor="middle">2000</text>
<text x="299.2" y="306.2" text-anchor="middle">3000</text>
<text x="373.9" y="306.2" text-anchor="middle">4000</text>
<text x="448.6" y="306.2" text-anchor="middle">5000</text>
<text x="387.5" y="70.2" text-anchor="end">Ordinary</text>
<text x="387.5" y="86.3" text-anchor="end">Constrained</text>
<text x="381.50" y="184.7">0</text>
<text transform="translate(374.52 186.0) scale(1.14 1)" font-size="13" text-anchor="middle" class="eq">=</text>
<text x="344.12" y="185.3" font-size="15.8" class="nb">α</text>
<path d="M355.12 175.60l1.4 .5L353.52 179.70l-.45-.25z" fill="#000"/>
<text x="355.92" y="188.9" class="ss">eff</text>
<text x="379.34" y="196.4" font-size="10.4">-4</text>
<text x="366.74" y="202.4">10</text>
<text x="363.07" y="203.9" font-size="15.2" text-anchor="middle" class="nb">×</text>
<text x="343.16" y="202.4">4.4</text>
<text transform="translate(336.18 203.7) scale(1.14 1)" font-size="13" text-anchor="middle" class="eq">=</text>
<text x="305.78" y="203.0" font-size="15.8" class="nb">α</text>
<path d="M316.78 193.30l1.4 .5L315.18 197.40l-.45-.25z" fill="#000"/>
<text x="317.58" y="206.6" class="ss">eff</text>
<text x="379.34" y="212.6" font-size="10.4">-4</text>
<text x="366.74" y="218.6">10</text>
<text x="363.07" y="220.1" font-size="15.2" text-anchor="middle" class="nb">×</text>
<text x="343.16" y="218.6">8.9</text>
<text transform="translate(336.18 219.9) scale(1.14 1)" font-size="13" text-anchor="middle" class="eq">=</text>
<text x="305.78" y="219.2" font-size="15.8" class="nb">α</text>
<path d="M316.78 209.50l1.4 .5L315.18 213.60l-.45-.25z" fill="#000"/>
<text x="317.58" y="222.8" class="ss">eff</text>
<text x="379.34" y="228.4" font-size="10.4">-3</text>
<text x="366.74" y="234.4">10</text>
<text x="363.07" y="235.9" font-size="15.2" text-anchor="middle" class="nb">×</text>
<text x="343.16" y="234.4">1.8</text>
<text transform="translate(336.18 235.7) scale(1.14 1)" font-size="13" text-anchor="middle" class="eq">=</text>
<text x="305.78" y="235.0" font-size="15.8" class="nb">α</text>
<path d="M316.78 225.30l1.4 .5L315.18 229.40l-.45-.25z" fill="#000"/>
<text x="317.58" y="238.6" class="ss">eff</text>
</g>
<text transform="translate(259.8 327.6) scale(1.0 1)" font-size="18.4" font-style="italic" text-anchor="middle" class="lb">m</text>
<text transform="translate(19.3 184.8) rotate(-90) scale(0.96 1)" font-size="17.8" font-style="italic" text-anchor="middle" class="lb">I(m)</text>
</g>
</svg>
</body></html>
